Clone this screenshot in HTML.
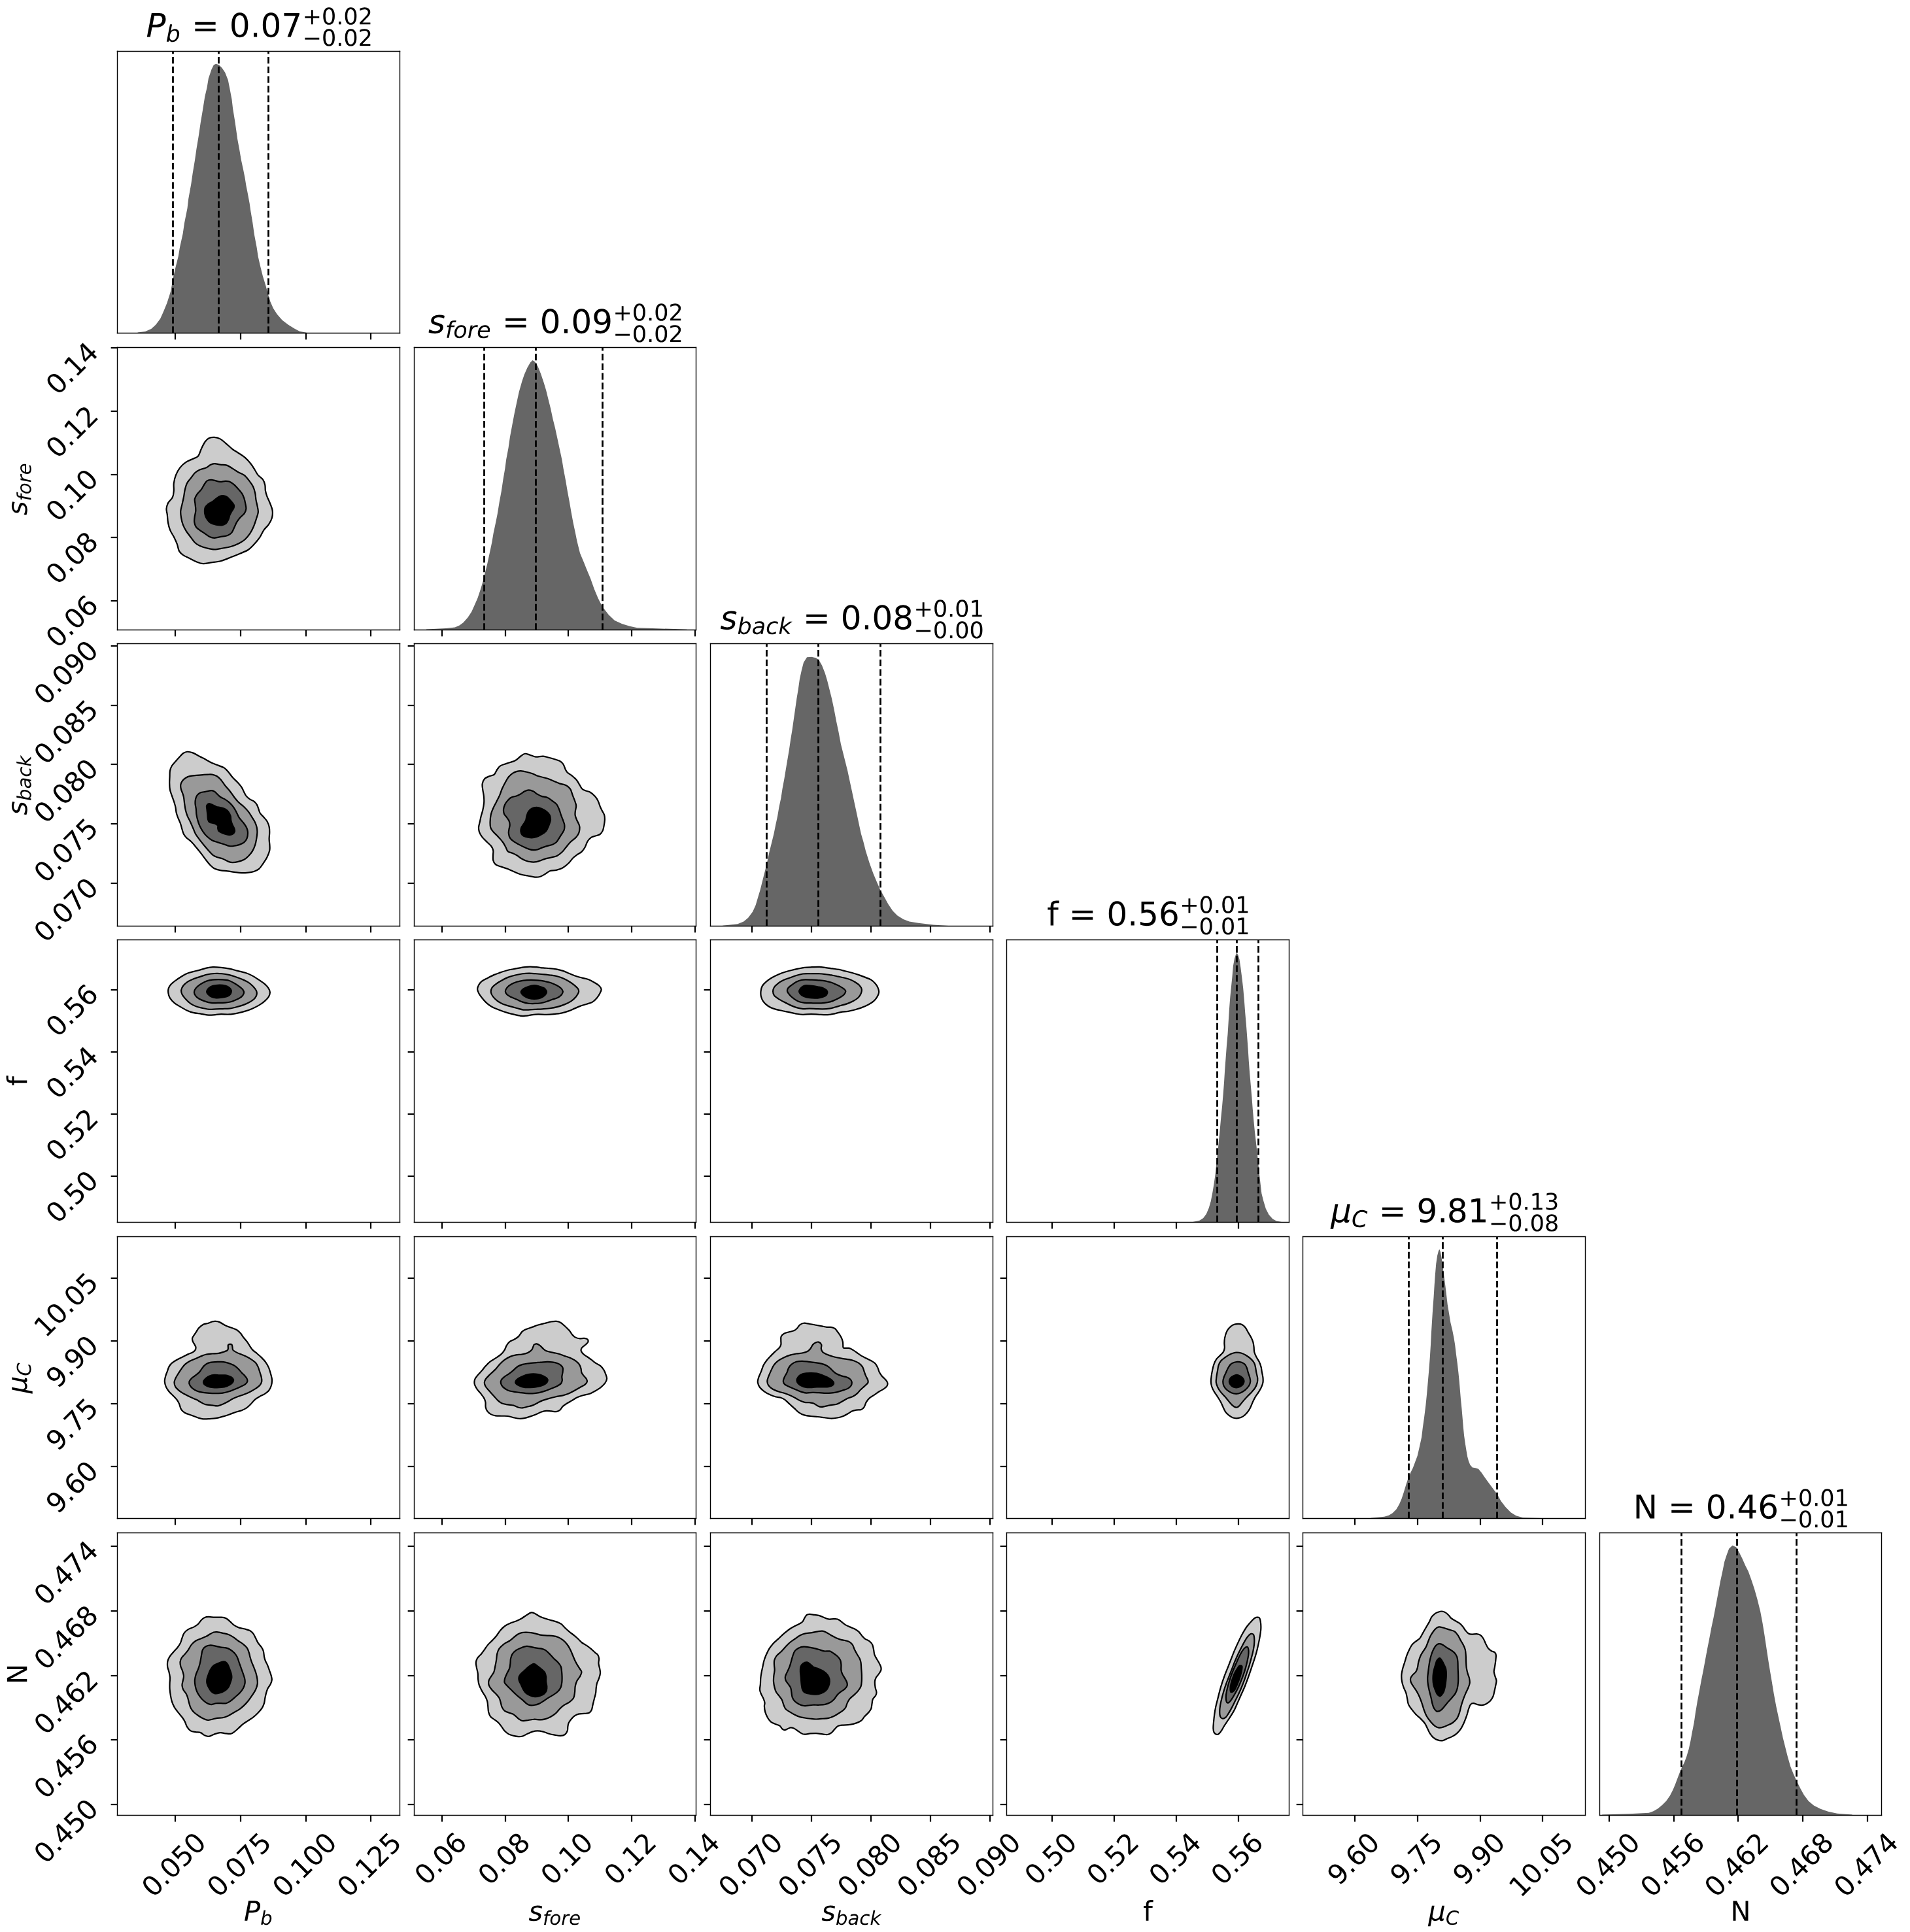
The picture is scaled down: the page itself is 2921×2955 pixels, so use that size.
<!DOCTYPE html>
<html><head><meta charset="utf-8"><title>corner</title>
<style>html,body{margin:0;padding:0;background:#fff;font-family:"Liberation Sans",sans-serif}svg{display:block}</style></head>
<body>
<svg width="2921" height="2955" viewBox="0 0 1051.56 1063.8" version="1.1"><desc>Corner plot of posterior samples for parameters P_b = 0.07 (+0.02 -0.02), s_fore = 0.09 (+0.02 -0.02), s_back = 0.08 (+0.01 -0.00), f = 0.56 (+0.01 -0.01), mu_C = 9.81 (+0.13 -0.08), N = 0.46 (+0.01 -0.01)</desc>
<defs>
<style type="text/css">*{stroke-linejoin: round; stroke-linecap: butt}</style>
</defs>
<g id="figure_1">
<g id="patch_1">
<path d="M 0 1063.8 
L 1051.56 1063.8 
L 1051.56 0 
L 0 0 
z
" style="fill: #ffffff"/>
</g>
<g id="axes_1">
<g id="patch_2">
<path d="M 64.62 183.42 
L 220.14 183.42 
L 220.14 28.26 
L 64.62 28.26 
z
" style="fill: #ffffff"/>
</g>
<g id="patch_3">
<path d="M 75.799791 183.42 
L 75.799791 183.049634 
L 79.946387 182.552042 
L 83.263665 181.059267 
L 85.751623 178.820105 
L 88.239581 175.502827 
L 89.89822 171.77089 
L 91.971518 166.794974 
L 94.044817 160.160419 
L 95.288796 153.111204 
L 96.532775 147.720628 
L 98.191414 141.086073 
L 99.020733 136.110157 
L 100.679372 128.646283 
L 101.508691 122.841047 
L 103.16733 114.547853 
L 103.747853 109.571937 
L 105.240628 101.278743 
L 106.069948 95.473508 
L 107.313927 88.009634 
L 108.143246 82.204398 
L 109.387225 74.740524 
L 110.46534 67.276649 
L 111.460524 61.471414 
L 112.787435 53.17822 
L 113.948482 48.202304 
L 114.777801 43.226387 
L 116.43644 38.250471 
L 117.680419 35.762513 
L 118.924398 35.18199 
L 120.583037 35.762513 
L 122.241675 37.421152 
L 123.900314 39.90911 
L 125.558953 44.055707 
L 126.388272 48.202304 
L 127.632251 54.836859 
L 128.212775 59.812775 
L 129.29089 66.44733 
L 130.369005 73.911204 
L 130.700733 76.399162 
L 131.778848 82.204398 
L 132.774031 88.009634 
L 133.852147 92.98555 
L 134.84733 97.961466 
L 135.510785 102.108063 
L 136.340105 106.25466 
L 137.41822 112.059895 
L 137.998743 116.206492 
L 138.993927 122.011728 
L 140.072042 129.475602 
L 141.316021 136.110157 
L 142.14534 141.500733 
L 143.389319 146.891309 
L 144.633298 151.867225 
L 146.291937 157.257801 
L 147.535916 161.819058 
L 148.779895 165.965654 
L 150.438534 169.697592 
L 152.511832 173.014869 
L 155.41445 176.332147 
L 158.731728 178.820105 
L 162.049005 180.893403 
L 164.951623 182.386178 
L 168.68356 183.132565 
L 168.68356 183.42 
z
" clip-path="url(#p8bea83e322)" style="fill: #666666"/>
</g>
<g id="matplotlib.axis_1">
<g id="xtick_1">
<g id="line2d_1">
<defs>
<path id="me9cd61fec0" d="M 0 0 
L 0 3.55 
" style="stroke: #000000; stroke-width: 0.8"/>
</defs>
<g>
<use href="#me9cd61fec0" x="96.48" y="183.42" style="stroke: #000000; stroke-width: 0.8"/>
</g>
</g>
</g>
<g id="xtick_2">
<g id="line2d_2">
<g>
<use href="#me9cd61fec0" x="132.48" y="183.42" style="stroke: #000000; stroke-width: 0.8"/>
</g>
</g>
</g>
<g id="xtick_3">
<g id="line2d_3">
<g>
<use href="#me9cd61fec0" x="168.48" y="183.42" style="stroke: #000000; stroke-width: 0.8"/>
</g>
</g>
</g>
<g id="xtick_4">
<g id="line2d_4">
<g>
<use href="#me9cd61fec0" x="204.12" y="183.42" style="stroke: #000000; stroke-width: 0.8"/>
</g>
</g>
</g>
</g>
<g id="matplotlib.axis_2"/>
<g id="line2d_5">
<path d="M 95.22 183.42 
L 95.22 28.26 
" clip-path="url(#p8bea83e322)" style="fill: none; stroke-dasharray: 3.7,1.6; stroke-dashoffset: 0; stroke: #000000"/>
</g>
<g id="line2d_6">
<path d="M 120.42 183.42 
L 120.42 28.26 
" clip-path="url(#p8bea83e322)" style="fill: none; stroke-dasharray: 3.7,1.6; stroke-dashoffset: 0; stroke: #000000"/>
</g>
<g id="line2d_7">
<path d="M 147.78 183.42 
L 147.78 28.26 
" clip-path="url(#p8bea83e322)" style="fill: none; stroke-dasharray: 3.7,1.6; stroke-dashoffset: 0; stroke: #000000"/>
</g>
<g id="patch_4">
<path d="M 64.62 183.42 
L 64.62 28.26 
" style="fill: none; stroke: #000000; stroke-width: 0.5; stroke-linejoin: miter; stroke-linecap: square"/>
</g>
<g id="patch_5">
<path d="M 220.14 183.42 
L 220.14 28.26 
" style="fill: none; stroke: #000000; stroke-width: 0.5; stroke-linejoin: miter; stroke-linecap: square"/>
</g>
<g id="patch_6">
<path d="M 64.62 183.42 
L 220.14 183.42 
" style="fill: none; stroke: #000000; stroke-width: 0.5; stroke-linejoin: miter; stroke-linecap: square"/>
</g>
<g id="patch_7">
<path d="M 64.62 28.26 
L 220.14 28.26 
" style="fill: none; stroke: #000000; stroke-width: 0.5; stroke-linejoin: miter; stroke-linecap: square"/>
</g>
<g id="text_1">
<g transform="translate(80.4348 20.46) scale(0.18 -0.18)">
<defs>
<path id="DejaVuSans-Oblique-50" d="M 1081 4666 
L 2541 4666 
Q 3178 4666 3512 4369 
Q 3847 4072 3847 3500 
Q 3847 2731 3353 2303 
Q 2859 1875 1966 1875 
L 1172 1875 
L 806 0 
L 172 0 
L 1081 4666 
z
M 1613 4147 
L 1275 2394 
L 2069 2394 
Q 2606 2394 2893 2669 
Q 3181 2944 3181 3456 
Q 3181 3784 2986 3965 
Q 2791 4147 2438 4147 
L 1613 4147 
z
" transform="scale(0.015625)"/>
<path id="DejaVuSans-Oblique-62" d="M 3169 2138 
Q 3169 2591 2961 2847 
Q 2753 3103 2388 3103 
Q 2122 3103 1889 2973 
Q 1656 2844 1484 2597 
Q 1303 2338 1198 1995 
Q 1094 1653 1094 1313 
Q 1094 881 1298 636 
Q 1503 391 1863 391 
Q 2134 391 2365 517 
Q 2597 644 2772 891 
Q 2950 1147 3059 1487 
Q 3169 1828 3169 2138 
z
M 1381 2969 
Q 1594 3256 1914 3420 
Q 2234 3584 2584 3584 
Q 3122 3584 3439 3221 
Q 3756 2859 3756 2241 
Q 3756 1734 3570 1259 
Q 3384 784 3041 416 
Q 2816 172 2522 40 
Q 2228 -91 1906 -91 
Q 1566 -91 1316 65 
Q 1066 222 909 531 
L 806 0 
L 231 0 
L 1178 4863 
L 1753 4863 
L 1381 2969 
z
" transform="scale(0.015625)"/>
<path id="DejaVuSans-20" transform="scale(0.015625)"/>
<path id="DejaVuSans-3d" d="M 678 2906 
L 4684 2906 
L 4684 2381 
L 678 2381 
L 678 2906 
z
M 678 1631 
L 4684 1631 
L 4684 1100 
L 678 1100 
L 678 1631 
z
" transform="scale(0.015625)"/>
<path id="DejaVuSans-30" d="M 2034 4250 
Q 1547 4250 1301 3770 
Q 1056 3291 1056 2328 
Q 1056 1369 1301 889 
Q 1547 409 2034 409 
Q 2525 409 2770 889 
Q 3016 1369 3016 2328 
Q 3016 3291 2770 3770 
Q 2525 4250 2034 4250 
z
M 2034 4750 
Q 2819 4750 3233 4129 
Q 3647 3509 3647 2328 
Q 3647 1150 3233 529 
Q 2819 -91 2034 -91 
Q 1250 -91 836 529 
Q 422 1150 422 2328 
Q 422 3509 836 4129 
Q 1250 4750 2034 4750 
z
" transform="scale(0.015625)"/>
<path id="DejaVuSans-2e" d="M 684 794 
L 1344 794 
L 1344 0 
L 684 0 
L 684 794 
z
" transform="scale(0.015625)"/>
<path id="DejaVuSans-37" d="M 525 4666 
L 3525 4666 
L 3525 4397 
L 1831 0 
L 1172 0 
L 2766 4134 
L 525 4134 
L 525 4666 
z
" transform="scale(0.015625)"/>
<path id="DejaVuSans-2b" d="M 2944 4013 
L 2944 2272 
L 4684 2272 
L 4684 1741 
L 2944 1741 
L 2944 0 
L 2419 0 
L 2419 1741 
L 678 1741 
L 678 2272 
L 2419 2272 
L 2419 4013 
L 2944 4013 
z
" transform="scale(0.015625)"/>
<path id="DejaVuSans-32" d="M 1228 531 
L 3431 531 
L 3431 0 
L 469 0 
L 469 531 
Q 828 903 1448 1529 
Q 2069 2156 2228 2338 
Q 2531 2678 2651 2914 
Q 2772 3150 2772 3378 
Q 2772 3750 2511 3984 
Q 2250 4219 1831 4219 
Q 1534 4219 1204 4116 
Q 875 4013 500 3803 
L 500 4441 
Q 881 4594 1212 4672 
Q 1544 4750 1819 4750 
Q 2544 4750 2975 4387 
Q 3406 4025 3406 3419 
Q 3406 3131 3298 2873 
Q 3191 2616 2906 2266 
Q 2828 2175 2409 1742 
Q 1991 1309 1228 531 
z
" transform="scale(0.015625)"/>
<path id="DejaVuSans-2212" d="M 678 2272 
L 4684 2272 
L 4684 1741 
L 678 1741 
L 678 2272 
z
" transform="scale(0.015625)"/>
</defs>
<use href="#DejaVuSans-Oblique-50" transform="translate(0 0.765625)"/>
<use href="#DejaVuSans-Oblique-62" transform="translate(60.302734 -14) scale(0.7)"/>
<use href="#DejaVuSans-20" transform="translate(107.470703 0.765625)"/>
<use href="#DejaVuSans-3d" transform="translate(139.257812 0.765625)"/>
<use href="#DejaVuSans-20" transform="translate(223.046875 0.765625)"/>
<use href="#DejaVuSans-30" transform="translate(254.833984 0.765625)"/>
<use href="#DejaVuSans-2e" transform="translate(318.457031 0.765625)"/>
<use href="#DejaVuSans-30" transform="translate(350.244141 0.765625)"/>
<use href="#DejaVuSans-37" transform="translate(413.867188 0.765625)"/>
<use href="#DejaVuSans-2b" transform="translate(478.447266 39.046875) scale(0.7)"/>
<use href="#DejaVuSans-30" transform="translate(537.099609 39.046875) scale(0.7)"/>
<use href="#DejaVuSans-2e" transform="translate(581.635742 39.046875) scale(0.7)"/>
<use href="#DejaVuSans-30" transform="translate(603.886719 39.046875) scale(0.7)"/>
<use href="#DejaVuSans-32" transform="translate(648.422852 39.046875) scale(0.7)"/>
<use href="#DejaVuSans-2212" transform="translate(478.447266 -26.578125) scale(0.7)"/>
<use href="#DejaVuSans-30" transform="translate(537.099609 -26.578125) scale(0.7)"/>
<use href="#DejaVuSans-2e" transform="translate(581.635742 -26.578125) scale(0.7)"/>
<use href="#DejaVuSans-30" transform="translate(603.886719 -26.578125) scale(0.7)"/>
<use href="#DejaVuSans-32" transform="translate(648.422852 -26.578125) scale(0.7)"/>
</g>
</g>
</g>
<g id="axes_2">
<g id="patch_8">
<path d="M 64.62 346.86 
L 220.14 346.86 
L 220.14 191.34 
L 64.62 191.34 
z
" style="fill: #ffffff"/>
</g>
<g id="patch_9">
<path d="M 118.08377 240.78534 
C 119.101571 240.860733 120.194764 241.124607 121.250262 241.690052 
C 122.305759 242.255497 123.285864 243.235602 124.416754 244.17801 
C 125.547644 245.120419 126.904712 246.477487 128.035602 247.344503 
C 129.166492 248.211518 130.071204 248.626178 131.202094 249.380105 
C 132.332984 250.134031 133.690052 250.887958 134.820942 251.868063 
C 135.951832 252.848168 137.082723 254.129843 137.987435 255.260733 
C 138.892147 256.391623 139.570681 257.597906 140.249215 258.653403 
C 140.927749 259.708901 141.304712 260.689005 142.058639 261.593717 
C 142.812565 262.498429 144.131937 263.176963 144.772775 264.081675 
C 145.413613 264.986387 145.677487 266.004188 145.903665 267.02199 
C 146.129843 268.039791 145.941361 269.132984 146.129843 270.188482 
C 146.318325 271.243979 146.619895 272.224084 147.034555 273.354974 
C 147.449215 274.485864 148.127749 275.692147 148.617801 276.973822 
C 149.107853 278.255497 149.786387 279.687958 149.974869 281.045026 
C 150.163351 282.402094 150.087958 283.834555 149.748691 285.11623 
C 149.409424 286.397906 148.693194 287.604188 147.939267 288.735079 
C 147.18534 289.865969 146.05445 290.695288 145.225131 291.901571 
C 144.395812 293.107853 143.868063 294.653403 142.963351 295.972775 
C 142.058639 297.292147 140.852356 298.686911 139.796859 299.817801 
C 138.741361 300.948691 137.912042 301.928796 136.630366 302.758115 
C 135.348691 303.587435 133.690052 304.115183 132.106806 304.793717 
C 130.52356 305.472251 128.864921 306.150785 127.13089 306.829319 
C 125.396859 307.507853 123.512042 308.374869 121.702618 308.864921 
C 119.893194 309.354974 117.932984 309.520838 116.274346 309.769634 
C 114.615707 310.018429 113.107853 310.433089 111.750785 310.357696 
C 110.393717 310.282304 109.33822 309.792251 108.131937 309.317277 
C 106.925654 308.842304 105.719372 308.110995 104.513089 307.507853 
C 103.306806 306.904712 101.874346 306.376963 100.894241 305.698429 
C 99.914136 305.019895 99.197906 304.45445 98.632461 303.436649 
C 98.067016 302.418848 97.953927 300.835602 97.501571 299.591623 
C 97.049215 298.347644 96.559162 297.25445 95.918325 295.972775 
C 95.277487 294.691099 94.22199 293.258639 93.656545 291.901571 
C 93.091099 290.544503 92.789529 289.262827 92.525654 287.830366 
C 92.26178 286.397906 92.224084 284.588482 92.073298 283.306806 
C 91.922513 282.025131 91.54555 281.195812 91.620942 280.140314 
C 91.696335 279.084817 91.960209 278.029319 92.525654 276.973822 
C 93.091099 275.918325 94.485864 274.93822 95.013613 273.80733 
C 95.541361 272.67644 95.579058 271.470157 95.692147 270.188482 
C 95.805236 268.906806 95.503665 267.549738 95.692147 266.117277 
C 95.880628 264.684817 96.257592 263.026178 96.823037 261.593717 
C 97.388482 260.161257 98.180105 258.691099 99.084817 257.522513 
C 99.989529 256.353927 101.120419 255.373822 102.251309 254.582199 
C 103.382199 253.790576 104.739267 253.33822 105.870157 252.772775 
C 107.001047 252.20733 108.20733 252.131937 109.036649 251.189529 
C 109.865969 250.24712 110.205236 248.437696 110.846073 247.118325 
C 111.486911 245.798953 112.165445 244.253403 112.881675 243.273298 
C 113.597906 242.293194 114.27644 241.652356 115.143455 241.237696 
C 116.010471 240.823037 117.065969 240.709948 118.08377 240.78534 
z
" clip-path="url(#p93e1cdfbff)" style="fill: #cccccc; stroke: #000000; stroke-width: 0.8"/>
</g>
<g id="patch_10">
<path d="M 118.08377 255.260733 
C 118.988482 255.238115 120.119372 255.652775 121.250262 255.80356 
C 122.381152 255.954346 123.73822 255.80356 124.86911 256.165445 
C 126 256.52733 126.980105 257.334031 128.035602 257.974869 
C 129.091099 258.615707 130.146597 259.40733 131.202094 260.010471 
C 132.257592 260.613613 133.388482 260.839791 134.368586 261.593717 
C 135.348691 262.347644 136.253403 263.478534 137.082723 264.534031 
C 137.912042 265.589529 138.779058 266.758115 139.344503 267.926702 
C 139.909948 269.095288 140.211518 270.339267 140.475393 271.54555 
C 140.739267 272.751832 140.739267 274.033508 140.927749 275.164398 
C 141.11623 276.295288 141.402723 277.2 141.606283 278.33089 
C 141.809843 279.46178 142.224503 280.743455 142.14911 281.949738 
C 142.073717 283.156021 141.583665 284.211518 141.153927 285.568586 
C 140.724188 286.925654 140.173822 288.697382 139.570681 290.092147 
C 138.967539 291.486911 138.326702 292.768586 137.535079 293.937173 
C 136.743455 295.105759 135.801047 296.236649 134.820942 297.103665 
C 133.840838 297.970681 132.936126 298.498429 131.65445 299.139267 
C 130.372775 299.780105 128.638743 300.496335 127.13089 300.948691 
C 125.623037 301.401047 124.115183 301.589529 122.60733 301.853403 
C 121.099476 302.117277 119.51623 302.531937 118.08377 302.531937 
C 116.651309 302.531937 115.369634 302.19267 114.012565 301.853403 
C 112.655497 301.514136 111.072251 301.024084 109.941361 300.496335 
C 108.810471 299.968586 108.056545 299.478534 107.227225 298.686911 
C 106.397906 297.895288 105.757068 296.802094 104.965445 295.746597 
C 104.173822 294.691099 103.193717 293.522513 102.477487 292.353927 
C 101.761257 291.18534 101.120419 289.941361 100.668063 288.735079 
C 100.215707 287.528796 99.966911 286.322513 99.763351 285.11623 
C 99.559791 283.909948 99.371309 282.703665 99.446702 281.497382 
C 99.522094 280.291099 99.936754 279.160209 100.215707 277.878534 
C 100.49466 276.596859 100.856545 275.164398 101.120419 273.80733 
C 101.384293 272.450262 101.497382 271.017801 101.798953 269.736126 
C 102.100524 268.45445 102.402094 267.172775 102.929843 266.117277 
C 103.457592 265.06178 104.249215 264.34555 104.965445 263.403141 
C 105.681675 262.460733 106.397906 261.25445 107.227225 260.462827 
C 108.056545 259.671204 108.885864 259.143455 109.941361 258.653403 
C 110.996859 258.163351 112.580105 257.974869 113.560209 257.522513 
C 114.540314 257.070157 115.068063 256.31623 115.82199 255.939267 
C 116.575916 255.562304 117.179058 255.283351 118.08377 255.260733 
z
" clip-path="url(#p93e1cdfbff)" style="fill: #999999; stroke: #000000; stroke-width: 0.8"/>
</g>
<g id="patch_11">
<path d="M 116.274346 264.217382 
C 117.028272 264.202304 117.706806 264.488796 118.536126 264.669738 
C 119.365445 264.850681 120.34555 265.26534 121.250262 265.303037 
C 122.154974 265.340733 123.135079 264.926073 123.964398 264.895916 
C 124.793717 264.865759 125.472251 264.843141 126.226178 265.122094 
C 126.980105 265.401047 127.658639 265.876021 128.487958 266.569634 
C 129.317277 267.263246 130.410471 268.416754 131.202094 269.28377 
C 131.993717 270.150785 132.709948 270.942408 133.237696 271.771728 
C 133.765445 272.601047 134.067016 273.39267 134.368586 274.259686 
C 134.670157 275.126702 134.858639 275.993717 135.04712 276.973822 
C 135.235602 277.953927 135.574869 279.197906 135.499476 280.140314 
C 135.424084 281.082723 135.160209 281.798953 134.594764 282.628272 
C 134.029319 283.457592 132.823037 284.286911 132.106806 285.11623 
C 131.390576 285.94555 130.825131 286.699476 130.297382 287.604188 
C 129.769634 288.508901 129.39267 289.602094 128.940314 290.544503 
C 128.487958 291.486911 128.186387 292.542408 127.583246 293.258639 
C 126.980105 293.974869 126.301571 294.464921 125.321466 294.841885 
C 124.341361 295.218848 122.908901 295.294241 121.702618 295.520419 
C 120.496335 295.746597 119.139267 296.198953 118.08377 296.198953 
C 117.028272 296.198953 116.274346 295.935079 115.369634 295.520419 
C 114.464921 295.105759 113.560209 294.314136 112.655497 293.710995 
C 111.750785 293.107853 110.732984 292.504712 109.941361 291.901571 
C 109.149738 291.298429 108.395812 290.846073 107.905759 290.092147 
C 107.415707 289.33822 107.114136 288.358115 107.001047 287.37801 
C 106.887958 286.397906 107.099058 285.267016 107.227225 284.211518 
C 107.355393 283.156021 107.732356 282.175916 107.770052 281.045026 
C 107.807749 279.914136 107.543874 278.481675 107.453403 277.426178 
C 107.362932 276.370681 107.038743 275.616754 107.227225 274.712042 
C 107.415707 273.80733 107.981152 272.864921 108.584293 271.997906 
C 109.187435 271.13089 110.205236 270.376963 110.846073 269.509948 
C 111.486911 268.642932 111.901571 267.587435 112.429319 266.795812 
C 112.957068 266.004188 113.371728 265.189948 114.012565 264.760209 
C 114.653403 264.330471 115.520419 264.232461 116.274346 264.217382 
z
" clip-path="url(#p93e1cdfbff)" style="fill: #666666; stroke: #000000; stroke-width: 0.8"/>
</g>
<g id="patch_12">
<path d="M 122.833508 272.902618 
C 123.436649 272.97801 124.15288 273.091099 124.86911 273.581152 
C 125.58534 274.071204 126.490052 275.126702 127.13089 275.842932 
C 127.771728 276.559162 128.450262 277.237696 128.714136 277.878534 
C 128.97801 278.519372 128.940314 279.009424 128.714136 279.687958 
C 128.487958 280.366492 127.734031 281.271204 127.357068 281.949738 
C 126.980105 282.628272 126.71623 283.080628 126.452356 283.759162 
C 126.188482 284.437696 126.113089 285.267016 125.773822 286.020942 
C 125.434555 286.774869 125.019895 287.754974 124.416754 288.282723 
C 123.813613 288.810471 123.059686 289.074346 122.154974 289.187435 
C 121.250262 289.300524 120.043979 289.187435 118.988482 288.961257 
C 117.932984 288.735079 116.689005 288.395812 115.82199 287.830366 
C 114.954974 287.264921 114.291518 286.397906 113.786387 285.568586 
C 113.281257 284.739267 112.94199 283.834555 112.791204 282.85445 
C 112.640419 281.874346 112.602723 280.554974 112.881675 279.687958 
C 113.160628 278.820942 113.748691 278.255497 114.464921 277.652356 
C 115.181152 277.049215 116.349738 276.634555 117.179058 276.06911 
C 118.008377 275.503665 118.762304 274.749738 119.440838 274.259686 
C 120.119372 273.769634 120.684817 273.354974 121.250262 273.128796 
C 121.815707 272.902618 122.230366 272.827225 122.833508 272.902618 
z
" clip-path="url(#p93e1cdfbff)" style="stroke: #000000; stroke-width: 0.8"/>
</g>
<g id="matplotlib.axis_3">
<g id="xtick_5">
<g id="line2d_8">
<g>
<use href="#me9cd61fec0" x="96.48" y="346.86" style="stroke: #000000; stroke-width: 0.8"/>
</g>
</g>
</g>
<g id="xtick_6">
<g id="line2d_9">
<g>
<use href="#me9cd61fec0" x="132.48" y="346.86" style="stroke: #000000; stroke-width: 0.8"/>
</g>
</g>
</g>
<g id="xtick_7">
<g id="line2d_10">
<g>
<use href="#me9cd61fec0" x="168.48" y="346.86" style="stroke: #000000; stroke-width: 0.8"/>
</g>
</g>
</g>
<g id="xtick_8">
<g id="line2d_11">
<g>
<use href="#me9cd61fec0" x="204.12" y="346.86" style="stroke: #000000; stroke-width: 0.8"/>
</g>
</g>
</g>
</g>
<g id="matplotlib.axis_4">
<g id="ytick_1">
<g id="line2d_12">
<defs>
<path id="m2ecc1fbad5" d="M 0 0 
L -3.55 0 
" style="stroke: #000000; stroke-width: 0.8"/>
</defs>
<g>
<use href="#m2ecc1fbad5" x="64.62" y="330.84" style="stroke: #000000; stroke-width: 0.8"/>
</g>
</g>
<g id="text_2">
<g transform="translate(31.6926 357.4841) rotate(-45) scale(0.15 -0.15)">
<defs>
<path id="DejaVuSans-36" d="M 2113 2584 
Q 1688 2584 1439 2293 
Q 1191 2003 1191 1497 
Q 1191 994 1439 701 
Q 1688 409 2113 409 
Q 2538 409 2786 701 
Q 3034 994 3034 1497 
Q 3034 2003 2786 2293 
Q 2538 2584 2113 2584 
z
M 3366 4563 
L 3366 3988 
Q 3128 4100 2886 4159 
Q 2644 4219 2406 4219 
Q 1781 4219 1451 3797 
Q 1122 3375 1075 2522 
Q 1259 2794 1537 2939 
Q 1816 3084 2150 3084 
Q 2853 3084 3261 2657 
Q 3669 2231 3669 1497 
Q 3669 778 3244 343 
Q 2819 -91 2113 -91 
Q 1303 -91 875 529 
Q 447 1150 447 2328 
Q 447 3434 972 4092 
Q 1497 4750 2381 4750 
Q 2619 4750 2861 4703 
Q 3103 4656 3366 4563 
z
" transform="scale(0.015625)"/>
</defs>
<use href="#DejaVuSans-30"/>
<use href="#DejaVuSans-2e" transform="translate(62.4142 0)"/>
<use href="#DejaVuSans-30" transform="translate(93.5974 0)"/>
<use href="#DejaVuSans-36" transform="translate(156.0116 0)"/>
</g>
</g>
</g>
<g id="ytick_2">
<g id="line2d_13">
<g>
<use href="#m2ecc1fbad5" x="64.62" y="295.92" style="stroke: #000000; stroke-width: 0.8"/>
</g>
</g>
<g id="text_3">
<g transform="translate(31.6926 322.5641) rotate(-45) scale(0.15 -0.15)">
<defs>
<path id="DejaVuSans-38" d="M 2034 2216 
Q 1584 2216 1326 1975 
Q 1069 1734 1069 1313 
Q 1069 891 1326 650 
Q 1584 409 2034 409 
Q 2484 409 2743 651 
Q 3003 894 3003 1313 
Q 3003 1734 2745 1975 
Q 2488 2216 2034 2216 
z
M 1403 2484 
Q 997 2584 770 2862 
Q 544 3141 544 3541 
Q 544 4100 942 4425 
Q 1341 4750 2034 4750 
Q 2731 4750 3128 4425 
Q 3525 4100 3525 3541 
Q 3525 3141 3298 2862 
Q 3072 2584 2669 2484 
Q 3125 2378 3379 2068 
Q 3634 1759 3634 1313 
Q 3634 634 3220 271 
Q 2806 -91 2034 -91 
Q 1263 -91 848 271 
Q 434 634 434 1313 
Q 434 1759 690 2068 
Q 947 2378 1403 2484 
z
M 1172 3481 
Q 1172 3119 1398 2916 
Q 1625 2713 2034 2713 
Q 2441 2713 2670 2916 
Q 2900 3119 2900 3481 
Q 2900 3844 2670 4047 
Q 2441 4250 2034 4250 
Q 1625 4250 1398 4047 
Q 1172 3844 1172 3481 
z
" transform="scale(0.015625)"/>
</defs>
<use href="#DejaVuSans-30"/>
<use href="#DejaVuSans-2e" transform="translate(62.4142 0)"/>
<use href="#DejaVuSans-30" transform="translate(93.5974 0)"/>
<use href="#DejaVuSans-38" transform="translate(156.0116 0)"/>
</g>
</g>
</g>
<g id="ytick_3">
<g id="line2d_14">
<g>
<use href="#m2ecc1fbad5" x="64.62" y="261.36" style="stroke: #000000; stroke-width: 0.8"/>
</g>
</g>
<g id="text_4">
<g transform="translate(31.6926 288.0041) rotate(-45) scale(0.15 -0.15)">
<defs>
<path id="DejaVuSans-31" d="M 794 531 
L 1825 531 
L 1825 4091 
L 703 3866 
L 703 4441 
L 1819 4666 
L 2450 4666 
L 2450 531 
L 3481 531 
L 3481 0 
L 794 0 
L 794 531 
z
" transform="scale(0.015625)"/>
</defs>
<use href="#DejaVuSans-30"/>
<use href="#DejaVuSans-2e" transform="translate(62.4142 0)"/>
<use href="#DejaVuSans-31" transform="translate(93.5974 0)"/>
<use href="#DejaVuSans-30" transform="translate(156.0116 0)"/>
</g>
</g>
</g>
<g id="ytick_4">
<g id="line2d_15">
<g>
<use href="#m2ecc1fbad5" x="64.62" y="226.44" style="stroke: #000000; stroke-width: 0.8"/>
</g>
</g>
<g id="text_5">
<g transform="translate(31.6926 253.0841) rotate(-45) scale(0.15 -0.15)">
<use href="#DejaVuSans-30"/>
<use href="#DejaVuSans-2e" transform="translate(62.4142 0)"/>
<use href="#DejaVuSans-31" transform="translate(93.5974 0)"/>
<use href="#DejaVuSans-32" transform="translate(156.0116 0)"/>
</g>
</g>
</g>
<g id="ytick_5">
<g id="line2d_16">
<g>
<use href="#m2ecc1fbad5" x="64.62" y="191.52" style="stroke: #000000; stroke-width: 0.8"/>
</g>
</g>
<g id="text_6">
<g transform="translate(31.6926 218.1641) rotate(-45) scale(0.15 -0.15)">
<defs>
<path id="DejaVuSans-34" d="M 2419 4116 
L 825 1625 
L 2419 1625 
L 2419 4116 
z
M 2253 4666 
L 3047 4666 
L 3047 1625 
L 3713 1625 
L 3713 1100 
L 3047 1100 
L 3047 0 
L 2419 0 
L 2419 1100 
L 313 1100 
L 313 1709 
L 2253 4666 
z
" transform="scale(0.015625)"/>
</defs>
<use href="#DejaVuSans-30"/>
<use href="#DejaVuSans-2e" transform="translate(62.4142 0)"/>
<use href="#DejaVuSans-31" transform="translate(93.5974 0)"/>
<use href="#DejaVuSans-34" transform="translate(156.0116 0)"/>
</g>
</g>
</g>
<g id="text_7">
<g transform="translate(14.844469 283.725) rotate(-90) scale(0.15 -0.15)">
<defs>
<path id="DejaVuSans-Oblique-73" d="M 3200 3397 
L 3091 2853 
Q 2863 2978 2609 3040 
Q 2356 3103 2088 3103 
Q 1634 3103 1373 2948 
Q 1113 2794 1113 2528 
Q 1113 2219 1719 2053 
Q 1766 2041 1788 2034 
L 1972 1978 
Q 2547 1819 2739 1644 
Q 2931 1469 2931 1166 
Q 2931 609 2489 259 
Q 2047 -91 1331 -91 
Q 1053 -91 747 -37 
Q 441 16 72 128 
L 184 722 
Q 500 559 806 475 
Q 1113 391 1394 391 
Q 1816 391 2080 572 
Q 2344 753 2344 1031 
Q 2344 1331 1650 1516 
L 1591 1531 
L 1394 1581 
Q 956 1697 753 1886 
Q 550 2075 550 2369 
Q 550 2928 970 3256 
Q 1391 3584 2113 3584 
Q 2397 3584 2667 3537 
Q 2938 3491 3200 3397 
z
" transform="scale(0.015625)"/>
<path id="DejaVuSans-Oblique-66" d="M 3059 4863 
L 2969 4384 
L 2419 4384 
Q 2106 4384 1964 4261 
Q 1822 4138 1753 3809 
L 1691 3500 
L 2638 3500 
L 2553 3053 
L 1606 3053 
L 1013 0 
L 434 0 
L 1031 3053 
L 481 3053 
L 563 3500 
L 1113 3500 
L 1159 3744 
Q 1278 4363 1576 4613 
Q 1875 4863 2516 4863 
L 3059 4863 
z
" transform="scale(0.015625)"/>
<path id="DejaVuSans-Oblique-6f" d="M 1625 -91 
Q 1009 -91 651 289 
Q 294 669 294 1325 
Q 294 1706 417 2101 
Q 541 2497 738 2766 
Q 1047 3184 1428 3384 
Q 1809 3584 2291 3584 
Q 2888 3584 3255 3212 
Q 3622 2841 3622 2241 
Q 3622 1825 3500 1412 
Q 3378 1000 3181 728 
Q 2875 309 2494 109 
Q 2113 -91 1625 -91 
z
M 891 1344 
Q 891 869 1089 633 
Q 1288 397 1691 397 
Q 2269 397 2648 901 
Q 3028 1406 3028 2181 
Q 3028 2634 2825 2865 
Q 2622 3097 2228 3097 
Q 1903 3097 1650 2945 
Q 1397 2794 1197 2484 
Q 1050 2253 970 1956 
Q 891 1659 891 1344 
z
" transform="scale(0.015625)"/>
<path id="DejaVuSans-Oblique-72" d="M 2853 2969 
Q 2766 3016 2653 3041 
Q 2541 3066 2413 3066 
Q 1953 3066 1609 2717 
Q 1266 2369 1153 1784 
L 800 0 
L 225 0 
L 909 3500 
L 1484 3500 
L 1375 2956 
Q 1603 3259 1920 3421 
Q 2238 3584 2597 3584 
Q 2691 3584 2781 3573 
Q 2872 3563 2963 3538 
L 2853 2969 
z
" transform="scale(0.015625)"/>
<path id="DejaVuSans-Oblique-65" d="M 3078 2063 
Q 3088 2113 3092 2166 
Q 3097 2219 3097 2272 
Q 3097 2653 2873 2875 
Q 2650 3097 2266 3097 
Q 1838 3097 1509 2826 
Q 1181 2556 1013 2059 
L 3078 2063 
z
M 3578 1613 
L 903 1613 
Q 884 1494 878 1425 
Q 872 1356 872 1306 
Q 872 872 1139 634 
Q 1406 397 1894 397 
Q 2269 397 2603 481 
Q 2938 566 3225 728 
L 3116 159 
Q 2806 34 2476 -28 
Q 2147 -91 1806 -91 
Q 1078 -91 686 257 
Q 294 606 294 1247 
Q 294 1794 489 2264 
Q 684 2734 1063 3103 
Q 1306 3334 1642 3459 
Q 1978 3584 2356 3584 
Q 2950 3584 3301 3228 
Q 3653 2872 3653 2272 
Q 3653 2128 3634 1964 
Q 3616 1800 3578 1613 
z
" transform="scale(0.015625)"/>
</defs>
<use href="#DejaVuSans-Oblique-73"/>
<use href="#DejaVuSans-Oblique-66" transform="translate(52.099609 -14.765625) scale(0.7)"/>
<use href="#DejaVuSans-Oblique-6f" transform="translate(76.743164 -14.765625) scale(0.7)"/>
<use href="#DejaVuSans-Oblique-72" transform="translate(119.570312 -14.765625) scale(0.7)"/>
<use href="#DejaVuSans-Oblique-65" transform="translate(148.349609 -14.765625) scale(0.7)"/>
</g>
</g>
</g>
<g id="patch_13">
<path d="M 64.62 346.86 
L 64.62 191.34 
" style="fill: none; stroke: #000000; stroke-width: 0.5; stroke-linejoin: miter; stroke-linecap: square"/>
</g>
<g id="patch_14">
<path d="M 220.14 346.86 
L 220.14 191.34 
" style="fill: none; stroke: #000000; stroke-width: 0.5; stroke-linejoin: miter; stroke-linecap: square"/>
</g>
<g id="patch_15">
<path d="M 64.62 346.86 
L 220.14 346.86 
" style="fill: none; stroke: #000000; stroke-width: 0.5; stroke-linejoin: miter; stroke-linecap: square"/>
</g>
<g id="patch_16">
<path d="M 64.62 191.34 
L 220.14 191.34 
" style="fill: none; stroke: #000000; stroke-width: 0.5; stroke-linejoin: miter; stroke-linecap: square"/>
</g>
</g>
<g id="axes_3">
<g id="patch_17">
<path d="M 228.06 346.86 
L 383.22 346.86 
L 383.22 191.34 
L 228.06 191.34 
z
" style="fill: #ffffff"/>
</g>
<g id="patch_18">
<path d="M 234.733194 346.86 
L 234.733194 346.489634 
L 245.514346 345.992042 
L 250.490262 345.411518 
L 252.97822 344.333403 
L 255.051518 342.840628 
L 257.539476 340.020942 
L 259.612775 336.869529 
L 261.271414 333.137592 
L 262.930052 329.405654 
L 264.588691 324.429738 
L 265.83267 320.283141 
L 267.076649 315.307225 
L 268.320628 310.331309 
L 269.564607 304.526073 
L 270.808586 298.720838 
L 271.637906 293.744921 
L 272.881885 287.939686 
L 273.877068 282.96377 
L 274.955183 276.329215 
L 276.033298 270.523979 
L 277.028482 263.889424 
L 278.023665 258.084188 
L 278.68712 253.108272 
L 279.931099 246.473717 
L 280.760419 240.668482 
L 282.004398 234.033927 
L 283.248377 227.399372 
L 284.492356 221.594136 
L 285.736335 215.788901 
L 287.394974 209.983665 
L 288.638953 206.251728 
L 290.297592 202.519791 
L 291.95623 199.617173 
L 293.200209 198.373194 
L 294.444188 199.202513 
L 296.102827 201.690471 
L 297.761466 205.837068 
L 299.420105 210.812984 
L 300.664084 214.959581 
L 301.908063 219.935497 
L 303.152042 224.911414 
L 304.396021 230.716649 
L 305.64 235.692565 
L 306.883979 241.497801 
L 308.127958 247.303037 
L 309.371937 253.108272 
L 310.201257 258.084188 
L 311.445236 264.718743 
L 312.440419 270.523979 
L 313.518534 276.329215 
L 314.513717 282.13445 
L 315.591832 287.939686 
L 316.669948 292.915602 
L 317.665131 297.891518 
L 319.32377 304.526073 
L 321.397068 309.50199 
L 323.055707 313.648586 
L 325.129005 318.624503 
L 327.202304 324.429738 
L 329.275602 329.405654 
L 331.597696 333.966911 
L 335.080838 338.528168 
L 338.398115 341.679581 
L 342.544712 343.504084 
L 346.691309 344.830995 
L 350.837906 345.660314 
L 359.131099 345.992042 
L 371.57089 346.32377 
L 378.205445 346.572565 
L 378.205445 346.86 
z
" clip-path="url(#p58d51e2e26)" style="fill: #666666"/>
</g>
<g id="matplotlib.axis_5">
<g id="xtick_9">
<g id="line2d_17">
<g>
<use href="#me9cd61fec0" x="243.36" y="346.86" style="stroke: #000000; stroke-width: 0.8"/>
</g>
</g>
</g>
<g id="xtick_10">
<g id="line2d_18">
<g>
<use href="#me9cd61fec0" x="278.28" y="346.86" style="stroke: #000000; stroke-width: 0.8"/>
</g>
</g>
</g>
<g id="xtick_11">
<g id="line2d_19">
<g>
<use href="#me9cd61fec0" x="312.84" y="346.86" style="stroke: #000000; stroke-width: 0.8"/>
</g>
</g>
</g>
<g id="xtick_12">
<g id="line2d_20">
<g>
<use href="#me9cd61fec0" x="347.76" y="346.86" style="stroke: #000000; stroke-width: 0.8"/>
</g>
</g>
</g>
<g id="xtick_13">
<g id="line2d_21">
<g>
<use href="#me9cd61fec0" x="382.68" y="346.86" style="stroke: #000000; stroke-width: 0.8"/>
</g>
</g>
</g>
</g>
<g id="matplotlib.axis_6"/>
<g id="line2d_22">
<path d="M 266.58 346.86 
L 266.58 191.34 
" clip-path="url(#p58d51e2e26)" style="fill: none; stroke-dasharray: 3.7,1.6; stroke-dashoffset: 0; stroke: #000000"/>
</g>
<g id="line2d_23">
<path d="M 295.02 346.86 
L 295.02 191.34 
" clip-path="url(#p58d51e2e26)" style="fill: none; stroke-dasharray: 3.7,1.6; stroke-dashoffset: 0; stroke: #000000"/>
</g>
<g id="line2d_24">
<path d="M 331.74 346.86 
L 331.74 191.34 
" clip-path="url(#p58d51e2e26)" style="fill: none; stroke-dasharray: 3.7,1.6; stroke-dashoffset: 0; stroke: #000000"/>
</g>
<g id="patch_19">
<path d="M 228.06 346.86 
L 228.06 191.34 
" style="fill: none; stroke: #000000; stroke-width: 0.5; stroke-linejoin: miter; stroke-linecap: square"/>
</g>
<g id="patch_20">
<path d="M 383.22 346.86 
L 383.22 191.34 
" style="fill: none; stroke: #000000; stroke-width: 0.5; stroke-linejoin: miter; stroke-linecap: square"/>
</g>
<g id="patch_21">
<path d="M 228.06 346.86 
L 383.22 346.86 
" style="fill: none; stroke: #000000; stroke-width: 0.5; stroke-linejoin: miter; stroke-linecap: square"/>
</g>
<g id="patch_22">
<path d="M 228.06 191.34 
L 383.22 191.34 
" style="fill: none; stroke: #000000; stroke-width: 0.5; stroke-linejoin: miter; stroke-linecap: square"/>
</g>
<g id="text_8">
<g transform="translate(235.7748 183.54) scale(0.18 -0.18)">
<defs>
<path id="DejaVuSans-39" d="M 703 97 
L 703 672 
Q 941 559 1184 500 
Q 1428 441 1663 441 
Q 2288 441 2617 861 
Q 2947 1281 2994 2138 
Q 2813 1869 2534 1725 
Q 2256 1581 1919 1581 
Q 1219 1581 811 2004 
Q 403 2428 403 3163 
Q 403 3881 828 4315 
Q 1253 4750 1959 4750 
Q 2769 4750 3195 4129 
Q 3622 3509 3622 2328 
Q 3622 1225 3098 567 
Q 2575 -91 1691 -91 
Q 1453 -91 1209 -44 
Q 966 3 703 97 
z
M 1959 2075 
Q 2384 2075 2632 2365 
Q 2881 2656 2881 3163 
Q 2881 3666 2632 3958 
Q 2384 4250 1959 4250 
Q 1534 4250 1286 3958 
Q 1038 3666 1038 3163 
Q 1038 2656 1286 2365 
Q 1534 2075 1959 2075 
z
" transform="scale(0.015625)"/>
</defs>
<use href="#DejaVuSans-Oblique-73" transform="translate(0 0.765625)"/>
<use href="#DejaVuSans-Oblique-66" transform="translate(52.099609 -14) scale(0.7)"/>
<use href="#DejaVuSans-Oblique-6f" transform="translate(76.743164 -14) scale(0.7)"/>
<use href="#DejaVuSans-Oblique-72" transform="translate(119.570312 -14) scale(0.7)"/>
<use href="#DejaVuSans-Oblique-65" transform="translate(148.349609 -14) scale(0.7)"/>
<use href="#DejaVuSans-20" transform="translate(194.150391 0.765625)"/>
<use href="#DejaVuSans-3d" transform="translate(225.9375 0.765625)"/>
<use href="#DejaVuSans-20" transform="translate(309.726562 0.765625)"/>
<use href="#DejaVuSans-30" transform="translate(341.513672 0.765625)"/>
<use href="#DejaVuSans-2e" transform="translate(405.136719 0.765625)"/>
<use href="#DejaVuSans-30" transform="translate(436.923828 0.765625)"/>
<use href="#DejaVuSans-39" transform="translate(500.546875 0.765625)"/>
<use href="#DejaVuSans-2b" transform="translate(565.126953 39.046875) scale(0.7)"/>
<use href="#DejaVuSans-30" transform="translate(623.779297 39.046875) scale(0.7)"/>
<use href="#DejaVuSans-2e" transform="translate(668.31543 39.046875) scale(0.7)"/>
<use href="#DejaVuSans-30" transform="translate(690.566406 39.046875) scale(0.7)"/>
<use href="#DejaVuSans-32" transform="translate(735.102539 39.046875) scale(0.7)"/>
<use href="#DejaVuSans-2212" transform="translate(565.126953 -26.578125) scale(0.7)"/>
<use href="#DejaVuSans-30" transform="translate(623.779297 -26.578125) scale(0.7)"/>
<use href="#DejaVuSans-2e" transform="translate(668.31543 -26.578125) scale(0.7)"/>
<use href="#DejaVuSans-30" transform="translate(690.566406 -26.578125) scale(0.7)"/>
<use href="#DejaVuSans-32" transform="translate(735.102539 -26.578125) scale(0.7)"/>
</g>
</g>
</g>
<g id="axes_4">
<g id="patch_23">
<path d="M 64.62 509.94 
L 220.14 509.94 
L 220.14 354.42 
L 64.62 354.42 
z
" style="fill: #ffffff"/>
</g>
<g id="patch_24">
<path d="M 103.174869 413.911414 
C 104.079581 413.888796 105.210471 414.15267 106.341361 414.589948 
C 107.472251 415.027225 108.829319 415.947016 109.960209 416.535079 
C 111.091099 417.123141 111.995812 417.515183 113.126702 418.118325 
C 114.257592 418.721466 115.539267 419.588482 116.74555 420.153927 
C 117.951832 420.719372 119.233508 421.058639 120.364398 421.510995 
C 121.495288 421.963351 122.626178 422.264921 123.53089 422.868063 
C 124.435602 423.471204 125.038743 424.262827 125.79267 425.129843 
C 126.546597 425.996859 127.225131 427.127749 128.05445 428.070157 
C 128.88377 429.012565 129.939267 429.879581 130.768586 430.784293 
C 131.597906 431.689005 132.427225 432.593717 133.030366 433.498429 
C 133.633508 434.403141 133.972775 435.420942 134.387435 436.212565 
C 134.802094 437.004188 134.990576 437.60733 135.518325 438.248168 
C 136.046073 438.889005 136.837696 439.567539 137.553927 440.057592 
C 138.270157 440.547644 139.174869 440.698429 139.815707 441.188482 
C 140.456545 441.678534 140.984293 442.319372 141.398953 442.997906 
C 141.813613 443.67644 142.002094 444.468063 142.303665 445.259686 
C 142.605236 446.051309 142.718325 446.956021 143.208377 447.747644 
C 143.698429 448.539267 144.603141 449.255497 145.243979 450.009424 
C 145.884817 450.763351 146.563351 451.404188 147.053403 452.271204 
C 147.543455 453.13822 147.958115 454.193717 148.184293 455.211518 
C 148.410471 456.229319 148.410471 457.24712 148.410471 458.37801 
C 148.410471 459.508901 148.169215 460.790576 148.184293 461.996859 
C 148.199372 463.203141 148.463246 464.560209 148.500942 465.615707 
C 148.538639 466.671204 148.651728 467.274346 148.410471 468.329843 
C 148.169215 469.38534 147.656545 470.742408 147.053403 471.948691 
C 146.450262 473.154974 145.54555 474.474346 144.791623 475.567539 
C 144.037696 476.660733 143.359162 477.791623 142.529843 478.507853 
C 141.700524 479.224084 140.795812 479.540733 139.815707 479.864921 
C 138.835602 480.18911 137.780105 480.324817 136.649215 480.452984 
C 135.518325 480.581152 134.312042 480.679162 133.030366 480.633927 
C 131.748691 480.588691 130.240838 480.347435 128.959162 480.181571 
C 127.677487 480.015707 126.62199 479.804607 125.340314 479.638743 
C 124.058639 479.47288 122.475393 479.412565 121.26911 479.186387 
C 120.062827 478.960209 119.00733 478.734031 118.102618 478.281675 
C 117.197906 477.829319 116.594764 477.226178 115.840838 476.472251 
C 115.086911 475.718325 114.408377 474.813613 113.579058 473.758115 
C 112.749738 472.702618 111.769634 471.307853 110.864921 470.139267 
C 109.960209 468.970681 109.055497 467.839791 108.150785 466.746597 
C 107.246073 465.653403 106.341361 464.484817 105.436649 463.580105 
C 104.531937 462.675393 103.438743 462.034555 102.722513 461.318325 
C 102.006283 460.602094 101.553927 460.074346 101.139267 459.282723 
C 100.724607 458.491099 100.536126 457.548691 100.234555 456.568586 
C 99.932984 455.588482 99.706806 454.457592 99.329843 453.402094 
C 98.95288 452.346597 98.349738 451.215707 97.972775 450.235602 
C 97.595812 449.255497 97.294241 448.501571 97.068063 447.521466 
C 96.841885 446.541361 96.841885 445.410471 96.615707 444.354974 
C 96.389529 443.299476 96.050262 442.243979 95.710995 441.188482 
C 95.371728 440.132984 94.93445 439.077487 94.580105 438.02199 
C 94.225759 436.966492 93.796021 435.986387 93.584921 434.855497 
C 93.373822 433.724607 93.336126 432.442932 93.313508 431.236649 
C 93.29089 430.030366 93.403979 428.748691 93.449215 427.617801 
C 93.49445 426.486911 93.39644 425.431414 93.584921 424.451309 
C 93.773403 423.471204 94.037277 422.641885 94.580105 421.737173 
C 95.122932 420.832461 96.087958 419.890052 96.841885 419.023037 
C 97.595812 418.156021 98.425131 417.251309 99.103665 416.535079 
C 99.782199 415.818848 100.234555 415.162932 100.913089 414.725654 
C 101.591623 414.288377 102.270157 413.934031 103.174869 413.911414 
z
" clip-path="url(#p81c290a088)" style="fill: #cccccc; stroke: #000000; stroke-width: 0.8"/>
</g>
<g id="patch_25">
<path d="M 116.74555 426.486911 
C 117.574869 426.645236 118.668063 426.939267 119.459686 427.391623 
C 120.251309 427.843979 120.741361 428.334031 121.495288 429.201047 
C 122.249215 430.068063 123.11623 431.500524 123.983246 432.593717 
C 124.850262 433.686911 125.868063 434.704712 126.697382 435.760209 
C 127.526702 436.815707 128.205236 437.946597 128.959162 438.926702 
C 129.713089 439.906806 130.31623 440.736126 131.220942 441.640838 
C 132.125654 442.54555 133.445026 443.450262 134.387435 444.354974 
C 135.329843 445.259686 136.121466 446.089005 136.875393 447.06911 
C 137.629319 448.049215 138.307853 449.255497 138.910995 450.235602 
C 139.514136 451.215707 140.079581 452.045026 140.494241 452.949738 
C 140.908901 453.85445 141.210471 454.759162 141.398953 455.663874 
C 141.587435 456.568586 141.647749 457.397906 141.625131 458.37801 
C 141.602513 459.358115 141.451728 460.413613 141.263246 461.544503 
C 141.074764 462.675393 140.886283 463.957068 140.494241 465.163351 
C 140.102199 466.369634 139.551832 467.726702 138.910995 468.782199 
C 138.270157 469.837696 137.403141 470.742408 136.649215 471.496335 
C 135.895288 472.250262 135.292147 472.815707 134.387435 473.305759 
C 133.482723 473.795812 132.27644 474.172775 131.220942 474.436649 
C 130.165445 474.700524 128.959162 474.889005 128.05445 474.889005 
C 127.149738 474.889005 126.697382 474.775916 125.79267 474.436649 
C 124.887958 474.097382 123.681675 473.268063 122.626178 472.853403 
C 121.570681 472.438743 120.364398 472.287958 119.459686 471.948691 
C 118.554974 471.609424 117.87644 471.307853 117.197906 470.817801 
C 116.519372 470.327749 116.142408 469.837696 115.388482 469.008377 
C 114.634555 468.179058 113.579058 466.935079 112.674346 465.841885 
C 111.769634 464.748691 110.789529 463.542408 109.960209 462.449215 
C 109.13089 461.356021 108.301571 460.33822 107.698429 459.282723 
C 107.095288 458.227225 106.831414 457.24712 106.341361 456.11623 
C 105.851309 454.98534 105.285864 453.628272 104.758115 452.497382 
C 104.230366 451.366492 103.604607 450.386387 103.174869 449.33089 
C 102.745131 448.275393 102.44356 447.295288 102.179686 446.164398 
C 101.915812 445.033508 101.765026 443.751832 101.591623 442.54555 
C 101.41822 441.339267 101.327749 439.906806 101.139267 438.926702 
C 100.950785 437.946597 100.709529 437.418848 100.460733 436.664921 
C 100.211937 435.910995 99.812356 435.157068 99.646492 434.403141 
C 99.480628 433.649215 99.329843 432.895288 99.46555 432.141361 
C 99.601257 431.387435 99.993298 430.520419 100.460733 429.879581 
C 100.928168 429.238743 101.591623 428.710995 102.270157 428.296335 
C 102.948691 427.881675 103.551832 427.617801 104.531937 427.391623 
C 105.512042 427.165445 106.944503 427.067435 108.150785 426.939267 
C 109.357068 426.811099 110.714136 426.70555 111.769634 426.622618 
C 112.825131 426.539686 113.65445 426.464293 114.48377 426.441675 
C 115.313089 426.419058 115.91623 426.328586 116.74555 426.486911 
z
" clip-path="url(#p81c290a088)" style="fill: #999999; stroke: #000000; stroke-width: 0.8"/>
</g>
<g id="patch_26">
<path d="M 116.519372 435.307853 
C 117.386387 435.322932 117.763351 435.609424 118.328796 435.986387 
C 118.894241 436.363351 119.384293 437.079581 119.912042 437.569634 
C 120.439791 438.059686 120.85445 438.512042 121.495288 438.926702 
C 122.136126 439.341361 122.965445 439.567539 123.757068 440.057592 
C 124.548691 440.547644 125.453403 441.150785 126.245026 441.867016 
C 127.036649 442.583246 127.865969 443.487958 128.506806 444.354974 
C 129.147644 445.22199 129.562304 446.089005 130.090052 447.06911 
C 130.617801 448.049215 131.032461 449.255497 131.673298 450.235602 
C 132.314136 451.215707 133.256545 452.045026 133.935079 452.949738 
C 134.613613 453.85445 135.329843 454.759162 135.744503 455.663874 
C 136.159162 456.568586 136.38534 457.397906 136.423037 458.37801 
C 136.460733 459.358115 136.309948 460.639791 135.970681 461.544503 
C 135.631414 462.449215 135.103665 463.203141 134.387435 463.806283 
C 133.671204 464.409424 132.653403 464.824084 131.673298 465.163351 
C 130.693194 465.502618 129.411518 465.728796 128.506806 465.841885 
C 127.602094 465.954974 127.074346 465.99267 126.245026 465.841885 
C 125.415707 465.691099 124.586387 465.27644 123.53089 464.937173 
C 122.475393 464.597906 121.042932 464.183246 119.912042 463.806283 
C 118.781152 463.429319 117.725654 463.203141 116.74555 462.675393 
C 115.765445 462.147644 114.860733 461.431414 114.031414 460.639791 
C 113.202094 459.848168 112.448168 458.905759 111.769634 457.925654 
C 111.091099 456.94555 110.450262 455.81466 109.960209 454.759162 
C 109.470157 453.703665 109.13089 452.648168 108.829319 451.59267 
C 108.527749 450.537173 108.301571 449.481675 108.150785 448.426178 
C 108 447.370681 108.037696 446.239791 107.924607 445.259686 
C 107.811518 444.279581 107.509948 443.450262 107.472251 442.54555 
C 107.434555 441.640838 107.509948 440.623037 107.698429 439.831414 
C 107.886911 439.039791 108.150785 438.361257 108.603141 437.795812 
C 109.055497 437.230366 109.658639 436.755393 110.412565 436.438743 
C 111.166492 436.122094 112.108901 436.084398 113.126702 435.895916 
C 114.144503 435.707435 115.652356 435.292775 116.519372 435.307853 
z
" clip-path="url(#p81c290a088)" style="fill: #666666; stroke: #000000; stroke-width: 0.8"/>
</g>
<g id="patch_27">
<path d="M 115.162304 442.455079 
C 115.727749 442.379686 116.557068 442.945131 117.197906 443.224084 
C 117.838743 443.503037 118.253403 443.88 119.00733 444.128796 
C 119.761257 444.377592 120.892147 444.490681 121.721466 444.716859 
C 122.550785 444.943037 123.304712 445.093822 123.983246 445.485864 
C 124.66178 445.877906 125.302618 446.428272 125.79267 447.06911 
C 126.282723 447.709948 126.697382 448.576963 126.92356 449.33089 
C 127.149738 450.084817 126.998953 450.838743 127.149738 451.59267 
C 127.300524 452.346597 127.526702 453.100524 127.828272 453.85445 
C 128.129843 454.608377 128.732984 455.437696 128.959162 456.11623 
C 129.18534 456.794764 129.336126 457.397906 129.18534 457.925654 
C 129.034555 458.453403 128.544503 458.981152 128.05445 459.282723 
C 127.564398 459.584293 126.92356 459.735079 126.245026 459.735079 
C 125.566492 459.735079 124.737173 459.508901 123.983246 459.282723 
C 123.229319 459.056545 122.324607 458.679581 121.721466 458.37801 
C 121.118325 458.07644 120.665969 457.887958 120.364398 457.473298 
C 120.062827 457.058639 119.987435 456.380105 119.912042 455.890052 
C 119.836649 455.4 120.213613 454.947644 119.912042 454.532984 
C 119.610471 454.118325 118.856545 453.703665 118.102618 453.402094 
C 117.348691 453.100524 115.991623 453.100524 115.388482 452.72356 
C 114.78534 452.346597 114.672251 451.856545 114.48377 451.140314 
C 114.295288 450.424084 114.348063 449.33089 114.257592 448.426178 
C 114.16712 447.521466 114.016335 446.503665 113.940942 445.712042 
C 113.86555 444.920419 113.601675 444.219267 113.805236 443.67644 
C 114.008796 443.133613 114.596859 442.530471 115.162304 442.455079 
z
" clip-path="url(#p81c290a088)" style="stroke: #000000; stroke-width: 0.8"/>
</g>
<g id="matplotlib.axis_7">
<g id="xtick_14">
<g id="line2d_25">
<g>
<use href="#me9cd61fec0" x="96.48" y="509.94" style="stroke: #000000; stroke-width: 0.8"/>
</g>
</g>
</g>
<g id="xtick_15">
<g id="line2d_26">
<g>
<use href="#me9cd61fec0" x="132.48" y="509.94" style="stroke: #000000; stroke-width: 0.8"/>
</g>
</g>
</g>
<g id="xtick_16">
<g id="line2d_27">
<g>
<use href="#me9cd61fec0" x="168.48" y="509.94" style="stroke: #000000; stroke-width: 0.8"/>
</g>
</g>
</g>
<g id="xtick_17">
<g id="line2d_28">
<g>
<use href="#me9cd61fec0" x="204.12" y="509.94" style="stroke: #000000; stroke-width: 0.8"/>
</g>
</g>
</g>
</g>
<g id="matplotlib.axis_8">
<g id="ytick_6">
<g id="line2d_29">
<g>
<use href="#m2ecc1fbad5" x="64.62" y="486.36" style="stroke: #000000; stroke-width: 0.8"/>
</g>
</g>
<g id="text_9">
<g transform="translate(25.0724 519.6243) rotate(-45) scale(0.15 -0.15)">
<use href="#DejaVuSans-30"/>
<use href="#DejaVuSans-2e" transform="translate(62.4142 0)"/>
<use href="#DejaVuSans-30" transform="translate(93.5974 0)"/>
<use href="#DejaVuSans-37" transform="translate(156.0116 0)"/>
<use href="#DejaVuSans-30" transform="translate(218.4258 0)"/>
</g>
</g>
</g>
<g id="ytick_7">
<g id="line2d_30">
<g>
<use href="#m2ecc1fbad5" x="64.62" y="453.6" style="stroke: #000000; stroke-width: 0.8"/>
</g>
</g>
<g id="text_10">
<g transform="translate(25.0724 486.8643) rotate(-45) scale(0.15 -0.15)">
<defs>
<path id="DejaVuSans-35" d="M 691 4666 
L 3169 4666 
L 3169 4134 
L 1269 4134 
L 1269 2991 
Q 1406 3038 1543 3061 
Q 1681 3084 1819 3084 
Q 2600 3084 3056 2656 
Q 3513 2228 3513 1497 
Q 3513 744 3044 326 
Q 2575 -91 1722 -91 
Q 1428 -91 1123 -41 
Q 819 9 494 109 
L 494 744 
Q 775 591 1075 516 
Q 1375 441 1709 441 
Q 2250 441 2565 725 
Q 2881 1009 2881 1497 
Q 2881 1984 2565 2268 
Q 2250 2553 1709 2553 
Q 1456 2553 1204 2497 
Q 953 2441 691 2322 
L 691 4666 
z
" transform="scale(0.015625)"/>
</defs>
<use href="#DejaVuSans-30"/>
<use href="#DejaVuSans-2e" transform="translate(62.4142 0)"/>
<use href="#DejaVuSans-30" transform="translate(93.5974 0)"/>
<use href="#DejaVuSans-37" transform="translate(156.0116 0)"/>
<use href="#DejaVuSans-35" transform="translate(218.4258 0)"/>
</g>
</g>
</g>
<g id="ytick_8">
<g id="line2d_31">
<g>
<use href="#m2ecc1fbad5" x="64.62" y="420.84" style="stroke: #000000; stroke-width: 0.8"/>
</g>
</g>
<g id="text_11">
<g transform="translate(25.0724 454.1043) rotate(-45) scale(0.15 -0.15)">
<use href="#DejaVuSans-30"/>
<use href="#DejaVuSans-2e" transform="translate(62.4142 0)"/>
<use href="#DejaVuSans-30" transform="translate(93.5974 0)"/>
<use href="#DejaVuSans-38" transform="translate(156.0116 0)"/>
<use href="#DejaVuSans-30" transform="translate(218.4258 0)"/>
</g>
</g>
</g>
<g id="ytick_9">
<g id="line2d_32">
<g>
<use href="#m2ecc1fbad5" x="64.62" y="388.44" style="stroke: #000000; stroke-width: 0.8"/>
</g>
</g>
<g id="text_12">
<g transform="translate(25.0724 421.7043) rotate(-45) scale(0.15 -0.15)">
<use href="#DejaVuSans-30"/>
<use href="#DejaVuSans-2e" transform="translate(62.4142 0)"/>
<use href="#DejaVuSans-30" transform="translate(93.5974 0)"/>
<use href="#DejaVuSans-38" transform="translate(156.0116 0)"/>
<use href="#DejaVuSans-35" transform="translate(218.4258 0)"/>
</g>
</g>
</g>
<g id="ytick_10">
<g id="line2d_33">
<g>
<use href="#m2ecc1fbad5" x="64.62" y="355.68" style="stroke: #000000; stroke-width: 0.8"/>
</g>
</g>
<g id="text_13">
<g transform="translate(25.0724 388.9443) rotate(-45) scale(0.15 -0.15)">
<use href="#DejaVuSans-30"/>
<use href="#DejaVuSans-2e" transform="translate(62.4142 0)"/>
<use href="#DejaVuSans-30" transform="translate(93.5974 0)"/>
<use href="#DejaVuSans-39" transform="translate(156.0116 0)"/>
<use href="#DejaVuSans-30" transform="translate(218.4258 0)"/>
</g>
</g>
</g>
<g id="text_14">
<g transform="translate(14.844469 448.83) rotate(-90) scale(0.15 -0.15)">
<defs>
<path id="DejaVuSans-Oblique-61" d="M 3438 1997 
L 3047 0 
L 2472 0 
L 2578 531 
Q 2325 219 2001 64 
Q 1678 -91 1281 -91 
Q 834 -91 548 182 
Q 263 456 263 884 
Q 263 1497 752 1853 
Q 1241 2209 2100 2209 
L 2900 2209 
L 2931 2363 
Q 2938 2388 2941 2417 
Q 2944 2447 2944 2509 
Q 2944 2788 2717 2942 
Q 2491 3097 2081 3097 
Q 1800 3097 1504 3025 
Q 1209 2953 897 2809 
L 997 3341 
Q 1322 3463 1633 3523 
Q 1944 3584 2234 3584 
Q 2853 3584 3176 3315 
Q 3500 3047 3500 2534 
Q 3500 2431 3484 2292 
Q 3469 2153 3438 1997 
z
M 2816 1759 
L 2241 1759 
Q 1534 1759 1195 1570 
Q 856 1381 856 984 
Q 856 709 1029 553 
Q 1203 397 1509 397 
Q 1978 397 2328 733 
Q 2678 1069 2791 1631 
L 2816 1759 
z
" transform="scale(0.015625)"/>
<path id="DejaVuSans-Oblique-63" d="M 3431 3366 
L 3316 2797 
Q 3109 2947 2876 3022 
Q 2644 3097 2394 3097 
Q 2119 3097 1870 3000 
Q 1622 2903 1453 2725 
Q 1184 2453 1037 2087 
Q 891 1722 891 1331 
Q 891 859 1127 628 
Q 1363 397 1844 397 
Q 2081 397 2348 469 
Q 2616 541 2906 684 
L 2797 116 
Q 2547 13 2283 -39 
Q 2019 -91 1741 -91 
Q 1044 -91 669 257 
Q 294 606 294 1253 
Q 294 1797 489 2255 
Q 684 2713 1069 3078 
Q 1331 3328 1684 3456 
Q 2038 3584 2456 3584 
Q 2700 3584 2940 3529 
Q 3181 3475 3431 3366 
z
" transform="scale(0.015625)"/>
<path id="DejaVuSans-Oblique-6b" d="M 1172 4863 
L 1747 4863 
L 1197 2028 
L 3169 3500 
L 3916 3500 
L 1716 1825 
L 3322 0 
L 2625 0 
L 1131 1709 
L 800 0 
L 225 0 
L 1172 4863 
z
" transform="scale(0.015625)"/>
</defs>
<use href="#DejaVuSans-Oblique-73"/>
<use href="#DejaVuSans-Oblique-62" transform="translate(52.099609 -14.765625) scale(0.7)"/>
<use href="#DejaVuSans-Oblique-61" transform="translate(96.533203 -14.765625) scale(0.7)"/>
<use href="#DejaVuSans-Oblique-63" transform="translate(139.428711 -14.765625) scale(0.7)"/>
<use href="#DejaVuSans-Oblique-6b" transform="translate(177.915039 -14.765625) scale(0.7)"/>
</g>
</g>
</g>
<g id="patch_28">
<path d="M 64.62 509.94 
L 64.62 354.42 
" style="fill: none; stroke: #000000; stroke-width: 0.5; stroke-linejoin: miter; stroke-linecap: square"/>
</g>
<g id="patch_29">
<path d="M 220.14 509.94 
L 220.14 354.42 
" style="fill: none; stroke: #000000; stroke-width: 0.5; stroke-linejoin: miter; stroke-linecap: square"/>
</g>
<g id="patch_30">
<path d="M 64.62 509.94 
L 220.14 509.94 
" style="fill: none; stroke: #000000; stroke-width: 0.5; stroke-linejoin: miter; stroke-linecap: square"/>
</g>
<g id="patch_31">
<path d="M 64.62 354.42 
L 220.14 354.42 
" style="fill: none; stroke: #000000; stroke-width: 0.5; stroke-linejoin: miter; stroke-linecap: square"/>
</g>
</g>
<g id="axes_5">
<g id="patch_32">
<path d="M 228.06 509.94 
L 383.22 509.94 
L 383.22 354.42 
L 228.06 354.42 
z
" style="fill: #ffffff"/>
</g>
<g id="patch_33">
<path d="M 289.074346 414.995183 
C 289.903665 414.904712 290.808377 415.432461 291.788482 415.718953 
C 292.768586 416.005445 293.748691 416.608586 294.954974 416.714136 
C 296.161257 416.819686 297.819895 416.276859 299.026178 416.352251 
C 300.232461 416.427644 301.137173 416.88 302.19267 417.166492 
C 303.248168 417.452984 304.379058 417.769634 305.359162 418.071204 
C 306.339267 418.372775 307.281675 418.52356 308.073298 418.975916 
C 308.864921 419.428272 309.581152 420.031414 310.108901 420.78534 
C 310.636649 421.539267 310.862827 422.74555 311.239791 423.499476 
C 311.616754 424.253403 311.767539 424.705759 312.370681 425.308901 
C 312.973822 425.912042 314.029319 426.439791 314.858639 427.118325 
C 315.687958 427.796859 316.668063 428.588482 317.346597 429.380105 
C 318.025131 430.171728 318.439791 431.07644 318.929843 431.868063 
C 319.419895 432.659686 319.759162 433.564398 320.286911 434.129843 
C 320.81466 434.695288 321.342408 434.921466 322.096335 435.260733 
C 322.850262 435.6 323.905759 435.637696 324.810471 436.165445 
C 325.715183 436.693194 326.770681 437.597906 327.524607 438.427225 
C 328.278534 439.256545 328.843979 440.161257 329.334031 441.141361 
C 329.824084 442.121466 330.087958 443.403141 330.464921 444.307853 
C 330.841885 445.212565 331.218848 445.815707 331.595812 446.569634 
C 331.972775 447.32356 332.500524 448.002094 332.726702 448.831414 
C 332.95288 449.660733 332.990576 450.565445 332.95288 451.54555 
C 332.915183 452.525654 332.689005 453.731937 332.500524 454.712042 
C 332.312042 455.692147 332.198953 456.634555 331.82199 457.426178 
C 331.445026 458.217801 330.954974 458.971728 330.238743 459.46178 
C 329.522513 459.951832 328.353927 460.064921 327.524607 460.366492 
C 326.695288 460.668063 325.941361 460.781152 325.262827 461.271204 
C 324.584293 461.761257 323.981152 462.439791 323.453403 463.306806 
C 322.925654 464.173822 322.624084 465.53089 322.096335 466.473298 
C 321.568586 467.415707 321.040838 468.245026 320.286911 468.961257 
C 319.532984 469.677487 318.402094 470.167539 317.572775 470.770681 
C 316.743455 471.373822 316.064921 471.826178 315.310995 472.580105 
C 314.557068 473.334031 313.953927 474.427225 313.049215 475.294241 
C 312.144503 476.161257 311.013613 477.141361 309.882723 477.782199 
C 308.751832 478.423037 307.432461 478.852775 306.263874 479.139267 
C 305.095288 479.425759 303.926702 479.124188 302.871204 479.501152 
C 301.815707 479.878115 300.873298 480.85822 299.93089 481.401047 
C 298.988482 481.943874 298.121466 482.494241 297.216754 482.758115 
C 296.312042 483.02199 295.558115 483.059686 294.502618 482.984293 
C 293.44712 482.908901 292.165445 482.554555 290.88377 482.305759 
C 289.602094 482.056963 288.018848 481.830785 286.812565 481.491518 
C 285.606283 481.152251 284.852356 480.775288 283.646073 480.270157 
C 282.439791 479.765026 280.931937 478.988482 279.574869 478.460733 
C 278.217801 477.932984 276.634555 477.518325 275.503665 477.103665 
C 274.372775 476.689005 273.452984 476.53822 272.789529 475.972775 
C 272.126073 475.40733 271.74911 474.540314 271.522932 473.710995 
C 271.296754 472.881675 271.432461 471.901571 271.432461 470.996859 
C 271.432461 470.092147 271.673717 469.112042 271.522932 468.282723 
C 271.372147 467.453403 271.070576 466.774869 270.527749 466.020942 
C 269.984921 465.267016 269.095288 464.588482 268.265969 463.759162 
C 267.436649 462.929843 266.268063 461.949738 265.551832 461.045026 
C 264.835602 460.140314 264.307853 459.235602 263.968586 458.33089 
C 263.629319 457.426178 263.478534 456.596859 263.51623 455.616754 
C 263.553927 454.636649 263.968586 453.505759 264.194764 452.450262 
C 264.420942 451.394764 264.609424 450.339267 264.873298 449.28377 
C 265.137173 448.228272 265.514136 447.32356 265.77801 446.117277 
C 266.041885 444.910995 266.358534 443.327749 266.456545 442.046073 
C 266.554555 440.764398 266.479162 439.633508 266.366073 438.427225 
C 266.252984 437.220942 265.913717 435.939267 265.77801 434.808377 
C 265.642304 433.677487 265.363351 432.659686 265.551832 431.641885 
C 265.740314 430.624084 266.230366 429.417801 266.908901 428.701571 
C 267.587435 427.98534 268.756021 427.721466 269.623037 427.344503 
C 270.490052 426.967539 271.432461 427.042932 272.110995 426.439791 
C 272.789529 425.836649 273.128796 424.517277 273.694241 423.725654 
C 274.259686 422.934031 274.598953 422.255497 275.503665 421.690052 
C 276.408377 421.124607 277.765445 420.823037 279.122513 420.332984 
C 280.479581 419.842932 282.364398 419.428272 283.646073 418.749738 
C 284.927749 418.071204 285.907853 416.887539 286.812565 416.26178 
C 287.717277 415.636021 288.245026 415.085654 289.074346 414.995183 
z
" clip-path="url(#p24df42d07b)" style="fill: #cccccc; stroke: #000000; stroke-width: 0.8"/>
</g>
<g id="patch_34">
<path d="M 286.812565 424.49466 
C 287.717277 424.547435 288.92356 424.833927 289.979058 425.082723 
C 291.034555 425.331518 292.090052 425.610471 293.14555 425.987435 
C 294.201047 426.364398 295.331937 427.005236 296.312042 427.344503 
C 297.292147 427.68377 298.046073 427.759162 299.026178 428.023037 
C 300.006283 428.286911 301.137173 428.550785 302.19267 428.927749 
C 303.248168 429.304712 304.379058 429.870157 305.359162 430.284817 
C 306.339267 430.699476 307.168586 431.114136 308.073298 431.415707 
C 308.97801 431.717277 310.033508 431.830366 310.787435 432.094241 
C 311.541361 432.358115 312.031414 432.546597 312.596859 432.998953 
C 313.162304 433.451309 313.727749 433.979058 314.180105 434.808377 
C 314.632461 435.637696 314.934031 436.957068 315.310995 437.974869 
C 315.687958 438.99267 316.125236 439.972775 316.441885 440.915183 
C 316.758534 441.857592 317.158115 442.686911 317.21089 443.629319 
C 317.263665 444.571728 316.849005 445.702618 316.758534 446.569634 
C 316.668063 447.436649 316.532356 448.002094 316.668063 448.831414 
C 316.80377 449.660733 317.233508 450.71623 317.572775 451.54555 
C 317.912042 452.374869 318.439791 453.128796 318.703665 453.80733 
C 318.967539 454.485864 319.156021 454.825131 319.156021 455.616754 
C 319.156021 456.408377 319.042932 457.652356 318.703665 458.557068 
C 318.364398 459.46178 317.912042 460.17801 317.120419 461.045026 
C 316.328796 461.912042 314.858639 462.85445 313.953927 463.759162 
C 313.049215 464.663874 312.446073 465.568586 311.692147 466.473298 
C 310.93822 467.37801 310.259686 468.395812 309.430366 469.187435 
C 308.601047 469.979058 307.696335 470.732984 306.71623 471.223037 
C 305.736126 471.713089 304.605236 471.863874 303.549738 472.127749 
C 302.494241 472.391623 301.363351 472.52733 300.383246 472.806283 
C 299.403141 473.085236 298.498429 473.514974 297.66911 473.801466 
C 296.839791 474.087958 296.236649 474.389529 295.40733 474.525236 
C 294.57801 474.660942 293.673298 474.713717 292.693194 474.615707 
C 291.713089 474.517696 290.506806 474.27644 289.526702 473.937173 
C 288.546597 473.597906 287.641885 473.070157 286.812565 472.580105 
C 285.983246 472.090052 285.304712 471.449215 284.550785 470.996859 
C 283.796859 470.544503 283.118325 470.242932 282.289005 469.865969 
C 281.459686 469.489005 280.215707 469.300524 279.574869 468.735079 
C 278.934031 468.169634 278.896335 467.302618 278.443979 466.473298 
C 277.991623 465.643979 277.576963 464.739267 276.860733 463.759162 
C 276.144503 462.779058 275.051309 461.572775 274.146597 460.59267 
C 273.241885 459.612565 272.110995 458.707853 271.432461 457.878534 
C 270.753927 457.049215 270.339267 456.521466 270.075393 455.616754 
C 269.811518 454.712042 269.811518 453.656545 269.849215 452.450262 
C 269.886911 451.243979 270.037696 449.58534 270.301571 448.379058 
C 270.565445 447.172775 270.942408 446.343455 271.432461 445.212565 
C 271.922513 444.081675 272.638743 442.8 273.241885 441.593717 
C 273.845026 440.387435 274.52356 439.181152 275.051309 437.974869 
C 275.579058 436.768586 275.880628 435.562304 276.408377 434.356021 
C 276.936126 433.149738 277.61466 431.830366 278.217801 430.737173 
C 278.820942 429.643979 279.348691 428.626178 280.027225 427.796859 
C 280.705759 426.967539 281.535079 426.266387 282.289005 425.761257 
C 283.042932 425.256126 283.796859 424.977173 284.550785 424.766073 
C 285.304712 424.554974 285.907853 424.441885 286.812565 424.49466 
z
" clip-path="url(#p24df42d07b)" style="fill: #999999; stroke: #000000; stroke-width: 0.8"/>
</g>
<g id="patch_35">
<path d="M 291.109948 435.034555 
C 291.901571 435.034555 292.806283 435.336126 293.597906 435.713089 
C 294.389529 436.090052 295.105759 436.843979 295.859686 437.296335 
C 296.613613 437.748691 297.216754 438.125654 298.121466 438.427225 
C 299.026178 438.728796 300.307853 438.691099 301.287958 439.105759 
C 302.268063 439.520419 303.135079 440.274346 304.002094 440.915183 
C 304.86911 441.556021 305.849215 442.159162 306.490052 442.950785 
C 307.13089 443.742408 307.432461 444.64712 307.84712 445.664921 
C 308.26178 446.682723 308.601047 448.002094 308.97801 449.057592 
C 309.354974 450.113089 309.80733 451.13089 310.108901 451.997906 
C 310.410471 452.864921 310.712042 453.430366 310.787435 454.259686 
C 310.862827 455.089005 310.862827 456.06911 310.561257 456.973822 
C 310.259686 457.878534 309.505759 458.820942 308.97801 459.687958 
C 308.450262 460.554974 307.84712 461.497382 307.394764 462.175916 
C 306.942408 462.85445 306.829319 463.26911 306.263874 463.759162 
C 305.698429 464.249215 304.831414 464.776963 304.002094 465.11623 
C 303.172775 465.455497 302.19267 465.53089 301.287958 465.794764 
C 300.383246 466.058639 299.478534 466.360209 298.573822 466.699476 
C 297.66911 467.038743 296.689005 467.604188 295.859686 467.830366 
C 295.030366 468.056545 294.351832 468.094241 293.597906 468.056545 
C 292.843979 468.018848 292.165445 467.868063 291.336126 467.604188 
C 290.506806 467.340314 289.602094 466.925654 288.62199 466.473298 
C 287.641885 466.020942 286.435602 465.417801 285.455497 464.890052 
C 284.475393 464.362304 283.532984 463.909948 282.741361 463.306806 
C 281.949738 462.703665 281.158115 462.025131 280.705759 461.271204 
C 280.253403 460.517277 280.102618 459.574869 280.027225 458.783246 
C 279.951832 457.991623 280.140314 457.275393 280.253403 456.521466 
C 280.366492 455.767539 280.705759 455.013613 280.705759 454.259686 
C 280.705759 453.505759 280.554974 452.714136 280.253403 451.997906 
C 279.951832 451.281675 279.348691 450.603141 278.896335 449.962304 
C 278.443979 449.321466 277.81822 448.86911 277.539267 448.15288 
C 277.260314 447.436649 277.147225 446.531937 277.222618 445.664921 
C 277.29801 444.797906 277.599581 443.780105 277.991623 442.950785 
C 278.383665 442.121466 279.009424 441.329843 279.574869 440.689005 
C 280.140314 440.048168 280.554974 439.520419 281.384293 439.105759 
C 282.213613 438.691099 283.646073 438.540314 284.550785 438.201047 
C 285.455497 437.86178 286.096335 437.484817 286.812565 437.070157 
C 287.528796 436.655497 288.131937 436.052356 288.848168 435.713089 
C 289.564398 435.373822 290.318325 435.034555 291.109948 435.034555 
z
" clip-path="url(#p24df42d07b)" style="fill: #666666; stroke: #000000; stroke-width: 0.8"/>
</g>
<g id="patch_36">
<path d="M 295.40733 444.534031 
C 296.312042 444.534031 297.216754 444.835602 298.121466 445.212565 
C 299.026178 445.589529 300.081675 446.19267 300.835602 446.795812 
C 301.589529 447.398953 302.268063 448.039791 302.645026 448.831414 
C 303.02199 449.623037 303.135079 450.71623 303.097382 451.54555 
C 303.059686 452.374869 302.682723 453.053403 302.418848 453.80733 
C 302.154974 454.561257 301.853403 455.390576 301.514136 456.06911 
C 301.174869 456.747644 300.948691 457.313089 300.383246 457.878534 
C 299.817801 458.443979 298.950785 458.971728 298.121466 459.46178 
C 297.292147 459.951832 296.312042 460.517277 295.40733 460.818848 
C 294.502618 461.120419 293.673298 461.271204 292.693194 461.271204 
C 291.713089 461.271204 290.393717 461.082723 289.526702 460.818848 
C 288.659686 460.554974 287.958534 460.17801 287.491099 459.687958 
C 287.023665 459.197906 286.797487 458.557068 286.722094 457.878534 
C 286.646702 457.2 286.759791 456.332984 287.038743 455.616754 
C 287.317696 454.900524 287.981152 454.259686 288.395812 453.581152 
C 288.810471 452.902618 289.262827 452.26178 289.526702 451.54555 
C 289.790576 450.829319 289.75288 450.037696 289.979058 449.28377 
C 290.205236 448.529843 290.431414 447.700524 290.88377 447.02199 
C 291.336126 446.343455 291.939267 445.627225 292.693194 445.212565 
C 293.44712 444.797906 294.502618 444.534031 295.40733 444.534031 
z
" clip-path="url(#p24df42d07b)" style="stroke: #000000; stroke-width: 0.8"/>
</g>
<g id="matplotlib.axis_9">
<g id="xtick_18">
<g id="line2d_34">
<g>
<use href="#me9cd61fec0" x="243.36" y="509.94" style="stroke: #000000; stroke-width: 0.8"/>
</g>
</g>
</g>
<g id="xtick_19">
<g id="line2d_35">
<g>
<use href="#me9cd61fec0" x="278.28" y="509.94" style="stroke: #000000; stroke-width: 0.8"/>
</g>
</g>
</g>
<g id="xtick_20">
<g id="line2d_36">
<g>
<use href="#me9cd61fec0" x="312.84" y="509.94" style="stroke: #000000; stroke-width: 0.8"/>
</g>
</g>
</g>
<g id="xtick_21">
<g id="line2d_37">
<g>
<use href="#me9cd61fec0" x="347.76" y="509.94" style="stroke: #000000; stroke-width: 0.8"/>
</g>
</g>
</g>
<g id="xtick_22">
<g id="line2d_38">
<g>
<use href="#me9cd61fec0" x="382.68" y="509.94" style="stroke: #000000; stroke-width: 0.8"/>
</g>
</g>
</g>
</g>
<g id="matplotlib.axis_10">
<g id="ytick_11">
<g id="line2d_39">
<g>
<use href="#m2ecc1fbad5" x="228.06" y="486.36" style="stroke: #000000; stroke-width: 0.8"/>
</g>
</g>
</g>
<g id="ytick_12">
<g id="line2d_40">
<g>
<use href="#m2ecc1fbad5" x="228.06" y="453.6" style="stroke: #000000; stroke-width: 0.8"/>
</g>
</g>
</g>
<g id="ytick_13">
<g id="line2d_41">
<g>
<use href="#m2ecc1fbad5" x="228.06" y="420.84" style="stroke: #000000; stroke-width: 0.8"/>
</g>
</g>
</g>
<g id="ytick_14">
<g id="line2d_42">
<g>
<use href="#m2ecc1fbad5" x="228.06" y="388.44" style="stroke: #000000; stroke-width: 0.8"/>
</g>
</g>
</g>
<g id="ytick_15">
<g id="line2d_43">
<g>
<use href="#m2ecc1fbad5" x="228.06" y="355.68" style="stroke: #000000; stroke-width: 0.8"/>
</g>
</g>
</g>
</g>
<g id="patch_37">
<path d="M 228.06 509.94 
L 228.06 354.42 
" style="fill: none; stroke: #000000; stroke-width: 0.5; stroke-linejoin: miter; stroke-linecap: square"/>
</g>
<g id="patch_38">
<path d="M 383.22 509.94 
L 383.22 354.42 
" style="fill: none; stroke: #000000; stroke-width: 0.5; stroke-linejoin: miter; stroke-linecap: square"/>
</g>
<g id="patch_39">
<path d="M 228.06 509.94 
L 383.22 509.94 
" style="fill: none; stroke: #000000; stroke-width: 0.5; stroke-linejoin: miter; stroke-linecap: square"/>
</g>
<g id="patch_40">
<path d="M 228.06 354.42 
L 383.22 354.42 
" style="fill: none; stroke: #000000; stroke-width: 0.5; stroke-linejoin: miter; stroke-linecap: square"/>
</g>
</g>
<g id="axes_6">
<g id="patch_41">
<path d="M 391.14 509.94 
L 546.66 509.94 
L 546.66 354.42 
L 391.14 354.42 
z
" style="fill: #ffffff"/>
</g>
<g id="patch_42">
<path d="M 397.813194 509.94 
L 397.813194 509.652565 
L 406.106387 508.740314 
L 409.423665 507.413403 
L 411.911623 505.340105 
L 414.399581 502.022827 
L 416.05822 498.29089 
L 417.302199 494.144293 
L 418.546178 489.997696 
L 419.790157 485.02178 
L 421.034136 480.045864 
L 422.278115 475.069948 
L 423.522094 469.264712 
L 424.766073 464.288796 
L 426.010052 459.31288 
L 427.005236 454.336963 
L 428.083351 449.361047 
L 428.91267 444.385131 
L 429.990785 439.409215 
L 430.737173 434.433298 
L 431.815288 428.628063 
L 432.644607 423.652147 
L 433.473927 418.67623 
L 434.46911 412.870995 
L 435.298429 407.065759 
L 436.127749 402.089843 
L 436.957068 396.284607 
L 437.786387 390.479372 
L 438.615707 384.674136 
L 439.445026 379.69822 
L 440.274346 373.892984 
L 441.352461 368.917068 
L 442.430576 364.770471 
L 444.255079 361.867853 
L 446.743037 361.70199 
L 449.230995 362.282513 
L 450.889634 363.526492 
L 452.548272 366.42911 
L 454.206911 370.575707 
L 455.45089 374.722304 
L 456.694869 379.69822 
L 457.938848 384.674136 
L 459.182827 390.479372 
L 460.426806 397.113927 
L 461.670785 402.919162 
L 462.914764 409.553717 
L 464.158743 414.529634 
L 465.402723 419.50555 
L 466.646702 424.481466 
L 467.890681 430.286702 
L 469.13466 436.091937 
L 470.378639 441.897173 
L 471.622618 447.702408 
L 472.866597 453.507644 
L 474.110576 459.31288 
L 475.354555 463.459476 
L 476.598534 468.435393 
L 478.671832 475.069948 
L 480.745131 480.875183 
L 482.818429 485.851099 
L 484.642932 489.997696 
L 486.965026 494.144293 
L 489.038325 497.87623 
L 491.526283 501.608168 
L 494.014241 504.096126 
L 497.331518 506.169424 
L 500.648796 507.413403 
L 505.624712 508.242723 
L 513.917906 509.237906 
L 522.211099 509.735497 
L 522.211099 509.94 
z
" clip-path="url(#p8ffce338e2)" style="fill: #666666"/>
</g>
<g id="matplotlib.axis_11">
<g id="xtick_23">
<g id="line2d_44">
<g>
<use href="#me9cd61fec0" x="414" y="509.94" style="stroke: #000000; stroke-width: 0.8"/>
</g>
</g>
</g>
<g id="xtick_24">
<g id="line2d_45">
<g>
<use href="#me9cd61fec0" x="446.76" y="509.94" style="stroke: #000000; stroke-width: 0.8"/>
</g>
</g>
</g>
<g id="xtick_25">
<g id="line2d_46">
<g>
<use href="#me9cd61fec0" x="479.52" y="509.94" style="stroke: #000000; stroke-width: 0.8"/>
</g>
</g>
</g>
<g id="xtick_26">
<g id="line2d_47">
<g>
<use href="#me9cd61fec0" x="512.28" y="509.94" style="stroke: #000000; stroke-width: 0.8"/>
</g>
</g>
</g>
<g id="xtick_27">
<g id="line2d_48">
<g>
<use href="#me9cd61fec0" x="545.04" y="509.94" style="stroke: #000000; stroke-width: 0.8"/>
</g>
</g>
</g>
</g>
<g id="matplotlib.axis_12"/>
<g id="line2d_49">
<path d="M 422.1 509.94 
L 422.1 354.42 
" clip-path="url(#p8ffce338e2)" style="fill: none; stroke-dasharray: 3.7,1.6; stroke-dashoffset: 0; stroke: #000000"/>
</g>
<g id="line2d_50">
<path d="M 450.54 509.94 
L 450.54 354.42 
" clip-path="url(#p8ffce338e2)" style="fill: none; stroke-dasharray: 3.7,1.6; stroke-dashoffset: 0; stroke: #000000"/>
</g>
<g id="line2d_51">
<path d="M 484.74 509.94 
L 484.74 354.42 
" clip-path="url(#p8ffce338e2)" style="fill: none; stroke-dasharray: 3.7,1.6; stroke-dashoffset: 0; stroke: #000000"/>
</g>
<g id="patch_43">
<path d="M 391.14 509.94 
L 391.14 354.42 
" style="fill: none; stroke: #000000; stroke-width: 0.5; stroke-linejoin: miter; stroke-linecap: square"/>
</g>
<g id="patch_44">
<path d="M 546.66 509.94 
L 546.66 354.42 
" style="fill: none; stroke: #000000; stroke-width: 0.5; stroke-linejoin: miter; stroke-linecap: square"/>
</g>
<g id="patch_45">
<path d="M 391.14 509.94 
L 546.66 509.94 
" style="fill: none; stroke: #000000; stroke-width: 0.5; stroke-linejoin: miter; stroke-linecap: square"/>
</g>
<g id="patch_46">
<path d="M 391.14 354.42 
L 546.66 354.42 
" style="fill: none; stroke: #000000; stroke-width: 0.5; stroke-linejoin: miter; stroke-linecap: square"/>
</g>
<g id="text_15">
<g transform="translate(396.5148 346.62) scale(0.18 -0.18)">
<use href="#DejaVuSans-Oblique-73" transform="translate(0 0.765625)"/>
<use href="#DejaVuSans-Oblique-62" transform="translate(52.099609 -14) scale(0.7)"/>
<use href="#DejaVuSans-Oblique-61" transform="translate(96.533203 -14) scale(0.7)"/>
<use href="#DejaVuSans-Oblique-63" transform="translate(139.428711 -14) scale(0.7)"/>
<use href="#DejaVuSans-Oblique-6b" transform="translate(177.915039 -14) scale(0.7)"/>
<use href="#DejaVuSans-20" transform="translate(221.186523 0.765625)"/>
<use href="#DejaVuSans-3d" transform="translate(252.973633 0.765625)"/>
<use href="#DejaVuSans-20" transform="translate(336.762695 0.765625)"/>
<use href="#DejaVuSans-30" transform="translate(368.549805 0.765625)"/>
<use href="#DejaVuSans-2e" transform="translate(432.172852 0.765625)"/>
<use href="#DejaVuSans-30" transform="translate(463.959961 0.765625)"/>
<use href="#DejaVuSans-38" transform="translate(527.583008 0.765625)"/>
<use href="#DejaVuSans-2b" transform="translate(592.163086 39.046875) scale(0.7)"/>
<use href="#DejaVuSans-30" transform="translate(650.81543 39.046875) scale(0.7)"/>
<use href="#DejaVuSans-2e" transform="translate(695.351562 39.046875) scale(0.7)"/>
<use href="#DejaVuSans-30" transform="translate(717.602539 39.046875) scale(0.7)"/>
<use href="#DejaVuSans-31" transform="translate(762.138672 39.046875) scale(0.7)"/>
<use href="#DejaVuSans-2212" transform="translate(592.163086 -26.578125) scale(0.7)"/>
<use href="#DejaVuSans-30" transform="translate(650.81543 -26.578125) scale(0.7)"/>
<use href="#DejaVuSans-2e" transform="translate(695.351562 -26.578125) scale(0.7)"/>
<use href="#DejaVuSans-30" transform="translate(717.602539 -26.578125) scale(0.7)"/>
<use href="#DejaVuSans-30" transform="translate(762.138672 -26.578125) scale(0.7)"/>
</g>
</g>
</g>
<g id="axes_7">
<g id="patch_47">
<path d="M 64.62 673.02 
L 220.14 673.02 
L 220.14 517.5 
L 64.62 517.5 
z
" style="fill: #ffffff"/>
</g>
<g id="patch_48">
<path d="M 117.197906 532.507853 
C 118.554974 532.455079 120.213613 532.583246 121.721466 532.734031 
C 123.229319 532.884817 124.737173 533.110995 126.245026 533.412565 
C 127.75288 533.714136 129.260733 534.166492 130.768586 534.543455 
C 132.27644 534.920419 133.935079 535.22199 135.292147 535.674346 
C 136.649215 536.126702 137.704712 536.616754 138.910995 537.257592 
C 140.117277 537.898429 141.398953 538.765445 142.529843 539.519372 
C 143.660733 540.273298 144.829319 541.027225 145.696335 541.781152 
C 146.563351 542.535079 147.241885 543.289005 147.731937 544.042932 
C 148.22199 544.796859 148.598953 545.513089 148.636649 546.304712 
C 148.674346 547.096335 148.448168 547.963351 147.958115 548.79267 
C 147.468063 549.62199 146.601047 550.489005 145.696335 551.280628 
C 144.791623 552.072251 143.660733 552.863874 142.529843 553.542408 
C 141.398953 554.220942 140.117277 554.824084 138.910995 555.351832 
C 137.704712 555.879581 136.649215 556.294241 135.292147 556.708901 
C 133.935079 557.12356 132.27644 557.53822 130.768586 557.839791 
C 129.260733 558.141361 127.75288 558.420314 126.245026 558.518325 
C 124.737173 558.616335 123.003141 558.390157 121.721466 558.427853 
C 120.439791 558.46555 119.685864 558.654031 118.554974 558.744503 
C 117.424084 558.834974 116.217801 559.046073 114.936126 558.970681 
C 113.65445 558.895288 112.297382 558.518325 110.864921 558.292147 
C 109.432461 558.065969 107.698429 557.95288 106.341361 557.613613 
C 104.984293 557.274346 103.928796 556.82199 102.722513 556.256545 
C 101.51623 555.691099 100.234555 554.899476 99.103665 554.220942 
C 97.972775 553.542408 96.841885 552.939267 95.937173 552.18534 
C 95.032461 551.431414 94.21822 550.564398 93.675393 549.697382 
C 93.132565 548.830366 92.830995 547.887958 92.680209 546.983246 
C 92.529424 546.078534 92.529424 545.098429 92.770681 544.26911 
C 93.011937 543.439791 93.449215 542.761257 94.127749 542.00733 
C 94.806283 541.253403 95.937173 540.424084 96.841885 539.74555 
C 97.746597 539.067016 98.575916 538.539267 99.556021 537.936126 
C 100.536126 537.332984 101.591623 536.616754 102.722513 536.126702 
C 103.853403 535.636649 105.135079 535.335079 106.341361 534.995812 
C 107.547644 534.656545 108.753927 534.415288 109.960209 534.091099 
C 111.166492 533.766911 112.372775 533.314555 113.579058 533.050681 
C 114.78534 532.786806 115.840838 532.560628 117.197906 532.507853 
z
" clip-path="url(#p4a394fea91)" style="fill: #cccccc; stroke: #000000; stroke-width: 0.8"/>
</g>
<g id="patch_49">
<path d="M 118.102618 536.03623 
C 119.459686 535.960838 120.816754 535.998534 122.173822 536.126702 
C 123.53089 536.254869 124.963351 536.503665 126.245026 536.805236 
C 127.526702 537.106806 128.657592 537.521466 129.863874 537.936126 
C 131.070157 538.350785 132.351832 538.803141 133.482723 539.293194 
C 134.613613 539.783246 135.66911 540.235602 136.649215 540.87644 
C 137.629319 541.517277 138.609424 542.346597 139.363351 543.13822 
C 140.117277 543.929843 140.856126 544.834555 141.172775 545.626178 
C 141.489424 546.417801 141.489424 547.134031 141.263246 547.887958 
C 141.037068 548.641885 140.509319 549.471204 139.815707 550.149738 
C 139.122094 550.828272 138.157068 551.393717 137.101571 551.959162 
C 136.046073 552.524607 134.689005 553.105131 133.482723 553.542408 
C 132.27644 553.979686 131.070157 554.281257 129.863874 554.582827 
C 128.657592 554.884398 127.451309 555.201047 126.245026 555.351832 
C 125.038743 555.502618 123.832461 555.449843 122.626178 555.487539 
C 121.419895 555.525236 120.213613 555.525236 119.00733 555.57801 
C 117.801047 555.630785 116.594764 555.879581 115.388482 555.804188 
C 114.182199 555.728796 112.975916 555.389529 111.769634 555.125654 
C 110.563351 554.86178 109.281675 554.635602 108.150785 554.220942 
C 107.019895 553.806283 105.964398 553.31623 104.984293 552.637696 
C 104.004188 551.959162 103.06178 551.016754 102.270157 550.149738 
C 101.478534 549.282723 100.649215 548.264921 100.234555 547.435602 
C 99.819895 546.606283 99.66911 545.965445 99.782199 545.173822 
C 99.895288 544.382199 100.347644 543.439791 100.913089 542.685864 
C 101.478534 541.931937 102.270157 541.253403 103.174869 540.650262 
C 104.079581 540.04712 105.135079 539.557068 106.341361 539.067016 
C 107.547644 538.576963 109.13089 538.124607 110.412565 537.709948 
C 111.694241 537.295288 112.749738 536.85801 114.031414 536.579058 
C 115.313089 536.300105 116.74555 536.111623 118.102618 536.03623 
z
" clip-path="url(#p4a394fea91)" style="fill: #999999; stroke: #000000; stroke-width: 0.8"/>
</g>
<g id="patch_50">
<path d="M 118.102618 539.383665 
C 119.158115 539.338429 120.892147 539.308272 122.173822 539.383665 
C 123.455497 539.459058 124.66178 539.511832 125.79267 539.836021 
C 126.92356 540.160209 127.979058 540.778429 128.959162 541.328796 
C 129.939267 541.879162 130.881675 542.535079 131.673298 543.13822 
C 132.464921 543.741361 133.271623 544.344503 133.708901 544.947644 
C 134.146178 545.550785 134.410052 546.11623 134.296963 546.757068 
C 134.183874 547.397906 133.693822 548.189529 133.030366 548.79267 
C 132.366911 549.395812 131.296335 549.908482 130.31623 550.375916 
C 129.336126 550.843351 128.205236 551.310785 127.149738 551.597277 
C 126.094241 551.88377 125.189529 551.989319 123.983246 552.094869 
C 122.776963 552.200419 121.193717 552.207958 119.912042 552.230576 
C 118.630366 552.253194 117.499476 552.388901 116.293194 552.230576 
C 115.086911 552.072251 113.805236 551.665131 112.674346 551.280628 
C 111.543455 550.896126 110.337173 550.413613 109.507853 549.92356 
C 108.678534 549.433508 108.135707 548.943455 107.698429 548.340314 
C 107.261152 547.737173 106.884188 546.983246 106.884188 546.304712 
C 106.884188 545.626178 107.185759 544.947644 107.698429 544.26911 
C 108.211099 543.590576 109.055497 542.874346 109.960209 542.233508 
C 110.864921 541.59267 112.146597 540.853822 113.126702 540.424084 
C 114.106806 539.994346 115.011518 539.828482 115.840838 539.655079 
C 116.670157 539.481675 117.04712 539.428901 118.102618 539.383665 
z
" clip-path="url(#p4a394fea91)" style="fill: #666666; stroke: #000000; stroke-width: 0.8"/>
</g>
<g id="patch_51">
<path d="M 120.816754 542.369215 
C 121.947644 542.346597 123.078534 542.444607 123.983246 542.685864 
C 124.887958 542.92712 125.679581 543.364398 126.245026 543.816754 
C 126.810471 544.26911 127.262827 544.834555 127.375916 545.4 
C 127.489005 545.965445 127.262827 546.681675 126.92356 547.209424 
C 126.584293 547.737173 126.131937 548.227225 125.340314 548.566492 
C 124.548691 548.905759 123.229319 549.094241 122.173822 549.245026 
C 121.118325 549.395812 119.987435 549.546597 119.00733 549.471204 
C 118.027225 549.395812 117.04712 549.131937 116.293194 548.79267 
C 115.539267 548.453403 114.898429 547.925654 114.48377 547.435602 
C 114.06911 546.94555 113.729843 546.417801 113.805236 545.852356 
C 113.880628 545.286911 114.370681 544.548063 114.936126 544.042932 
C 115.501571 543.537801 116.217801 543.100524 117.197906 542.821571 
C 118.17801 542.542618 119.685864 542.391832 120.816754 542.369215 
z
" clip-path="url(#p4a394fea91)" style="stroke: #000000; stroke-width: 0.8"/>
</g>
<g id="matplotlib.axis_13">
<g id="xtick_28">
<g id="line2d_52">
<g>
<use href="#me9cd61fec0" x="96.48" y="673.02" style="stroke: #000000; stroke-width: 0.8"/>
</g>
</g>
</g>
<g id="xtick_29">
<g id="line2d_53">
<g>
<use href="#me9cd61fec0" x="132.48" y="673.02" style="stroke: #000000; stroke-width: 0.8"/>
</g>
</g>
</g>
<g id="xtick_30">
<g id="line2d_54">
<g>
<use href="#me9cd61fec0" x="168.48" y="673.02" style="stroke: #000000; stroke-width: 0.8"/>
</g>
</g>
</g>
<g id="xtick_31">
<g id="line2d_55">
<g>
<use href="#me9cd61fec0" x="204.12" y="673.02" style="stroke: #000000; stroke-width: 0.8"/>
</g>
</g>
</g>
</g>
<g id="matplotlib.axis_14">
<g id="ytick_16">
<g id="line2d_56">
<g>
<use href="#m2ecc1fbad5" x="64.62" y="647.64" style="stroke: #000000; stroke-width: 0.8"/>
</g>
</g>
<g id="text_16">
<g transform="translate(31.6926 674.2841) rotate(-45) scale(0.15 -0.15)">
<use href="#DejaVuSans-30"/>
<use href="#DejaVuSans-2e" transform="translate(62.4142 0)"/>
<use href="#DejaVuSans-35" transform="translate(93.5974 0)"/>
<use href="#DejaVuSans-30" transform="translate(156.0116 0)"/>
</g>
</g>
</g>
<g id="ytick_17">
<g id="line2d_57">
<g>
<use href="#m2ecc1fbad5" x="64.62" y="613.44" style="stroke: #000000; stroke-width: 0.8"/>
</g>
</g>
<g id="text_17">
<g transform="translate(31.6926 640.0841) rotate(-45) scale(0.15 -0.15)">
<use href="#DejaVuSans-30"/>
<use href="#DejaVuSans-2e" transform="translate(62.4142 0)"/>
<use href="#DejaVuSans-35" transform="translate(93.5974 0)"/>
<use href="#DejaVuSans-32" transform="translate(156.0116 0)"/>
</g>
</g>
</g>
<g id="ytick_18">
<g id="line2d_58">
<g>
<use href="#m2ecc1fbad5" x="64.62" y="579.24" style="stroke: #000000; stroke-width: 0.8"/>
</g>
</g>
<g id="text_18">
<g transform="translate(31.6926 605.8841) rotate(-45) scale(0.15 -0.15)">
<use href="#DejaVuSans-30"/>
<use href="#DejaVuSans-2e" transform="translate(62.4142 0)"/>
<use href="#DejaVuSans-35" transform="translate(93.5974 0)"/>
<use href="#DejaVuSans-34" transform="translate(156.0116 0)"/>
</g>
</g>
</g>
<g id="ytick_19">
<g id="line2d_59">
<g>
<use href="#m2ecc1fbad5" x="64.62" y="545.04" style="stroke: #000000; stroke-width: 0.8"/>
</g>
</g>
<g id="text_19">
<g transform="translate(31.6926 571.6841) rotate(-45) scale(0.15 -0.15)">
<use href="#DejaVuSans-30"/>
<use href="#DejaVuSans-2e" transform="translate(62.4142 0)"/>
<use href="#DejaVuSans-35" transform="translate(93.5974 0)"/>
<use href="#DejaVuSans-36" transform="translate(156.0116 0)"/>
</g>
</g>
</g>
<g id="text_20">
<g transform="translate(14.844469 597.900234) rotate(-90) scale(0.15 -0.15)">
<defs>
<path id="DejaVuSans-66" d="M 2375 4863 
L 2375 4384 
L 1825 4384 
Q 1516 4384 1395 4259 
Q 1275 4134 1275 3809 
L 1275 3500 
L 2222 3500 
L 2222 3053 
L 1275 3053 
L 1275 0 
L 697 0 
L 697 3053 
L 147 3053 
L 147 3500 
L 697 3500 
L 697 3744 
Q 697 4328 969 4595 
Q 1241 4863 1831 4863 
L 2375 4863 
z
" transform="scale(0.015625)"/>
</defs>
<use href="#DejaVuSans-66"/>
</g>
</g>
</g>
<g id="patch_52">
<path d="M 64.62 673.02 
L 64.62 517.5 
" style="fill: none; stroke: #000000; stroke-width: 0.5; stroke-linejoin: miter; stroke-linecap: square"/>
</g>
<g id="patch_53">
<path d="M 220.14 673.02 
L 220.14 517.5 
" style="fill: none; stroke: #000000; stroke-width: 0.5; stroke-linejoin: miter; stroke-linecap: square"/>
</g>
<g id="patch_54">
<path d="M 64.62 673.02 
L 220.14 673.02 
" style="fill: none; stroke: #000000; stroke-width: 0.5; stroke-linejoin: miter; stroke-linecap: square"/>
</g>
<g id="patch_55">
<path d="M 64.62 517.5 
L 220.14 517.5 
" style="fill: none; stroke: #000000; stroke-width: 0.5; stroke-linejoin: miter; stroke-linecap: square"/>
</g>
</g>
<g id="axes_8">
<g id="patch_56">
<path d="M 228.06 673.02 
L 383.22 673.02 
L 383.22 517.5 
L 228.06 517.5 
z
" style="fill: #ffffff"/>
</g>
<g id="patch_57">
<path d="M 291.797906 532.281675 
C 293.004188 532.266597 294.210471 532.394764 295.416754 532.507853 
C 296.623037 532.620942 297.829319 532.84712 299.035602 532.960209 
C 300.241885 533.073298 301.448168 533.073298 302.65445 533.186387 
C 303.860733 533.299476 305.067016 533.412565 306.273298 533.638743 
C 307.479581 533.864921 308.685864 534.143874 309.892147 534.543455 
C 311.098429 534.943037 312.304712 535.546178 313.510995 536.03623 
C 314.717277 536.526283 315.998953 537.091728 317.129843 537.48377 
C 318.260733 537.875812 319.165445 538.086911 320.296335 538.388482 
C 321.427225 538.690052 322.784293 538.878534 323.915183 539.293194 
C 325.046073 539.707853 326.101571 540.310995 327.081675 540.87644 
C 328.06178 541.441885 329.132356 542.045026 329.795812 542.685864 
C 330.459267 543.326702 330.987016 544.005236 331.062408 544.721466 
C 331.137801 545.437696 330.685445 546.153927 330.248168 546.983246 
C 329.81089 547.812565 329.117277 548.905759 328.438743 549.697382 
C 327.760209 550.489005 327.081675 551.205236 326.176963 551.732984 
C 325.272251 552.260733 324.141361 552.486911 323.010471 552.863874 
C 321.879581 553.240838 320.522513 553.580105 319.391623 553.994764 
C 318.260733 554.409424 317.280628 554.899476 316.225131 555.351832 
C 315.169634 555.804188 314.189529 556.309319 313.058639 556.708901 
C 311.927749 557.108482 310.796859 557.470366 309.439791 557.749319 
C 308.082723 558.028272 306.348691 558.231832 304.91623 558.382618 
C 303.48377 558.533403 302.277487 558.631414 300.845026 558.654031 
C 299.412565 558.676649 297.603141 558.503246 296.321466 558.518325 
C 295.039791 558.533403 294.210471 558.616335 293.154974 558.744503 
C 292.099476 558.87267 290.968586 559.174241 289.988482 559.28733 
C 289.008377 559.400419 288.329843 559.513508 287.274346 559.423037 
C 286.218848 559.332565 285.012565 559.046073 283.655497 558.744503 
C 282.298429 558.442932 280.639791 558.065969 279.131937 557.613613 
C 277.624084 557.161257 276.040838 556.595812 274.608377 556.030366 
C 273.175916 555.464921 271.668063 554.86178 270.537173 554.220942 
C 269.406283 553.580105 268.652356 552.939267 267.823037 552.18534 
C 266.993717 551.431414 266.239791 550.526702 265.561257 549.697382 
C 264.882723 548.868063 264.204188 548.038743 263.751832 547.209424 
C 263.299476 546.380105 262.884817 545.513089 262.84712 544.721466 
C 262.809424 543.929843 263.148691 543.175916 263.525654 542.459686 
C 263.902618 541.743455 264.317277 541.064921 265.108901 540.424084 
C 265.900524 539.783246 267.144503 539.217801 268.275393 538.61466 
C 269.406283 538.011518 270.687958 537.332984 271.894241 536.805236 
C 273.100524 536.277487 274.306806 535.862827 275.513089 535.448168 
C 276.719372 535.033508 277.774869 534.656545 279.131937 534.317277 
C 280.489005 533.97801 282.147644 533.699058 283.655497 533.412565 
C 285.163351 533.126073 286.82199 532.786806 288.179058 532.598325 
C 289.536126 532.409843 290.591623 532.296754 291.797906 532.281675 
z
" clip-path="url(#pf3b33ba987)" style="fill: #cccccc; stroke: #000000; stroke-width: 0.8"/>
</g>
<g id="patch_58">
<path d="M 291.34555 535.900524 
C 292.551832 535.900524 293.682723 536.028691 294.964398 536.126702 
C 296.246073 536.224712 297.678534 536.35288 299.035602 536.488586 
C 300.39267 536.624293 301.825131 536.76 303.106806 536.940942 
C 304.388482 537.121885 305.519372 537.257592 306.725654 537.574241 
C 307.931937 537.89089 309.213613 538.343246 310.344503 538.840838 
C 311.475393 539.338429 312.53089 539.956649 313.510995 540.559791 
C 314.491099 541.162932 315.433508 541.80377 316.225131 542.459686 
C 317.016754 543.115602 317.868691 543.85445 318.260733 544.495288 
C 318.652775 545.136126 318.765864 545.588482 318.577382 546.304712 
C 318.388901 547.020942 317.823455 547.963351 317.129843 548.79267 
C 316.43623 549.62199 315.471204 550.564398 314.415707 551.280628 
C 313.360209 551.996859 312.078534 552.562304 310.796859 553.090052 
C 309.515183 553.617801 308.082723 554.092775 306.725654 554.44712 
C 305.368586 554.801466 304.011518 555.027644 302.65445 555.216126 
C 301.297382 555.404607 299.940314 555.48 298.583246 555.57801 
C 297.226178 555.676021 295.793717 555.728796 294.512042 555.804188 
C 293.230366 555.879581 291.948691 555.99267 290.893194 556.030366 
C 289.837696 556.068063 289.234555 556.181152 288.179058 556.030366 
C 287.12356 555.879581 285.841885 555.464921 284.560209 555.125654 
C 283.278534 554.786387 281.770681 554.371728 280.489005 553.994764 
C 279.20733 553.617801 278.001047 553.353927 276.870157 552.863874 
C 275.739267 552.373822 274.608377 551.732984 273.703665 551.05445 
C 272.798953 550.375916 272.00733 549.546597 271.441885 548.79267 
C 270.87644 548.038743 270.424084 547.322513 270.310995 546.53089 
C 270.197906 545.739267 270.348691 544.796859 270.763351 544.042932 
C 271.17801 543.289005 271.931937 542.685864 272.798953 542.00733 
C 273.665969 541.328796 274.834555 540.612565 275.965445 539.971728 
C 277.096335 539.33089 278.302618 538.667435 279.584293 538.162304 
C 280.865969 537.657173 282.298429 537.280209 283.655497 536.940942 
C 285.012565 536.601675 286.445026 536.300105 287.726702 536.126702 
C 289.008377 535.953298 290.139267 535.900524 291.34555 535.900524 
z
" clip-path="url(#pf3b33ba987)" style="fill: #999999; stroke: #000000; stroke-width: 0.8"/>
</g>
<g id="patch_59">
<path d="M 292.250262 539.564607 
C 293.531937 539.549529 294.662827 539.64 295.86911 539.74555 
C 297.075393 539.851099 298.281675 539.971728 299.487958 540.197906 
C 300.694241 540.424084 301.975916 540.725654 303.106806 541.102618 
C 304.237696 541.479581 305.33089 541.969634 306.273298 542.459686 
C 307.215707 542.949738 308.158115 543.477487 308.761257 544.042932 
C 309.364398 544.608377 309.816754 545.249215 309.892147 545.852356 
C 309.967539 546.455497 309.665969 547.096335 309.213613 547.66178 
C 308.761257 548.227225 308.045026 548.79267 307.17801 549.245026 
C 306.310995 549.697382 305.067016 549.998953 304.011518 550.375916 
C 302.956021 550.75288 301.900524 551.182618 300.845026 551.506806 
C 299.789529 551.830995 298.734031 552.140105 297.678534 552.321047 
C 296.623037 552.50199 295.642932 552.562304 294.512042 552.592461 
C 293.381152 552.622618 292.024084 552.645236 290.893194 552.50199 
C 289.762304 552.358743 288.782199 552.08733 287.726702 551.732984 
C 286.671204 551.378639 285.615707 550.828272 284.560209 550.375916 
C 283.504712 549.92356 282.298429 549.471204 281.393717 549.018848 
C 280.489005 548.566492 279.659686 548.189529 279.131937 547.66178 
C 278.604188 547.134031 278.227225 546.493194 278.227225 545.852356 
C 278.227225 545.211518 278.604188 544.457592 279.131937 543.816754 
C 279.659686 543.175916 280.489005 542.535079 281.393717 542.00733 
C 282.298429 541.479581 283.429319 541.012147 284.560209 540.650262 
C 285.691099 540.288377 286.897382 540.016963 288.179058 539.836021 
C 289.460733 539.655079 290.968586 539.579686 292.250262 539.564607 
z
" clip-path="url(#pf3b33ba987)" style="fill: #666666; stroke: #000000; stroke-width: 0.8"/>
</g>
<g id="patch_60">
<path d="M 294.059686 542.595393 
C 295.039791 542.557696 295.86911 542.806492 296.773822 543.047749 
C 297.678534 543.289005 298.809424 543.613194 299.487958 544.042932 
C 300.166492 544.47267 300.656545 545.098429 300.845026 545.626178 
C 301.033508 546.153927 300.920419 546.681675 300.618848 547.209424 
C 300.317277 547.737173 299.67644 548.362932 299.035602 548.79267 
C 298.394764 549.222408 297.603141 549.576754 296.773822 549.787853 
C 295.944503 549.998953 294.964398 550.074346 294.059686 550.059267 
C 293.154974 550.044188 292.174869 549.92356 291.34555 549.697382 
C 290.51623 549.471204 289.724607 549.079162 289.08377 548.702199 
C 288.442932 548.325236 287.877487 547.87288 287.500524 547.435602 
C 287.12356 546.998325 286.708901 546.568586 286.82199 546.078534 
C 286.935079 545.588482 287.500524 544.962723 288.179058 544.495288 
C 288.857592 544.027853 289.913089 543.590576 290.893194 543.273927 
C 291.873298 542.957277 293.079581 542.633089 294.059686 542.595393 
z
" clip-path="url(#pf3b33ba987)" style="stroke: #000000; stroke-width: 0.8"/>
</g>
<g id="matplotlib.axis_15">
<g id="xtick_32">
<g id="line2d_60">
<g>
<use href="#me9cd61fec0" x="243.36" y="673.02" style="stroke: #000000; stroke-width: 0.8"/>
</g>
</g>
</g>
<g id="xtick_33">
<g id="line2d_61">
<g>
<use href="#me9cd61fec0" x="278.28" y="673.02" style="stroke: #000000; stroke-width: 0.8"/>
</g>
</g>
</g>
<g id="xtick_34">
<g id="line2d_62">
<g>
<use href="#me9cd61fec0" x="312.84" y="673.02" style="stroke: #000000; stroke-width: 0.8"/>
</g>
</g>
</g>
<g id="xtick_35">
<g id="line2d_63">
<g>
<use href="#me9cd61fec0" x="347.76" y="673.02" style="stroke: #000000; stroke-width: 0.8"/>
</g>
</g>
</g>
<g id="xtick_36">
<g id="line2d_64">
<g>
<use href="#me9cd61fec0" x="382.68" y="673.02" style="stroke: #000000; stroke-width: 0.8"/>
</g>
</g>
</g>
</g>
<g id="matplotlib.axis_16">
<g id="ytick_20">
<g id="line2d_65">
<g>
<use href="#m2ecc1fbad5" x="228.06" y="647.64" style="stroke: #000000; stroke-width: 0.8"/>
</g>
</g>
</g>
<g id="ytick_21">
<g id="line2d_66">
<g>
<use href="#m2ecc1fbad5" x="228.06" y="613.44" style="stroke: #000000; stroke-width: 0.8"/>
</g>
</g>
</g>
<g id="ytick_22">
<g id="line2d_67">
<g>
<use href="#m2ecc1fbad5" x="228.06" y="579.24" style="stroke: #000000; stroke-width: 0.8"/>
</g>
</g>
</g>
<g id="ytick_23">
<g id="line2d_68">
<g>
<use href="#m2ecc1fbad5" x="228.06" y="545.04" style="stroke: #000000; stroke-width: 0.8"/>
</g>
</g>
</g>
</g>
<g id="patch_61">
<path d="M 228.06 673.02 
L 228.06 517.5 
" style="fill: none; stroke: #000000; stroke-width: 0.5; stroke-linejoin: miter; stroke-linecap: square"/>
</g>
<g id="patch_62">
<path d="M 383.22 673.02 
L 383.22 517.5 
" style="fill: none; stroke: #000000; stroke-width: 0.5; stroke-linejoin: miter; stroke-linecap: square"/>
</g>
<g id="patch_63">
<path d="M 228.06 673.02 
L 383.22 673.02 
" style="fill: none; stroke: #000000; stroke-width: 0.5; stroke-linejoin: miter; stroke-linecap: square"/>
</g>
<g id="patch_64">
<path d="M 228.06 517.5 
L 383.22 517.5 
" style="fill: none; stroke: #000000; stroke-width: 0.5; stroke-linejoin: miter; stroke-linecap: square"/>
</g>
</g>
<g id="axes_9">
<g id="patch_65">
<path d="M 391.14 673.02 
L 546.66 673.02 
L 546.66 517.5 
L 391.14 517.5 
z
" style="fill: #ffffff"/>
</g>
<g id="patch_66">
<path d="M 451.112042 532.417382 
C 452.393717 532.477696 453.524607 532.718953 454.73089 532.869738 
C 455.937173 533.020524 457.143455 533.15623 458.349738 533.322094 
C 459.556021 533.487958 460.762304 533.623665 461.968586 533.864921 
C 463.174869 534.106178 464.381152 534.468063 465.587435 534.769634 
C 466.793717 535.071204 468 535.335079 469.206283 535.674346 
C 470.412565 536.013613 471.618848 536.390576 472.825131 536.805236 
C 474.031414 537.219895 475.313089 537.709948 476.443979 538.162304 
C 477.574869 538.61466 478.705759 538.953927 479.610471 539.519372 
C 480.515183 540.084817 481.254031 540.838743 481.872251 541.554974 
C 482.490471 542.271204 482.980524 543.025131 483.319791 543.816754 
C 483.659058 544.608377 483.960628 545.475393 483.907853 546.304712 
C 483.855079 547.134031 483.493194 547.963351 483.003141 548.79267 
C 482.513089 549.62199 481.834555 550.526702 480.967539 551.280628 
C 480.100524 552.034555 478.931937 552.713089 477.801047 553.31623 
C 476.670157 553.919372 475.388482 554.44712 474.182199 554.899476 
C 472.975916 555.351832 471.769634 555.706178 470.563351 556.030366 
C 469.357068 556.354555 468.226178 556.633508 466.944503 556.844607 
C 465.662827 557.055707 464.154974 557.070785 462.873298 557.296963 
C 461.591623 557.523141 460.460733 557.960419 459.25445 558.201675 
C 458.048168 558.442932 456.99267 558.66911 455.635602 558.744503 
C 454.278534 558.819895 452.619895 558.714346 451.112042 558.654031 
C 449.604188 558.593717 448.096335 558.382618 446.588482 558.382618 
C 445.080628 558.382618 443.42199 558.684188 442.064921 558.654031 
C 440.707853 558.623874 439.652356 558.412775 438.446073 558.201675 
C 437.239791 557.990576 436.184293 557.673927 434.827225 557.387435 
C 433.470157 557.100942 431.811518 556.82199 430.303665 556.482723 
C 428.795812 556.143455 427.06178 555.804188 425.780105 555.351832 
C 424.498429 554.899476 423.556021 554.44712 422.613613 553.768586 
C 421.671204 553.090052 420.728796 552.147644 420.125654 551.280628 
C 419.522513 550.413613 419.198325 549.508901 418.994764 548.566492 
C 418.791204 547.624084 418.791204 546.568586 418.904293 545.626178 
C 419.017382 544.68377 419.205864 543.741361 419.673298 542.912042 
C 420.140733 542.082723 420.841885 541.404188 421.708901 540.650262 
C 422.575916 539.896335 423.744503 539.067016 424.875393 538.388482 
C 426.006283 537.709948 427.287958 537.106806 428.494241 536.579058 
C 429.700524 536.051309 430.906806 535.614031 432.113089 535.22199 
C 433.319372 534.829948 434.525654 534.528377 435.731937 534.226806 
C 436.93822 533.925236 438.144503 533.661361 439.350785 533.412565 
C 440.557068 533.16377 441.687958 532.884817 442.969634 532.734031 
C 444.251309 532.583246 445.68377 532.560628 447.040838 532.507853 
C 448.397906 532.455079 449.830366 532.357068 451.112042 532.417382 
z
" clip-path="url(#p37af299f14)" style="fill: #cccccc; stroke: #000000; stroke-width: 0.8"/>
</g>
<g id="patch_67">
<path d="M 451.112042 536.126702 
C 452.46911 536.187016 453.524607 536.337801 454.73089 536.488586 
C 455.937173 536.639372 457.218848 536.827853 458.349738 537.031414 
C 459.480628 537.234974 460.460733 537.48377 461.51623 537.709948 
C 462.571728 537.936126 463.627225 538.124607 464.682723 538.388482 
C 465.73822 538.652356 466.86911 538.91623 467.849215 539.293194 
C 468.829319 539.670157 469.696335 540.122513 470.563351 540.650262 
C 471.430366 541.17801 472.410471 541.781152 473.051309 542.459686 
C 473.692147 543.13822 474.257592 543.929843 474.408377 544.721466 
C 474.559162 545.513089 474.295288 546.417801 473.956021 547.209424 
C 473.616754 548.001047 473.089005 548.79267 472.372775 549.471204 
C 471.656545 550.149738 470.638743 550.75288 469.658639 551.280628 
C 468.678534 551.808377 467.623037 552.238115 466.492147 552.637696 
C 465.361257 553.037277 464.004188 553.353927 462.873298 553.678115 
C 461.742408 554.002304 460.762304 554.303874 459.706806 554.582827 
C 458.651309 554.86178 457.671204 555.185969 456.540314 555.351832 
C 455.409424 555.517696 454.127749 555.555393 452.921466 555.57801 
C 451.715183 555.600628 450.508901 555.525236 449.302618 555.487539 
C 448.096335 555.449843 446.890052 555.351832 445.68377 555.351832 
C 444.477487 555.351832 443.195812 555.562932 442.064921 555.487539 
C 440.934031 555.412147 440.029319 555.223665 438.898429 554.899476 
C 437.767539 554.575288 436.485864 554.070157 435.279581 553.542408 
C 434.073298 553.01466 432.791623 552.336126 431.660733 551.732984 
C 430.529843 551.129843 429.398953 550.526702 428.494241 549.92356 
C 427.589529 549.320419 426.722513 548.79267 426.232461 548.114136 
C 425.742408 547.435602 425.553927 546.606283 425.553927 545.852356 
C 425.553927 545.098429 425.780105 544.306806 426.232461 543.590576 
C 426.684817 542.874346 427.438743 542.195812 428.268063 541.554974 
C 429.097382 540.914136 430.115183 540.273298 431.208377 539.74555 
C 432.301571 539.217801 433.620942 538.825759 434.827225 538.388482 
C 436.033508 537.951204 437.239791 537.48377 438.446073 537.121885 
C 439.652356 536.76 440.707853 536.383037 442.064921 536.217173 
C 443.42199 536.051309 445.080628 536.14178 446.588482 536.126702 
C 448.096335 536.111623 449.754974 536.066387 451.112042 536.126702 
z
" clip-path="url(#p37af299f14)" style="fill: #999999; stroke: #000000; stroke-width: 0.8"/>
</g>
<g id="patch_68">
<path d="M 443.42199 539.383665 
C 444.402094 539.361047 445.834555 539.459058 447.040838 539.519372 
C 448.24712 539.579686 449.453403 539.647539 450.659686 539.74555 
C 451.865969 539.84356 453.147644 539.918953 454.278534 540.107435 
C 455.409424 540.295916 456.464921 540.559791 457.445026 540.87644 
C 458.425131 541.193089 459.25445 541.59267 460.159162 542.00733 
C 461.063874 542.42199 462.081675 542.912042 462.873298 543.364398 
C 463.664921 543.816754 464.456545 544.306806 464.908901 544.721466 
C 465.361257 545.136126 465.625131 545.362304 465.587435 545.852356 
C 465.549738 546.342408 465.210471 547.096335 464.682723 547.66178 
C 464.154974 548.227225 463.250262 548.754974 462.420942 549.245026 
C 461.591623 549.735079 460.611518 550.202513 459.706806 550.602094 
C 458.802094 551.001675 457.972775 551.378639 456.99267 551.642513 
C 456.012565 551.906387 454.957068 552.057173 453.826178 552.18534 
C 452.695288 552.313508 451.413613 552.388901 450.20733 552.411518 
C 449.001047 552.434136 447.794764 552.358743 446.588482 552.321047 
C 445.382199 552.283351 444.100524 552.321047 442.969634 552.18534 
C 441.838743 552.049634 440.783246 551.88377 439.803141 551.506806 
C 438.823037 551.129843 437.918325 550.526702 437.089005 549.92356 
C 436.259686 549.320419 435.430366 548.566492 434.827225 547.887958 
C 434.224084 547.209424 433.620942 546.493194 433.470157 545.852356 
C 433.319372 545.211518 433.54555 544.608377 433.922513 544.042932 
C 434.299476 543.477487 434.97801 543.025131 435.731937 542.459686 
C 436.485864 541.894241 437.541361 541.117696 438.446073 540.650262 
C 439.350785 540.182827 440.33089 539.866178 441.160209 539.655079 
C 441.989529 539.443979 442.441885 539.406283 443.42199 539.383665 
z
" clip-path="url(#p37af299f14)" style="fill: #666666; stroke: #000000; stroke-width: 0.8"/>
</g>
<g id="patch_69">
<path d="M 443.874346 542.595393 
C 444.628272 542.580314 445.98534 542.693403 447.040838 542.821571 
C 448.096335 542.949738 449.189529 543.160838 450.20733 543.364398 
C 451.225131 543.567958 452.356021 543.741361 453.147644 544.042932 
C 453.939267 544.344503 454.557487 544.796859 454.957068 545.173822 
C 455.356649 545.550785 455.545131 545.852356 455.545131 546.304712 
C 455.545131 546.757068 455.394346 547.435602 454.957068 547.887958 
C 454.519791 548.340314 453.713089 548.732356 452.921466 549.018848 
C 452.129843 549.30534 451.187435 549.531518 450.20733 549.606911 
C 449.227225 549.682304 448.096335 549.569215 447.040838 549.471204 
C 445.98534 549.373194 444.779058 549.245026 443.874346 549.018848 
C 442.969634 548.79267 442.215707 548.491099 441.612565 548.114136 
C 441.009424 547.737173 440.519372 547.209424 440.255497 546.757068 
C 439.991623 546.304712 439.878534 545.890052 440.029319 545.4 
C 440.180105 544.909948 440.74555 544.231414 441.160209 543.816754 
C 441.574869 543.402094 442.064921 543.115602 442.517277 542.912042 
C 442.969634 542.708482 443.120419 542.610471 443.874346 542.595393 
z
" clip-path="url(#p37af299f14)" style="stroke: #000000; stroke-width: 0.8"/>
</g>
<g id="matplotlib.axis_17">
<g id="xtick_37">
<g id="line2d_69">
<g>
<use href="#me9cd61fec0" x="414" y="673.02" style="stroke: #000000; stroke-width: 0.8"/>
</g>
</g>
</g>
<g id="xtick_38">
<g id="line2d_70">
<g>
<use href="#me9cd61fec0" x="446.76" y="673.02" style="stroke: #000000; stroke-width: 0.8"/>
</g>
</g>
</g>
<g id="xtick_39">
<g id="line2d_71">
<g>
<use href="#me9cd61fec0" x="479.52" y="673.02" style="stroke: #000000; stroke-width: 0.8"/>
</g>
</g>
</g>
<g id="xtick_40">
<g id="line2d_72">
<g>
<use href="#me9cd61fec0" x="512.28" y="673.02" style="stroke: #000000; stroke-width: 0.8"/>
</g>
</g>
</g>
<g id="xtick_41">
<g id="line2d_73">
<g>
<use href="#me9cd61fec0" x="545.04" y="673.02" style="stroke: #000000; stroke-width: 0.8"/>
</g>
</g>
</g>
</g>
<g id="matplotlib.axis_18">
<g id="ytick_24">
<g id="line2d_74">
<g>
<use href="#m2ecc1fbad5" x="391.14" y="647.64" style="stroke: #000000; stroke-width: 0.8"/>
</g>
</g>
</g>
<g id="ytick_25">
<g id="line2d_75">
<g>
<use href="#m2ecc1fbad5" x="391.14" y="613.44" style="stroke: #000000; stroke-width: 0.8"/>
</g>
</g>
</g>
<g id="ytick_26">
<g id="line2d_76">
<g>
<use href="#m2ecc1fbad5" x="391.14" y="579.24" style="stroke: #000000; stroke-width: 0.8"/>
</g>
</g>
</g>
<g id="ytick_27">
<g id="line2d_77">
<g>
<use href="#m2ecc1fbad5" x="391.14" y="545.04" style="stroke: #000000; stroke-width: 0.8"/>
</g>
</g>
</g>
</g>
<g id="patch_70">
<path d="M 391.14 673.02 
L 391.14 517.5 
" style="fill: none; stroke: #000000; stroke-width: 0.5; stroke-linejoin: miter; stroke-linecap: square"/>
</g>
<g id="patch_71">
<path d="M 546.66 673.02 
L 546.66 517.5 
" style="fill: none; stroke: #000000; stroke-width: 0.5; stroke-linejoin: miter; stroke-linecap: square"/>
</g>
<g id="patch_72">
<path d="M 391.14 673.02 
L 546.66 673.02 
" style="fill: none; stroke: #000000; stroke-width: 0.5; stroke-linejoin: miter; stroke-linecap: square"/>
</g>
<g id="patch_73">
<path d="M 391.14 517.5 
L 546.66 517.5 
" style="fill: none; stroke: #000000; stroke-width: 0.5; stroke-linejoin: miter; stroke-linecap: square"/>
</g>
</g>
<g id="axes_10">
<g id="patch_74">
<path d="M 554.22 673.02 
L 709.74 673.02 
L 709.74 517.5 
L 554.22 517.5 
z
" style="fill: #ffffff"/>
</g>
<g id="patch_75">
<path d="M 656.679581 673.02 
L 656.679581 672.815497 
L 660.411518 671.986178 
L 662.484817 670.659267 
L 664.143455 668.420105 
L 665.553298 665.102827 
L 666.631414 661.37089 
L 667.460733 657.224293 
L 668.290052 652.248377 
L 669.119372 646.443141 
L 669.699895 640.637906 
L 670.363351 634.83267 
L 671.026806 628.198115 
L 671.60733 622.39288 
L 672.187853 615.758325 
L 672.851309 609.12377 
L 673.431832 602.489215 
L 673.929424 595.85466 
L 674.344084 589.220105 
L 674.841675 582.58555 
L 675.339267 575.950995 
L 675.919791 569.31644 
L 676.33445 562.681885 
L 676.74911 556.04733 
L 677.246702 549.412775 
L 677.827225 543.607539 
L 678.407749 537.802304 
L 678.90534 531.997068 
L 679.651728 527.850471 
L 680.481047 525.362513 
L 680.978639 524.78199 
L 681.642094 525.777173 
L 682.388482 528.265131 
L 683.051937 532.826387 
L 683.798325 538.631623 
L 684.46178 544.436859 
L 685.042304 551.071414 
L 685.539895 557.705969 
L 686.120419 564.340524 
L 686.61801 570.975079 
L 687.115602 577.609634 
L 687.530262 584.244188 
L 688.027853 590.878743 
L 688.608377 597.513298 
L 689.188901 604.147853 
L 689.686492 610.782408 
L 690.267016 617.416963 
L 690.847539 623.222199 
L 691.510995 629.027435 
L 692.17445 634.83267 
L 692.754974 640.637906 
L 693.335497 646.443141 
L 693.998953 652.248377 
L 694.579476 657.224293 
L 695.657592 661.37089 
L 696.901571 665.517487 
L 698.560209 668.834764 
L 700.633508 671.156859 
L 702.706806 672.317906 
L 705.609424 672.815497 
L 705.609424 673.02 
z
" clip-path="url(#p47b0021805)" style="fill: #666666"/>
</g>
<g id="matplotlib.axis_19">
<g id="xtick_42">
<g id="line2d_78">
<g>
<use href="#me9cd61fec0" x="579.24" y="673.02" style="stroke: #000000; stroke-width: 0.8"/>
</g>
</g>
</g>
<g id="xtick_43">
<g id="line2d_79">
<g>
<use href="#me9cd61fec0" x="613.44" y="673.02" style="stroke: #000000; stroke-width: 0.8"/>
</g>
</g>
</g>
<g id="xtick_44">
<g id="line2d_80">
<g>
<use href="#me9cd61fec0" x="647.64" y="673.02" style="stroke: #000000; stroke-width: 0.8"/>
</g>
</g>
</g>
<g id="xtick_45">
<g id="line2d_81">
<g>
<use href="#me9cd61fec0" x="681.84" y="673.02" style="stroke: #000000; stroke-width: 0.8"/>
</g>
</g>
</g>
</g>
<g id="matplotlib.axis_20"/>
<g id="line2d_82">
<path d="M 670.14 673.02 
L 670.14 517.5 
" clip-path="url(#p47b0021805)" style="fill: none; stroke-dasharray: 3.7,1.6; stroke-dashoffset: 0; stroke: #000000"/>
</g>
<g id="line2d_83">
<path d="M 680.94 673.02 
L 680.94 517.5 
" clip-path="url(#p47b0021805)" style="fill: none; stroke-dasharray: 3.7,1.6; stroke-dashoffset: 0; stroke: #000000"/>
</g>
<g id="line2d_84">
<path d="M 692.82 673.02 
L 692.82 517.5 
" clip-path="url(#p47b0021805)" style="fill: none; stroke-dasharray: 3.7,1.6; stroke-dashoffset: 0; stroke: #000000"/>
</g>
<g id="patch_76">
<path d="M 554.22 673.02 
L 554.22 517.5 
" style="fill: none; stroke: #000000; stroke-width: 0.5; stroke-linejoin: miter; stroke-linecap: square"/>
</g>
<g id="patch_77">
<path d="M 709.74 673.02 
L 709.74 517.5 
" style="fill: none; stroke: #000000; stroke-width: 0.5; stroke-linejoin: miter; stroke-linecap: square"/>
</g>
<g id="patch_78">
<path d="M 554.22 673.02 
L 709.74 673.02 
" style="fill: none; stroke: #000000; stroke-width: 0.5; stroke-linejoin: miter; stroke-linecap: square"/>
</g>
<g id="patch_79">
<path d="M 554.22 517.5 
L 709.74 517.5 
" style="fill: none; stroke: #000000; stroke-width: 0.5; stroke-linejoin: miter; stroke-linecap: square"/>
</g>
<g id="text_21">
<g transform="translate(576.4248 509.7) scale(0.18 -0.18)">
<use href="#DejaVuSans-66" transform="translate(0 0.765625)"/>
<use href="#DejaVuSans-20" transform="translate(35.205078 0.765625)"/>
<use href="#DejaVuSans-3d" transform="translate(66.992188 0.765625)"/>
<use href="#DejaVuSans-20" transform="translate(150.78125 0.765625)"/>
<use href="#DejaVuSans-30" transform="translate(182.568359 0.765625)"/>
<use href="#DejaVuSans-2e" transform="translate(246.191406 0.765625)"/>
<use href="#DejaVuSans-35" transform="translate(277.978516 0.765625)"/>
<use href="#DejaVuSans-36" transform="translate(341.601562 0.765625)"/>
<use href="#DejaVuSans-2b" transform="translate(406.181641 39.046875) scale(0.7)"/>
<use href="#DejaVuSans-30" transform="translate(464.833984 39.046875) scale(0.7)"/>
<use href="#DejaVuSans-2e" transform="translate(509.370117 39.046875) scale(0.7)"/>
<use href="#DejaVuSans-30" transform="translate(531.621094 39.046875) scale(0.7)"/>
<use href="#DejaVuSans-31" transform="translate(576.157227 39.046875) scale(0.7)"/>
<use href="#DejaVuSans-2212" transform="translate(406.181641 -26.578125) scale(0.7)"/>
<use href="#DejaVuSans-30" transform="translate(464.833984 -26.578125) scale(0.7)"/>
<use href="#DejaVuSans-2e" transform="translate(509.370117 -26.578125) scale(0.7)"/>
<use href="#DejaVuSans-30" transform="translate(531.621094 -26.578125) scale(0.7)"/>
<use href="#DejaVuSans-31" transform="translate(576.157227 -26.578125) scale(0.7)"/>
</g>
</g>
</g>
<g id="axes_11">
<g id="patch_80">
<path d="M 64.62 836.1 
L 220.14 836.1 
L 220.14 680.94 
L 64.62 680.94 
z
" style="fill: #ffffff"/>
</g>
<g id="patch_81">
<path d="M 118.564398 727.510995 
C 119.242932 727.548691 119.846073 727.548691 120.826178 727.963351 
C 121.806283 728.37801 123.314136 729.471204 124.445026 729.998953 
C 125.575916 730.526702 126.631414 730.75288 127.611518 731.129843 
C 128.591623 731.506806 129.534031 731.770681 130.325654 732.260733 
C 131.117277 732.750785 131.720419 733.353927 132.361257 734.070157 
C 133.002094 734.786387 133.529843 735.728796 134.170681 736.558115 
C 134.811518 737.387435 135.603141 738.216754 136.206283 739.046073 
C 136.809424 739.875393 137.299476 740.817801 137.789529 741.534031 
C 138.279581 742.250262 138.505759 742.702618 139.146597 743.343455 
C 139.787435 743.984293 140.842932 744.700524 141.634555 745.379058 
C 142.426178 746.057592 143.142408 746.660733 143.896335 747.41466 
C 144.650262 748.168586 145.479581 748.960209 146.158115 749.902618 
C 146.836649 750.845026 147.477487 751.93822 147.967539 753.06911 
C 148.457592 754.2 148.796859 755.557068 149.098429 756.687958 
C 149.4 757.818848 149.739267 758.798953 149.776963 759.85445 
C 149.81466 760.909948 149.626178 762.040838 149.324607 763.020942 
C 149.023037 764.001047 148.570681 764.981152 147.967539 765.735079 
C 147.364398 766.489005 146.535079 767.016754 145.705759 767.544503 
C 144.87644 768.072251 143.896335 768.373822 142.991623 768.901571 
C 142.086911 769.429319 141.106806 769.994764 140.277487 770.710995 
C 139.448168 771.427225 138.769634 772.445026 138.015707 773.198953 
C 137.26178 773.95288 136.583246 774.66911 135.753927 775.234555 
C 134.924607 775.8 134.019895 776.21466 133.039791 776.591623 
C 132.059686 776.968586 131.004188 777.119372 129.873298 777.496335 
C 128.742408 777.873298 127.460733 778.438743 126.25445 778.853403 
C 125.048168 779.268063 123.841885 779.645026 122.635602 779.984293 
C 121.429319 780.32356 120.223037 780.677906 119.016754 780.889005 
C 117.810471 781.100105 116.604188 781.175497 115.397906 781.25089 
C 114.191623 781.326283 112.834555 781.439372 111.779058 781.341361 
C 110.72356 781.243351 110.120419 781.002094 109.064921 780.662827 
C 108.009424 780.32356 106.652356 779.758115 105.446073 779.305759 
C 104.239791 778.853403 102.769634 778.47644 101.827225 777.948691 
C 100.884817 777.420942 100.319372 776.968586 99.791623 776.139267 
C 99.263874 775.309948 99.037696 773.839791 98.660733 772.972775 
C 98.28377 772.105759 98.057592 771.653403 97.529843 770.937173 
C 97.002094 770.220942 96.210471 769.429319 95.494241 768.675393 
C 94.77801 767.921466 93.910995 767.242932 93.232461 766.413613 
C 92.553927 765.584293 91.852775 764.679581 91.423037 763.699476 
C 90.993298 762.719372 90.691728 761.550785 90.654031 760.532984 
C 90.616335 759.515183 90.955602 758.497382 91.196859 757.59267 
C 91.438115 756.687958 91.8 755.934031 92.101571 755.104712 
C 92.403141 754.275393 92.591623 753.370681 93.006283 752.616754 
C 93.420942 751.862827 93.797906 751.259686 94.589529 750.581152 
C 95.381152 749.902618 96.700524 749.148691 97.756021 748.54555 
C 98.811518 747.942408 99.942408 747.452356 100.922513 746.962304 
C 101.902618 746.472251 102.80733 745.982199 103.636649 745.605236 
C 104.465969 745.228272 105.257592 745.077487 105.898429 744.700524 
C 106.539267 744.32356 107.165026 743.833508 107.481675 743.343455 
C 107.798325 742.853403 107.873717 742.287958 107.798325 741.760209 
C 107.722932 741.232461 107.308272 740.704712 107.029319 740.176963 
C 106.750366 739.649215 106.313089 739.159162 106.124607 738.593717 
C 105.936126 738.028272 105.78534 737.349738 105.898429 736.784293 
C 106.011518 736.218848 106.426178 735.804188 106.803141 735.201047 
C 107.180105 734.597906 107.707853 733.843979 108.160209 733.165445 
C 108.612565 732.486911 108.914136 731.770681 109.517277 731.129843 
C 110.120419 730.489005 110.949738 729.735079 111.779058 729.320419 
C 112.608377 728.905759 113.663874 728.905759 114.493194 728.641885 
C 115.322513 728.37801 116.07644 727.925654 116.754974 727.737173 
C 117.433508 727.548691 117.885864 727.473298 118.564398 727.510995 
z
" clip-path="url(#p5c9a5f6ab5)" style="fill: #cccccc; stroke: #000000; stroke-width: 0.8"/>
</g>
<g id="patch_82">
<path d="M 113.588482 745.740942 
C 114.493194 745.552461 115.624084 745.477068 116.754974 745.379058 
C 117.885864 745.281047 119.318325 745.318743 120.373822 745.15288 
C 121.429319 744.987016 122.296335 744.647749 123.087958 744.383874 
C 123.879581 744.12 124.708901 743.856126 125.12356 743.569634 
C 125.53822 743.283141 125.500524 743.154974 125.575916 742.664921 
C 125.651309 742.174869 125.462827 741.043979 125.575916 740.629319 
C 125.689005 740.21466 125.915183 740.21466 126.25445 740.176963 
C 126.593717 740.139267 127.325026 740.139267 127.611518 740.403141 
C 127.89801 740.667016 127.860314 741.270157 127.973403 741.760209 
C 128.086492 742.250262 127.89801 742.853403 128.290052 743.343455 
C 128.682094 743.833508 129.534031 744.285864 130.325654 744.700524 
C 131.117277 745.115183 132.135079 745.45445 133.039791 745.831414 
C 133.944503 746.208377 134.849215 746.509948 135.753927 746.962304 
C 136.658639 747.41466 137.638743 747.980105 138.468063 748.54555 
C 139.297382 749.110995 140.126702 749.67644 140.729843 750.354974 
C 141.332984 751.033508 141.709948 751.787435 142.086911 752.616754 
C 142.463874 753.446073 142.690052 754.388482 142.991623 755.33089 
C 143.293194 756.273298 143.707853 757.404188 143.896335 758.271204 
C 144.084817 759.13822 144.235602 759.816754 144.122513 760.532984 
C 144.009424 761.249215 143.783246 761.890052 143.217801 762.568586 
C 142.652356 763.24712 141.672251 763.963351 140.729843 764.604188 
C 139.787435 765.245026 138.618848 765.885864 137.563351 766.413613 
C 136.507853 766.941361 135.452356 767.356021 134.396859 767.770681 
C 133.341361 768.18534 132.285864 768.486911 131.230366 768.901571 
C 130.174869 769.31623 129.043979 769.768586 128.063874 770.258639 
C 127.08377 770.748691 126.25445 771.351832 125.349738 771.841885 
C 124.445026 772.331937 123.540314 772.82199 122.635602 773.198953 
C 121.73089 773.575916 120.901571 774.005654 119.921466 774.103665 
C 118.941361 774.201675 117.885864 773.915183 116.754974 773.787016 
C 115.624084 773.658848 114.11623 773.583455 113.136126 773.33466 
C 112.156021 773.085864 111.703665 772.731518 110.874346 772.294241 
C 110.045026 771.856963 109.215707 771.238743 108.160209 770.710995 
C 107.104712 770.183246 105.672251 769.655497 104.541361 769.127749 
C 103.410471 768.6 102.354974 768.109948 101.374869 767.544503 
C 100.394764 766.979058 99.452356 766.375916 98.660733 765.735079 
C 97.86911 765.094241 97.077487 764.453403 96.625131 763.699476 
C 96.172775 762.94555 95.946597 762.003141 95.946597 761.211518 
C 95.946597 760.419895 96.248168 759.779058 96.625131 758.949738 
C 97.002094 758.120419 97.642932 757.140314 98.208377 756.235602 
C 98.773822 755.33089 99.41466 754.350785 100.017801 753.521466 
C 100.620942 752.692147 101.073298 751.93822 101.827225 751.259686 
C 102.581152 750.581152 103.485864 750.015707 104.541361 749.450262 
C 105.596859 748.884817 107.029319 748.357068 108.160209 747.867016 
C 109.291099 747.376963 110.42199 746.864293 111.326702 746.509948 
C 112.231414 746.155602 112.68377 745.929424 113.588482 745.740942 
z
" clip-path="url(#p5c9a5f6ab5)" style="fill: #999999; stroke: #000000; stroke-width: 0.8"/>
</g>
<g id="patch_83">
<path d="M 121.73089 749.812147 
C 122.635602 749.857382 123.540314 749.970471 124.445026 750.174031 
C 125.349738 750.377592 126.329843 750.70178 127.159162 751.033508 
C 127.988482 751.365236 128.742408 751.712042 129.420942 752.164398 
C 130.099476 752.616754 130.627225 753.144503 131.230366 753.747644 
C 131.833508 754.350785 132.436649 755.142408 133.039791 755.783246 
C 133.642932 756.424084 134.359162 757.027225 134.849215 757.59267 
C 135.339267 758.158115 135.753927 758.648168 135.980105 759.175916 
C 136.206283 759.703665 136.394764 760.231414 136.206283 760.759162 
C 136.017801 761.286911 135.527749 761.852356 134.849215 762.342408 
C 134.170681 762.832461 133.115183 763.24712 132.135079 763.699476 
C 131.154974 764.151832 130.024084 764.626806 128.968586 765.056545 
C 127.913089 765.486283 126.857592 765.953717 125.802094 766.277906 
C 124.746597 766.602094 123.766492 766.85089 122.635602 767.001675 
C 121.504712 767.152461 120.223037 767.167539 119.016754 767.182618 
C 117.810471 767.197696 116.604188 767.167539 115.397906 767.092147 
C 114.191623 767.016754 112.909948 766.918743 111.779058 766.730262 
C 110.648168 766.54178 109.59267 766.353298 108.612565 765.961257 
C 107.632461 765.569215 106.592042 764.943455 105.898429 764.37801 
C 105.204817 763.812565 104.737382 763.171728 104.45089 762.568586 
C 104.164398 761.965445 104.013613 761.362304 104.179476 760.759162 
C 104.34534 760.156021 104.933403 759.477487 105.446073 758.949738 
C 105.958743 758.42199 106.576963 758.120419 107.255497 757.59267 
C 107.934031 757.064921 108.914136 756.386387 109.517277 755.783246 
C 110.120419 755.180105 110.42199 754.576963 110.874346 753.973822 
C 111.326702 753.370681 111.703665 752.692147 112.231414 752.164398 
C 112.759162 751.636649 113.362304 751.146597 114.040838 750.80733 
C 114.719372 750.468063 115.473298 750.279581 116.302618 750.128796 
C 117.131937 749.97801 118.112042 749.955393 119.016754 749.902618 
C 119.921466 749.849843 120.826178 749.766911 121.73089 749.812147 
z
" clip-path="url(#p5c9a5f6ab5)" style="fill: #666666; stroke: #000000; stroke-width: 0.8"/>
</g>
<g id="patch_84">
<path d="M 118.112042 757.049843 
C 119.016754 756.989529 119.846073 757.200628 120.826178 757.230785 
C 121.806283 757.260942 123.087958 757.132775 123.99267 757.230785 
C 124.897382 757.328796 125.575916 757.547435 126.25445 757.818848 
C 126.932984 758.090262 127.686911 758.444607 128.063874 758.859267 
C 128.440838 759.273927 128.629319 759.801675 128.51623 760.306806 
C 128.403141 760.811937 127.988482 761.4 127.38534 761.890052 
C 126.782199 762.380105 125.839791 762.907853 124.897382 763.24712 
C 123.954974 763.586387 122.86178 763.797487 121.73089 763.925654 
C 120.6 764.053822 119.167539 764.053822 118.112042 764.016126 
C 117.056545 763.978429 116.227225 763.903037 115.397906 763.699476 
C 114.568586 763.495916 113.678953 763.134031 113.136126 762.794764 
C 112.593298 762.455497 112.306806 762.078534 112.140942 761.663874 
C 111.975079 761.249215 111.899686 760.796859 112.140942 760.306806 
C 112.382199 759.816754 113.045654 759.175916 113.588482 758.72356 
C 114.131309 758.271204 114.643979 757.871623 115.397906 757.59267 
C 116.151832 757.313717 117.20733 757.110157 118.112042 757.049843 
z
" clip-path="url(#p5c9a5f6ab5)" style="stroke: #000000; stroke-width: 0.8"/>
</g>
<g id="matplotlib.axis_21">
<g id="xtick_46">
<g id="line2d_85">
<g>
<use href="#me9cd61fec0" x="96.48" y="836.1" style="stroke: #000000; stroke-width: 0.8"/>
</g>
</g>
</g>
<g id="xtick_47">
<g id="line2d_86">
<g>
<use href="#me9cd61fec0" x="132.48" y="836.1" style="stroke: #000000; stroke-width: 0.8"/>
</g>
</g>
</g>
<g id="xtick_48">
<g id="line2d_87">
<g>
<use href="#me9cd61fec0" x="168.48" y="836.1" style="stroke: #000000; stroke-width: 0.8"/>
</g>
</g>
</g>
<g id="xtick_49">
<g id="line2d_88">
<g>
<use href="#me9cd61fec0" x="204.12" y="836.1" style="stroke: #000000; stroke-width: 0.8"/>
</g>
</g>
</g>
</g>
<g id="matplotlib.axis_22">
<g id="ytick_28">
<g id="line2d_89">
<g>
<use href="#m2ecc1fbad5" x="64.62" y="807.48" style="stroke: #000000; stroke-width: 0.8"/>
</g>
</g>
<g id="text_22">
<g transform="translate(31.6926 834.1241) rotate(-45) scale(0.15 -0.15)">
<use href="#DejaVuSans-39"/>
<use href="#DejaVuSans-2e" transform="translate(62.4142 0)"/>
<use href="#DejaVuSans-36" transform="translate(93.5974 0)"/>
<use href="#DejaVuSans-30" transform="translate(156.0116 0)"/>
</g>
</g>
</g>
<g id="ytick_29">
<g id="line2d_90">
<g>
<use href="#m2ecc1fbad5" x="64.62" y="772.92" style="stroke: #000000; stroke-width: 0.8"/>
</g>
</g>
<g id="text_23">
<g transform="translate(31.6926 799.5641) rotate(-45) scale(0.15 -0.15)">
<use href="#DejaVuSans-39"/>
<use href="#DejaVuSans-2e" transform="translate(62.4142 0)"/>
<use href="#DejaVuSans-37" transform="translate(93.5974 0)"/>
<use href="#DejaVuSans-35" transform="translate(156.0116 0)"/>
</g>
</g>
</g>
<g id="ytick_30">
<g id="line2d_91">
<g>
<use href="#m2ecc1fbad5" x="64.62" y="738.36" style="stroke: #000000; stroke-width: 0.8"/>
</g>
</g>
<g id="text_24">
<g transform="translate(31.6926 765.0041) rotate(-45) scale(0.15 -0.15)">
<use href="#DejaVuSans-39"/>
<use href="#DejaVuSans-2e" transform="translate(62.4142 0)"/>
<use href="#DejaVuSans-39" transform="translate(93.5974 0)"/>
<use href="#DejaVuSans-30" transform="translate(156.0116 0)"/>
</g>
</g>
</g>
<g id="ytick_31">
<g id="line2d_92">
<g>
<use href="#m2ecc1fbad5" x="64.62" y="703.8" style="stroke: #000000; stroke-width: 0.8"/>
</g>
</g>
<g id="text_25">
<g transform="translate(25.0724 737.0643) rotate(-45) scale(0.15 -0.15)">
<use href="#DejaVuSans-31"/>
<use href="#DejaVuSans-30" transform="translate(62.4142 0)"/>
<use href="#DejaVuSans-2e" transform="translate(124.8284 0)"/>
<use href="#DejaVuSans-30" transform="translate(156.0116 0)"/>
<use href="#DejaVuSans-35" transform="translate(218.4258 0)"/>
</g>
</g>
</g>
<g id="text_26">
<g transform="translate(14.814 767.22) rotate(-90) scale(0.15 -0.15)">
<defs>
<path id="DejaVuSans-Oblique-3bc" d="M -84 -1331 
L 856 3500 
L 1434 3500 
L 1009 1322 
Q 997 1256 987 1175 
Q 978 1094 978 1013 
Q 978 722 1161 565 
Q 1344 409 1684 409 
Q 2147 409 2431 671 
Q 2716 934 2816 1459 
L 3213 3500 
L 3788 3500 
L 3266 809 
Q 3253 750 3248 706 
Q 3244 663 3244 628 
Q 3244 531 3283 486 
Q 3322 441 3406 441 
Q 3438 441 3492 456 
Q 3547 472 3647 513 
L 3559 50 
Q 3422 -19 3297 -55 
Q 3172 -91 3053 -91 
Q 2847 -91 2730 40 
Q 2613 172 2613 403 
Q 2438 153 2195 31 
Q 1953 -91 1625 -91 
Q 1334 -91 1117 43 
Q 900 178 831 397 
L 494 -1331 
L -84 -1331 
z
" transform="scale(0.015625)"/>
<path id="DejaVuSans-Oblique-43" d="M 4447 4306 
L 4319 3641 
Q 4019 3944 3683 4091 
Q 3347 4238 2956 4238 
Q 2422 4238 2017 3981 
Q 1613 3725 1319 3200 
Q 1131 2863 1032 2486 
Q 934 2109 934 1728 
Q 934 1091 1264 756 
Q 1594 422 2222 422 
Q 2656 422 3056 561 
Q 3456 700 3834 978 
L 3688 231 
Q 3316 72 2936 -9 
Q 2556 -91 2175 -91 
Q 1278 -91 773 396 
Q 269 884 269 1753 
Q 269 2309 461 2846 
Q 653 3384 1013 3828 
Q 1394 4300 1883 4525 
Q 2372 4750 3022 4750 
Q 3422 4750 3780 4639 
Q 4138 4528 4447 4306 
z
" transform="scale(0.015625)"/>
</defs>
<use href="#DejaVuSans-Oblique-3bc" transform="translate(0 0.3125)"/>
<use href="#DejaVuSans-Oblique-43" transform="translate(63.623047 -14.453125) scale(0.7)"/>
</g>
</g>
</g>
<g id="patch_85">
<path d="M 64.62 836.1 
L 64.62 680.94 
" style="fill: none; stroke: #000000; stroke-width: 0.5; stroke-linejoin: miter; stroke-linecap: square"/>
</g>
<g id="patch_86">
<path d="M 220.14 836.1 
L 220.14 680.94 
" style="fill: none; stroke: #000000; stroke-width: 0.5; stroke-linejoin: miter; stroke-linecap: square"/>
</g>
<g id="patch_87">
<path d="M 64.62 836.1 
L 220.14 836.1 
" style="fill: none; stroke: #000000; stroke-width: 0.5; stroke-linejoin: miter; stroke-linecap: square"/>
</g>
<g id="patch_88">
<path d="M 64.62 680.94 
L 220.14 680.94 
" style="fill: none; stroke: #000000; stroke-width: 0.5; stroke-linejoin: miter; stroke-linecap: square"/>
</g>
</g>
<g id="axes_12">
<g id="patch_89">
<path d="M 228.06 836.1 
L 383.22 836.1 
L 383.22 680.94 
L 228.06 680.94 
z
" style="fill: #ffffff"/>
</g>
<g id="patch_90">
<path d="M 306.273298 727.510995 
C 307.102618 727.586387 307.705759 727.699476 308.535079 728.189529 
C 309.364398 728.679581 310.419895 729.697382 311.249215 730.451309 
C 312.078534 731.205236 312.870157 731.959162 313.510995 732.713089 
C 314.151832 733.467016 314.566492 734.371728 315.094241 734.974869 
C 315.62199 735.57801 316.036649 735.99267 316.677487 736.331937 
C 317.318325 736.671204 318.109948 736.92 318.939267 737.010471 
C 319.768586 737.100942 320.899476 736.799372 321.653403 736.874764 
C 322.40733 736.950157 323.12356 737.100942 323.462827 737.462827 
C 323.802094 737.824712 323.915183 738.518325 323.689005 739.046073 
C 323.462827 739.573822 322.671204 740.101571 322.105759 740.629319 
C 321.540314 741.157068 320.65822 741.684817 320.296335 742.212565 
C 319.93445 742.740314 319.783665 743.230366 319.93445 743.795812 
C 320.085236 744.361257 320.612984 745.039791 321.201047 745.605236 
C 321.78911 746.170681 322.708901 746.660733 323.462827 747.188482 
C 324.216754 747.71623 324.970681 748.206283 325.724607 748.771728 
C 326.478534 749.337173 327.157068 750.015707 327.986387 750.581152 
C 328.815707 751.146597 329.946597 751.52356 330.700524 752.164398 
C 331.45445 752.805236 332.019895 753.596859 332.509948 754.426178 
C 333 755.255497 333.376963 756.348691 333.640838 757.140314 
C 333.904712 757.931937 334.168586 758.459686 334.093194 759.175916 
C 334.017801 759.892147 333.753927 760.646073 333.188482 761.437696 
C 332.623037 762.229319 331.642932 763.171728 330.700524 763.925654 
C 329.758115 764.679581 328.589529 765.358115 327.534031 765.961257 
C 326.478534 766.564398 325.423037 767.167539 324.367539 767.544503 
C 323.312042 767.921466 322.256545 767.921466 321.201047 768.223037 
C 320.14555 768.524607 319.090052 768.863874 318.034555 769.353927 
C 316.979058 769.843979 315.848168 770.597906 314.868063 771.163351 
C 313.887958 771.728796 312.983246 772.218848 312.153927 772.746597 
C 311.324607 773.274346 310.532984 773.726702 309.892147 774.329843 
C 309.251309 774.932984 308.912042 775.875393 308.308901 776.365445 
C 307.705759 776.855497 307.064921 777.157068 306.273298 777.270157 
C 305.481675 777.383246 304.463874 777.119372 303.559162 777.043979 
C 302.65445 776.968586 301.749738 776.757487 300.845026 776.817801 
C 299.940314 776.878115 299.110995 777.066597 298.13089 777.405864 
C 297.150785 777.745131 296.019895 778.423665 294.964398 778.853403 
C 293.908901 779.283141 292.853403 779.645026 291.797906 779.984293 
C 290.742408 780.32356 289.611518 780.700524 288.631414 780.889005 
C 287.651309 781.077487 286.82199 781.15288 285.917277 781.115183 
C 285.012565 781.077487 284.258639 780.889005 283.203141 780.662827 
C 282.147644 780.436649 280.790576 779.923979 279.584293 779.758115 
C 278.37801 779.592251 277.096335 779.70534 275.965445 779.667644 
C 274.834555 779.629948 273.779058 779.70534 272.798953 779.531937 
C 271.818848 779.358534 270.838743 779.041885 270.084817 778.627225 
C 269.33089 778.212565 268.727749 777.684817 268.275393 777.043979 
C 267.823037 776.403141 267.536545 775.611518 267.370681 774.782199 
C 267.204817 773.95288 267.430995 772.897382 267.280209 772.068063 
C 267.129424 771.238743 266.903246 770.597906 266.465969 769.806283 
C 266.028691 769.01466 265.297382 768.147644 264.656545 767.318325 
C 264.015707 766.489005 263.186387 765.697382 262.620942 764.830366 
C 262.055497 763.963351 261.452356 763.020942 261.263874 762.11623 
C 261.075393 761.211518 261.188482 760.231414 261.490052 759.402094 
C 261.791623 758.572775 262.470157 757.894241 263.073298 757.140314 
C 263.67644 756.386387 264.39267 755.707853 265.108901 754.878534 
C 265.825131 754.049215 266.616754 752.993717 267.370681 752.164398 
C 268.124607 751.335079 268.727749 750.618848 269.632461 749.902618 
C 270.537173 749.186387 271.743455 748.583246 272.798953 747.867016 
C 273.85445 747.150785 275.136126 746.359162 275.965445 745.605236 
C 276.794764 744.851309 277.284817 744.135079 277.774869 743.343455 
C 278.264921 742.551832 278.453403 741.609424 278.905759 740.855497 
C 279.358115 740.101571 279.772775 739.38534 280.489005 738.819895 
C 281.205236 738.25445 282.373822 737.95288 283.203141 737.462827 
C 284.032461 736.972775 284.748691 736.595812 285.464921 735.879581 
C 286.181152 735.163351 286.746597 733.843979 287.500524 733.165445 
C 288.25445 732.486911 289.046073 732.223037 289.988482 731.808377 
C 290.93089 731.393717 292.099476 731.05445 293.154974 730.677487 
C 294.210471 730.300524 295.190576 729.885864 296.321466 729.546597 
C 297.452356 729.20733 298.734031 728.943455 299.940314 728.641885 
C 301.146597 728.340314 302.503665 727.925654 303.559162 727.737173 
C 304.61466 727.548691 305.443979 727.435602 306.273298 727.510995 
z
" clip-path="url(#p75d287ee4d)" style="fill: #cccccc; stroke: #000000; stroke-width: 0.8"/>
</g>
<g id="patch_91">
<path d="M 295.416754 739.950785 
C 295.944503 740.026178 296.623037 740.41822 297.226178 740.855497 
C 297.829319 741.292775 298.507853 742.107016 299.035602 742.57445 
C 299.563351 743.041885 299.714136 743.343455 300.39267 743.660105 
C 301.071204 743.976754 302.202094 744.248168 303.106806 744.474346 
C 304.011518 744.700524 304.91623 744.806073 305.820942 745.017173 
C 306.725654 745.228272 307.630366 745.45445 308.535079 745.740942 
C 309.439791 746.027435 310.26911 746.38178 311.249215 746.736126 
C 312.229319 747.090471 313.435602 747.41466 314.415707 747.867016 
C 315.395812 748.319372 316.375916 748.884817 317.129843 749.450262 
C 317.88377 750.015707 318.486911 750.581152 318.939267 751.259686 
C 319.391623 751.93822 319.63288 752.767539 319.843979 753.521466 
C 320.055079 754.275393 319.94199 755.104712 320.205864 755.783246 
C 320.469738 756.46178 320.997487 757.027225 321.427225 757.59267 
C 321.856963 758.158115 322.482723 758.648168 322.784293 759.175916 
C 323.085864 759.703665 323.349738 760.231414 323.236649 760.759162 
C 323.12356 761.286911 322.746597 761.81466 322.105759 762.342408 
C 321.464921 762.870157 320.371728 763.360209 319.391623 763.925654 
C 318.411518 764.491099 317.280628 765.169634 316.225131 765.735079 
C 315.169634 766.300524 314.114136 766.881047 313.058639 767.318325 
C 312.003141 767.755602 311.098429 768.057173 309.892147 768.358743 
C 308.685864 768.660314 307.17801 768.826178 305.820942 769.127749 
C 304.463874 769.429319 302.956021 769.828901 301.749738 770.168168 
C 300.543455 770.507435 299.563351 770.771309 298.583246 771.163351 
C 297.603141 771.555393 296.773822 772.068063 295.86911 772.520419 
C 294.964398 772.972775 294.059686 773.53822 293.154974 773.877487 
C 292.250262 774.216754 291.34555 774.329843 290.440838 774.556021 
C 289.536126 774.782199 288.556021 775.159162 287.726702 775.234555 
C 286.897382 775.309948 286.294241 775.234555 285.464921 775.008377 
C 284.635602 774.782199 283.73089 774.141361 282.750785 773.877487 
C 281.770681 773.613613 280.639791 773.613613 279.584293 773.425131 
C 278.528796 773.236649 277.322513 773.12356 276.417801 772.746597 
C 275.513089 772.369634 274.909948 771.841885 274.156021 771.163351 
C 273.402094 770.484817 272.648168 769.504712 271.894241 768.675393 
C 271.140314 767.846073 270.386387 767.05445 269.632461 766.187435 
C 268.878534 765.320419 267.860733 764.264921 267.370681 763.473298 
C 266.880628 762.681675 266.692147 762.11623 266.692147 761.437696 
C 266.692147 760.759162 266.880628 760.156021 267.370681 759.402094 
C 267.860733 758.648168 268.727749 757.818848 269.632461 756.914136 
C 270.537173 756.009424 271.894241 754.91623 272.798953 753.973822 
C 273.703665 753.031414 274.231414 752.126702 275.060733 751.259686 
C 275.890052 750.39267 276.794764 749.487958 277.774869 748.771728 
C 278.754974 748.055497 279.885864 747.41466 280.941361 746.962304 
C 281.996859 746.509948 283.052356 746.261152 284.107853 746.057592 
C 285.163351 745.854031 286.218848 745.929424 287.274346 745.740942 
C 288.329843 745.552461 289.536126 745.326283 290.440838 744.926702 
C 291.34555 744.52712 292.174869 743.946597 292.702618 743.343455 
C 293.230366 742.740314 293.381152 741.797906 293.60733 741.307853 
C 293.833508 740.817801 293.758115 740.629319 294.059686 740.403141 
C 294.361257 740.176963 294.889005 739.875393 295.416754 739.950785 
z
" clip-path="url(#p75d287ee4d)" style="fill: #999999; stroke: #000000; stroke-width: 0.8"/>
</g>
<g id="patch_92">
<path d="M 301.297382 749.812147 
C 302.35288 749.789529 303.106806 749.864921 304.011518 749.993089 
C 304.91623 750.121257 305.934031 750.29466 306.725654 750.581152 
C 307.517277 750.867644 308.233508 751.259686 308.761257 751.712042 
C 309.289005 752.164398 309.718743 752.65445 309.892147 753.295288 
C 310.06555 753.936126 309.892147 754.765445 309.801675 755.557068 
C 309.711204 756.348691 309.394555 757.291099 309.349319 758.045026 
C 309.304084 758.798953 309.628272 759.439791 309.530262 760.080628 
C 309.432251 760.721466 309.304084 761.324607 308.761257 761.890052 
C 308.218429 762.455497 307.215707 762.998325 306.273298 763.473298 
C 305.33089 763.948272 304.162304 764.325236 303.106806 764.739895 
C 302.051309 765.154555 300.995812 765.606911 299.940314 765.961257 
C 298.884817 766.315602 297.904712 766.639791 296.773822 766.865969 
C 295.642932 767.092147 294.361257 767.26555 293.154974 767.318325 
C 291.948691 767.371099 290.742408 767.280628 289.536126 767.182618 
C 288.329843 767.084607 287.048168 766.881047 285.917277 766.730262 
C 284.786387 766.579476 283.806283 766.481466 282.750785 766.277906 
C 281.695288 766.074346 280.564398 765.938639 279.584293 765.508901 
C 278.604188 765.079162 277.510995 764.340314 276.870157 763.699476 
C 276.229319 763.058639 275.890052 762.304712 275.739267 761.663874 
C 275.588482 761.023037 275.626178 760.457592 275.965445 759.85445 
C 276.304712 759.251309 277.020942 758.648168 277.774869 758.045026 
C 278.528796 757.441885 279.659686 756.838743 280.489005 756.235602 
C 281.318325 755.632461 281.996859 755.067016 282.750785 754.426178 
C 283.504712 753.78534 284.183246 752.918325 285.012565 752.390576 
C 285.841885 751.862827 286.746597 751.538639 287.726702 751.259686 
C 288.706806 750.980733 289.762304 750.867644 290.893194 750.716859 
C 292.024084 750.566073 293.381152 750.452984 294.512042 750.354974 
C 295.642932 750.256963 296.547644 750.219267 297.678534 750.128796 
C 298.809424 750.038325 300.241885 749.834764 301.297382 749.812147 
z
" clip-path="url(#p75d287ee4d)" style="fill: #666666; stroke: #000000; stroke-width: 0.8"/>
</g>
<g id="patch_93">
<path d="M 293.60733 756.46178 
C 294.512042 756.46178 295.416754 756.589948 296.321466 756.778429 
C 297.226178 756.966911 298.243979 757.245864 299.035602 757.59267 
C 299.827225 757.939476 300.656545 758.406911 301.071204 758.859267 
C 301.485864 759.311623 301.636649 759.801675 301.52356 760.306806 
C 301.410471 760.811937 300.958115 761.437696 300.39267 761.890052 
C 299.827225 762.342408 299.035602 762.719372 298.13089 763.020942 
C 297.226178 763.322513 296.019895 763.548691 294.964398 763.699476 
C 293.908901 763.850262 292.853403 763.887958 291.797906 763.925654 
C 290.742408 763.963351 289.611518 764.07644 288.631414 763.925654 
C 287.651309 763.774869 286.671204 763.360209 285.917277 763.020942 
C 285.163351 762.681675 284.44712 762.304712 284.107853 761.890052 
C 283.768586 761.475393 283.655497 761.023037 283.881675 760.532984 
C 284.107853 760.042932 284.748691 759.439791 285.464921 758.949738 
C 286.181152 758.459686 287.274346 757.954555 288.179058 757.59267 
C 289.08377 757.230785 289.988482 756.966911 290.893194 756.778429 
C 291.797906 756.589948 292.702618 756.46178 293.60733 756.46178 
z
" clip-path="url(#p75d287ee4d)" style="stroke: #000000; stroke-width: 0.8"/>
</g>
<g id="matplotlib.axis_23">
<g id="xtick_50">
<g id="line2d_93">
<g>
<use href="#me9cd61fec0" x="243.36" y="836.1" style="stroke: #000000; stroke-width: 0.8"/>
</g>
</g>
</g>
<g id="xtick_51">
<g id="line2d_94">
<g>
<use href="#me9cd61fec0" x="278.28" y="836.1" style="stroke: #000000; stroke-width: 0.8"/>
</g>
</g>
</g>
<g id="xtick_52">
<g id="line2d_95">
<g>
<use href="#me9cd61fec0" x="312.84" y="836.1" style="stroke: #000000; stroke-width: 0.8"/>
</g>
</g>
</g>
<g id="xtick_53">
<g id="line2d_96">
<g>
<use href="#me9cd61fec0" x="347.76" y="836.1" style="stroke: #000000; stroke-width: 0.8"/>
</g>
</g>
</g>
<g id="xtick_54">
<g id="line2d_97">
<g>
<use href="#me9cd61fec0" x="382.68" y="836.1" style="stroke: #000000; stroke-width: 0.8"/>
</g>
</g>
</g>
</g>
<g id="matplotlib.axis_24">
<g id="ytick_32">
<g id="line2d_98">
<g>
<use href="#m2ecc1fbad5" x="228.06" y="807.48" style="stroke: #000000; stroke-width: 0.8"/>
</g>
</g>
</g>
<g id="ytick_33">
<g id="line2d_99">
<g>
<use href="#m2ecc1fbad5" x="228.06" y="772.92" style="stroke: #000000; stroke-width: 0.8"/>
</g>
</g>
</g>
<g id="ytick_34">
<g id="line2d_100">
<g>
<use href="#m2ecc1fbad5" x="228.06" y="738.36" style="stroke: #000000; stroke-width: 0.8"/>
</g>
</g>
</g>
<g id="ytick_35">
<g id="line2d_101">
<g>
<use href="#m2ecc1fbad5" x="228.06" y="703.8" style="stroke: #000000; stroke-width: 0.8"/>
</g>
</g>
</g>
</g>
<g id="patch_94">
<path d="M 228.06 836.1 
L 228.06 680.94 
" style="fill: none; stroke: #000000; stroke-width: 0.5; stroke-linejoin: miter; stroke-linecap: square"/>
</g>
<g id="patch_95">
<path d="M 383.22 836.1 
L 383.22 680.94 
" style="fill: none; stroke: #000000; stroke-width: 0.5; stroke-linejoin: miter; stroke-linecap: square"/>
</g>
<g id="patch_96">
<path d="M 228.06 836.1 
L 383.22 836.1 
" style="fill: none; stroke: #000000; stroke-width: 0.5; stroke-linejoin: miter; stroke-linecap: square"/>
</g>
<g id="patch_97">
<path d="M 228.06 680.94 
L 383.22 680.94 
" style="fill: none; stroke: #000000; stroke-width: 0.5; stroke-linejoin: miter; stroke-linecap: square"/>
</g>
</g>
<g id="axes_13">
<g id="patch_98">
<path d="M 391.14 836.1 
L 546.66 836.1 
L 546.66 680.94 
L 391.14 680.94 
z
" style="fill: #ffffff"/>
</g>
<g id="patch_99">
<path d="M 442.517277 728.551414 
C 443.42199 728.460942 444.55288 728.822827 445.68377 729.00377 
C 446.81466 729.184712 448.171728 729.433508 449.302618 729.637068 
C 450.433508 729.840628 451.489005 730.036649 452.46911 730.225131 
C 453.449215 730.413613 454.278534 730.669948 455.183246 730.767958 
C 456.087958 730.865969 457.143455 730.677487 457.897382 730.813194 
C 458.651309 730.948901 459.103665 731.077068 459.706806 731.582199 
C 460.309948 732.08733 460.950785 733.052356 461.51623 733.843979 
C 462.081675 734.635602 462.684817 735.502618 463.099476 736.331937 
C 463.514136 737.161257 463.830785 738.065969 464.004188 738.819895 
C 464.177592 739.573822 464.064503 740.290052 464.139895 740.855497 
C 464.215288 741.420942 463.913717 741.971309 464.456545 742.212565 
C 464.999372 742.453822 466.529843 742.114555 467.396859 742.303037 
C 468.263874 742.491518 468.904712 742.906178 469.658639 743.343455 
C 470.412565 743.780733 471.166492 744.398953 471.920419 744.926702 
C 472.674346 745.45445 473.35288 746.019895 474.182199 746.509948 
C 475.011518 747 475.991623 747.41466 476.896335 747.867016 
C 477.801047 748.319372 478.781152 748.734031 479.610471 749.224084 
C 480.439791 749.714136 481.26911 750.166492 481.872251 750.80733 
C 482.475393 751.448168 482.852356 752.277487 483.229319 753.06911 
C 483.606283 753.860733 483.757068 754.803141 484.134031 755.557068 
C 484.510995 756.310995 484.963351 756.951832 485.491099 757.59267 
C 486.018848 758.233508 486.787853 758.798953 487.300524 759.402094 
C 487.813194 760.005236 488.378639 760.608377 488.56712 761.211518 
C 488.755602 761.81466 488.717906 762.455497 488.431414 763.020942 
C 488.144921 763.586387 487.564398 764.07644 486.848168 764.604188 
C 486.131937 765.131937 485.038743 765.62199 484.134031 766.187435 
C 483.229319 766.75288 482.324607 767.393717 481.419895 767.996859 
C 480.515183 768.6 479.459686 769.127749 478.705759 769.806283 
C 477.951832 770.484817 477.386387 771.238743 476.896335 772.068063 
C 476.406283 772.897382 476.217801 774.103665 475.765445 774.782199 
C 475.313089 775.460733 474.898429 775.875393 474.182199 776.139267 
C 473.465969 776.403141 472.297382 776.229738 471.468063 776.365445 
C 470.638743 776.501152 469.960209 776.629319 469.206283 776.953508 
C 468.452356 777.277696 467.773822 777.843141 466.944503 778.310576 
C 466.115183 778.77801 465.210471 779.366073 464.230366 779.758115 
C 463.250262 780.150157 462.194764 780.451728 461.063874 780.662827 
C 459.932984 780.873927 458.651309 781.039791 457.445026 781.024712 
C 456.238743 781.009634 455.032461 780.723141 453.826178 780.572356 
C 452.619895 780.421571 451.489005 780.255707 450.20733 780.12 
C 448.925654 779.984293 447.417801 779.931518 446.136126 779.758115 
C 444.85445 779.584712 443.572775 779.418848 442.517277 779.079581 
C 441.46178 778.740314 440.632461 778.287958 439.803141 777.722513 
C 438.973822 777.157068 438.370681 776.440838 437.541361 775.686911 
C 436.712042 774.932984 435.731937 774.028272 434.827225 773.198953 
C 433.922513 772.369634 432.942408 771.314136 432.113089 770.710995 
C 431.28377 770.107853 430.680628 769.843979 429.851309 769.580105 
C 429.02199 769.31623 428.117277 769.391623 427.137173 769.127749 
C 426.157068 768.863874 425.026178 768.486911 423.970681 767.996859 
C 422.915183 767.506806 421.746597 766.865969 420.804188 766.187435 
C 419.86178 765.508901 418.919372 764.754974 418.31623 763.925654 
C 417.713089 763.096335 417.298429 762.11623 417.18534 761.211518 
C 417.072251 760.306806 417.336126 759.477487 417.637696 758.497382 
C 417.939267 757.517277 418.542408 756.46178 418.994764 755.33089 
C 419.44712 754.2 419.824084 752.767539 420.351832 751.712042 
C 420.879581 750.656545 421.482723 749.864921 422.161257 748.997906 
C 422.839791 748.13089 423.66911 747.301571 424.423037 746.509948 
C 425.176963 745.718325 425.93089 744.964398 426.684817 744.248168 
C 427.438743 743.531937 428.40377 742.853403 428.946597 742.212565 
C 429.489424 741.571728 429.775916 741.081675 429.94178 740.403141 
C 430.107644 739.724607 429.919162 738.895288 429.94178 738.141361 
C 429.964398 737.387435 429.790995 736.520419 430.077487 735.879581 
C 430.363979 735.238743 430.944503 734.710995 431.660733 734.296335 
C 432.376963 733.881675 433.470157 733.655497 434.374869 733.391623 
C 435.279581 733.127749 436.335079 733.052356 437.089005 732.713089 
C 437.842932 732.373822 438.370681 731.88377 438.898429 731.356021 
C 439.426178 730.828272 439.652356 730.014031 440.255497 729.546597 
C 440.858639 729.079162 441.612565 728.641885 442.517277 728.551414 
z
" clip-path="url(#p4d2a3ec731)" style="fill: #cccccc; stroke: #000000; stroke-width: 0.8"/>
</g>
<g id="patch_100">
<path d="M 450.659686 738.955602 
C 451.187435 739.144084 452.001675 739.784921 452.242932 740.403141 
C 452.484188 741.021361 451.994136 741.986387 452.107225 742.664921 
C 452.220314 743.343455 452.408796 743.961675 452.921466 744.474346 
C 453.434136 744.987016 454.353927 745.363979 455.183246 745.740942 
C 456.012565 746.117906 456.917277 746.434555 457.897382 746.736126 
C 458.877487 747.037696 460.008377 747.324188 461.063874 747.550366 
C 462.119372 747.776545 463.174869 747.92733 464.230366 748.093194 
C 465.285864 748.259058 466.416754 748.357068 467.396859 748.54555 
C 468.376963 748.734031 469.206283 748.884817 470.110995 749.224084 
C 471.015707 749.563351 472.033508 750.015707 472.825131 750.581152 
C 473.616754 751.146597 474.370681 751.862827 474.860733 752.616754 
C 475.350785 753.370681 475.463874 754.275393 475.765445 755.104712 
C 476.067016 755.934031 476.33089 756.801047 476.670157 757.59267 
C 477.009424 758.384293 477.612565 759.213613 477.801047 759.85445 
C 477.989529 760.495288 478.102618 760.872251 477.801047 761.437696 
C 477.499476 762.003141 476.670157 762.606283 475.991623 763.24712 
C 475.313089 763.887958 474.408377 764.604188 473.729843 765.282723 
C 473.051309 765.961257 472.598953 766.715183 471.920419 767.318325 
C 471.241885 767.921466 470.563351 768.449215 469.658639 768.901571 
C 468.753927 769.353927 467.547644 769.542408 466.492147 770.032461 
C 465.436649 770.522513 464.305759 771.314136 463.325654 771.841885 
C 462.34555 772.369634 461.591623 772.897382 460.611518 773.198953 
C 459.631414 773.500524 458.425131 773.477906 457.445026 773.651309 
C 456.464921 773.824712 455.635602 774.065969 454.73089 774.239372 
C 453.826178 774.412775 452.770681 774.714346 452.016754 774.691728 
C 451.262827 774.66911 450.885864 774.427853 450.20733 774.103665 
C 449.528796 773.779476 448.699476 773.048168 447.94555 772.746597 
C 447.191623 772.445026 446.513089 772.392251 445.68377 772.294241 
C 444.85445 772.19623 443.874346 772.347016 442.969634 772.158534 
C 442.064921 771.970052 441.160209 771.593089 440.255497 771.163351 
C 439.350785 770.733613 438.446073 770.070157 437.541361 769.580105 
C 436.636649 769.090052 435.80733 768.637696 434.827225 768.223037 
C 433.84712 767.808377 432.71623 767.431414 431.660733 767.092147 
C 430.605236 766.75288 429.549738 766.564398 428.494241 766.187435 
C 427.438743 765.810471 426.232461 765.395812 425.327749 764.830366 
C 424.423037 764.264921 423.556021 763.510995 423.065969 762.794764 
C 422.575916 762.078534 422.387435 761.324607 422.387435 760.532984 
C 422.387435 759.741361 422.726702 758.987435 423.065969 758.045026 
C 423.405236 757.102618 423.932984 755.934031 424.423037 754.878534 
C 424.913089 753.823037 425.327749 752.65445 426.006283 751.712042 
C 426.684817 750.769634 427.551832 749.940314 428.494241 749.224084 
C 429.436649 748.507853 430.529843 747.942408 431.660733 747.41466 
C 432.791623 746.886911 434.148691 746.396859 435.279581 746.057592 
C 436.410471 745.718325 437.390576 745.552461 438.446073 745.379058 
C 439.501571 745.205654 440.632461 745.205654 441.612565 745.017173 
C 442.59267 744.828691 443.572775 744.640209 444.326702 744.248168 
C 445.080628 743.856126 445.608377 743.305759 446.136126 742.664921 
C 446.663874 742.024084 447.003141 740.968586 447.493194 740.403141 
C 447.983246 739.837696 448.548691 739.513508 449.07644 739.272251 
C 449.604188 739.030995 450.131937 738.76712 450.659686 738.955602 
z
" clip-path="url(#p4d2a3ec731)" style="fill: #999999; stroke: #000000; stroke-width: 0.8"/>
</g>
<g id="patch_101">
<path d="M 441.612565 749.450262 
C 442.743455 749.450262 444.025131 749.67644 445.231414 749.812147 
C 446.437696 749.947853 447.643979 750.08356 448.850262 750.264503 
C 450.056545 750.445445 451.413613 750.618848 452.46911 750.897801 
C 453.524607 751.176754 454.429319 751.538639 455.183246 751.93822 
C 455.937173 752.337801 456.389529 752.767539 456.99267 753.295288 
C 457.595812 753.823037 458.198953 754.576963 458.802094 755.104712 
C 459.405236 755.632461 459.857592 756.04712 460.611518 756.46178 
C 461.365445 756.87644 462.420942 757.291099 463.325654 757.59267 
C 464.230366 757.894241 465.248168 757.969634 466.039791 758.271204 
C 466.831414 758.572775 467.58534 758.949738 468.075393 759.402094 
C 468.565445 759.85445 468.904712 760.382199 468.980105 760.98534 
C 469.055497 761.588482 468.904712 762.417801 468.527749 763.020942 
C 468.150785 763.624084 467.509948 764.166911 466.718325 764.604188 
C 465.926702 765.041466 464.795812 765.320419 463.77801 765.644607 
C 462.760209 765.968796 461.667016 766.323141 460.611518 766.549319 
C 459.556021 766.775497 458.575916 766.911204 457.445026 767.001675 
C 456.314136 767.092147 454.957068 767.114764 453.826178 767.092147 
C 452.695288 767.069529 451.715183 766.926283 450.659686 766.865969 
C 449.604188 766.805654 448.624084 766.707644 447.493194 766.730262 
C 446.362304 766.75288 444.929843 767.05445 443.874346 767.001675 
C 442.818848 766.948901 442.140314 766.737801 441.160209 766.413613 
C 440.180105 766.089424 439.049215 765.508901 437.993717 765.056545 
C 436.93822 764.604188 435.80733 764.151832 434.827225 763.699476 
C 433.84712 763.24712 432.71623 762.870157 432.113089 762.342408 
C 431.509948 761.81466 431.246073 761.211518 431.208377 760.532984 
C 431.170681 759.85445 431.547644 759.062827 431.886911 758.271204 
C 432.226178 757.479581 432.867016 756.612565 433.243979 755.783246 
C 433.620942 754.953927 433.734031 754.049215 434.148691 753.295288 
C 434.563351 752.541361 435.015707 751.840209 435.731937 751.259686 
C 436.448168 750.679162 437.465969 750.113717 438.446073 749.812147 
C 439.426178 749.510576 440.481675 749.450262 441.612565 749.450262 
z
" clip-path="url(#p4d2a3ec731)" style="fill: #666666; stroke: #000000; stroke-width: 0.8"/>
</g>
<g id="patch_102">
<path d="M 446.588482 756.009424 
C 447.568586 756.024503 448.699476 756.032042 449.754974 756.235602 
C 450.810471 756.439162 451.941361 756.868901 452.921466 757.230785 
C 453.901571 757.59267 454.806283 757.969634 455.635602 758.406911 
C 456.464921 758.844188 457.331937 759.349319 457.897382 759.85445 
C 458.462827 760.359581 458.95288 760.947644 459.028272 761.437696 
C 459.103665 761.927749 458.839791 762.43288 458.349738 762.794764 
C 457.859686 763.156649 456.99267 763.45822 456.087958 763.609005 
C 455.183246 763.759791 453.976963 763.684398 452.921466 763.699476 
C 451.865969 763.714555 450.735079 763.66178 449.754974 763.699476 
C 448.774869 763.737173 448.020942 763.887958 447.040838 763.925654 
C 446.060733 763.963351 444.85445 764.07644 443.874346 763.925654 
C 442.894241 763.774869 441.914136 763.397906 441.160209 763.020942 
C 440.406283 762.643979 439.765445 762.153927 439.350785 761.663874 
C 438.936126 761.173822 438.672251 760.646073 438.672251 760.080628 
C 438.672251 759.515183 438.936126 758.821571 439.350785 758.271204 
C 439.765445 757.720838 440.406283 757.132775 441.160209 756.778429 
C 441.914136 756.424084 442.969634 756.273298 443.874346 756.145131 
C 444.779058 756.016963 445.608377 755.994346 446.588482 756.009424 
z
" clip-path="url(#p4d2a3ec731)" style="stroke: #000000; stroke-width: 0.8"/>
</g>
<g id="matplotlib.axis_25">
<g id="xtick_55">
<g id="line2d_102">
<g>
<use href="#me9cd61fec0" x="414" y="836.1" style="stroke: #000000; stroke-width: 0.8"/>
</g>
</g>
</g>
<g id="xtick_56">
<g id="line2d_103">
<g>
<use href="#me9cd61fec0" x="446.76" y="836.1" style="stroke: #000000; stroke-width: 0.8"/>
</g>
</g>
</g>
<g id="xtick_57">
<g id="line2d_104">
<g>
<use href="#me9cd61fec0" x="479.52" y="836.1" style="stroke: #000000; stroke-width: 0.8"/>
</g>
</g>
</g>
<g id="xtick_58">
<g id="line2d_105">
<g>
<use href="#me9cd61fec0" x="512.28" y="836.1" style="stroke: #000000; stroke-width: 0.8"/>
</g>
</g>
</g>
<g id="xtick_59">
<g id="line2d_106">
<g>
<use href="#me9cd61fec0" x="545.04" y="836.1" style="stroke: #000000; stroke-width: 0.8"/>
</g>
</g>
</g>
</g>
<g id="matplotlib.axis_26">
<g id="ytick_36">
<g id="line2d_107">
<g>
<use href="#m2ecc1fbad5" x="391.14" y="807.48" style="stroke: #000000; stroke-width: 0.8"/>
</g>
</g>
</g>
<g id="ytick_37">
<g id="line2d_108">
<g>
<use href="#m2ecc1fbad5" x="391.14" y="772.92" style="stroke: #000000; stroke-width: 0.8"/>
</g>
</g>
</g>
<g id="ytick_38">
<g id="line2d_109">
<g>
<use href="#m2ecc1fbad5" x="391.14" y="738.36" style="stroke: #000000; stroke-width: 0.8"/>
</g>
</g>
</g>
<g id="ytick_39">
<g id="line2d_110">
<g>
<use href="#m2ecc1fbad5" x="391.14" y="703.8" style="stroke: #000000; stroke-width: 0.8"/>
</g>
</g>
</g>
</g>
<g id="patch_103">
<path d="M 391.14 836.1 
L 391.14 680.94 
" style="fill: none; stroke: #000000; stroke-width: 0.5; stroke-linejoin: miter; stroke-linecap: square"/>
</g>
<g id="patch_104">
<path d="M 546.66 836.1 
L 546.66 680.94 
" style="fill: none; stroke: #000000; stroke-width: 0.5; stroke-linejoin: miter; stroke-linecap: square"/>
</g>
<g id="patch_105">
<path d="M 391.14 836.1 
L 546.66 836.1 
" style="fill: none; stroke: #000000; stroke-width: 0.5; stroke-linejoin: miter; stroke-linecap: square"/>
</g>
<g id="patch_106">
<path d="M 391.14 680.94 
L 546.66 680.94 
" style="fill: none; stroke: #000000; stroke-width: 0.5; stroke-linejoin: miter; stroke-linecap: square"/>
</g>
</g>
<g id="axes_14">
<g id="patch_107">
<path d="M 554.22 836.1 
L 709.74 836.1 
L 709.74 680.94 
L 554.22 680.94 
z
" style="fill: #ffffff"/>
</g>
<g id="patch_108">
<path d="M 681.521466 728.958534 
C 682.350785 728.920838 683.104712 728.99623 683.783246 729.320419 
C 684.46178 729.644607 685.027225 730.187435 685.59267 730.903665 
C 686.158115 731.619895 686.648168 732.713089 687.175916 733.617801 
C 687.703665 734.522513 688.306806 735.427225 688.759162 736.331937 
C 689.211518 737.236649 689.626178 738.141361 689.890052 739.046073 
C 690.153927 739.950785 690.229319 740.855497 690.342408 741.760209 
C 690.455497 742.664921 690.342408 743.569634 690.568586 744.474346 
C 690.794764 745.379058 691.24712 746.28377 691.699476 747.188482 
C 692.151832 748.093194 692.852984 748.997906 693.282723 749.902618 
C 693.712461 750.80733 694.036649 751.712042 694.277906 752.616754 
C 694.519162 753.521466 694.556859 754.350785 694.730262 755.33089 
C 694.903665 756.310995 695.220314 757.517277 695.318325 758.497382 
C 695.416335 759.477487 695.46911 760.306806 695.318325 761.211518 
C 695.167539 762.11623 694.828272 763.020942 694.413613 763.925654 
C 693.998953 764.830366 693.395812 765.735079 692.830366 766.639791 
C 692.264921 767.544503 691.548691 768.449215 691.020942 769.353927 
C 690.493194 770.258639 690.11623 771.087958 689.663874 772.068063 
C 689.211518 773.048168 688.834555 774.25445 688.306806 775.234555 
C 687.779058 776.21466 687.175916 777.157068 686.497382 777.948691 
C 685.818848 778.740314 685.064921 779.494241 684.235602 779.984293 
C 683.406283 780.474346 682.426178 780.775916 681.521466 780.889005 
C 680.616754 781.002094 679.636649 780.926702 678.80733 780.662827 
C 677.97801 780.398953 677.224084 779.833508 676.54555 779.305759 
C 675.867016 778.77801 675.263874 778.250262 674.736126 777.496335 
C 674.208377 776.742408 673.831414 775.724607 673.379058 774.782199 
C 672.926702 773.839791 672.549738 772.82199 672.02199 771.841885 
C 671.494241 770.86178 670.815707 769.843979 670.212565 768.901571 
C 669.609424 767.959162 668.915812 767.092147 668.403141 766.187435 
C 667.890471 765.282723 667.423037 764.37801 667.136545 763.473298 
C 666.850052 762.568586 666.714346 761.739267 666.684188 760.759162 
C 666.654031 759.779058 666.819895 758.648168 666.955602 757.59267 
C 667.091309 756.537173 667.272251 755.481675 667.498429 754.426178 
C 667.724607 753.370681 667.935707 752.277487 668.31267 751.259686 
C 668.689634 750.241885 669.14199 749.186387 669.760209 748.319372 
C 670.378429 747.452356 671.381152 746.736126 672.02199 746.057592 
C 672.662827 745.379058 673.243351 744.889005 673.605236 744.248168 
C 673.96712 743.60733 674.117906 743.004188 674.193298 742.212565 
C 674.268691 741.420942 674.042513 740.403141 674.057592 739.498429 
C 674.07267 738.593717 674.095288 737.764398 674.28377 736.784293 
C 674.472251 735.804188 674.773822 734.560209 675.188482 733.617801 
C 675.603141 732.675393 676.168586 731.808377 676.771728 731.129843 
C 677.374869 730.451309 678.015707 729.908482 678.80733 729.546597 
C 679.598953 729.184712 680.692147 728.99623 681.521466 728.958534 
z
" clip-path="url(#p11b050dbea)" style="fill: #cccccc; stroke: #000000; stroke-width: 0.8"/>
</g>
<g id="patch_109">
<path d="M 680.842932 744.700524 
C 681.559162 744.700524 682.463874 744.753298 683.33089 745.017173 
C 684.197906 745.281047 685.140314 745.733403 686.045026 746.28377 
C 686.949738 746.834136 688.005236 747.603141 688.759162 748.319372 
C 689.513089 749.035602 690.153927 749.789529 690.568586 750.581152 
C 690.983246 751.372775 691.058639 752.202094 691.24712 753.06911 
C 691.435602 753.936126 691.510995 754.803141 691.699476 755.783246 
C 691.887958 756.763351 692.302618 758.00733 692.37801 758.949738 
C 692.453403 759.892147 692.37801 760.570681 692.151832 761.437696 
C 691.925654 762.304712 691.510995 763.322513 691.020942 764.151832 
C 690.53089 764.981152 689.890052 765.659686 689.211518 766.413613 
C 688.532984 767.167539 687.703665 767.88377 686.949738 768.675393 
C 686.195812 769.467016 685.366492 770.371728 684.687958 771.163351 
C 684.009424 771.954974 683.406283 772.837068 682.878534 773.425131 
C 682.350785 774.013194 681.973822 774.450471 681.521466 774.691728 
C 681.06911 774.932984 680.65445 775.008377 680.164398 774.87267 
C 679.674346 774.736963 679.184293 774.420314 678.581152 773.877487 
C 677.97801 773.33466 677.26178 772.445026 676.54555 771.615707 
C 675.829319 770.786387 675.037696 769.768586 674.28377 768.901571 
C 673.529843 768.034555 672.662827 767.242932 672.02199 766.413613 
C 671.381152 765.584293 670.853403 764.79267 670.438743 763.925654 
C 670.024084 763.058639 669.64712 762.191623 669.534031 761.211518 
C 669.420942 760.231414 669.632042 759.100524 669.760209 758.045026 
C 669.888377 756.989529 670.114555 755.934031 670.303037 754.878534 
C 670.491518 753.823037 670.566911 752.65445 670.891099 751.712042 
C 671.215288 750.769634 671.645026 749.940314 672.248168 749.224084 
C 672.851309 748.507853 673.718325 747.980105 674.509948 747.41466 
C 675.301571 746.849215 676.243979 746.230995 676.997906 745.831414 
C 677.751832 745.431832 678.39267 745.205654 679.033508 745.017173 
C 679.674346 744.828691 680.126702 744.700524 680.842932 744.700524 
z
" clip-path="url(#p11b050dbea)" style="fill: #999999; stroke: #000000; stroke-width: 0.8"/>
</g>
<g id="patch_110">
<path d="M 681.295288 749.812147 
C 682.011518 749.789529 682.878534 749.887539 683.557068 750.128796 
C 684.235602 750.370052 684.87644 750.731937 685.366492 751.259686 
C 685.856545 751.787435 686.195812 752.541361 686.497382 753.295288 
C 686.798953 754.049215 686.912042 754.91623 687.175916 755.783246 
C 687.439791 756.650262 687.877068 757.668063 688.080628 758.497382 
C 688.284188 759.326702 688.47267 760.005236 688.397277 760.759162 
C 688.321885 761.513089 688.095707 762.267016 687.628272 763.020942 
C 687.160838 763.774869 686.346597 764.641885 685.59267 765.282723 
C 684.838743 765.92356 683.934031 766.504084 683.104712 766.865969 
C 682.275393 767.227853 681.48377 767.454031 680.616754 767.454031 
C 679.749738 767.454031 678.769634 767.227853 677.902618 766.865969 
C 677.035602 766.504084 676.093194 765.885864 675.41466 765.282723 
C 674.736126 764.679581 674.185759 764.001047 673.831414 763.24712 
C 673.477068 762.493194 673.288586 761.588482 673.288586 760.759162 
C 673.288586 759.929843 673.552461 759.100524 673.831414 758.271204 
C 674.110366 757.441885 674.58534 756.612565 674.962304 755.783246 
C 675.339267 754.953927 675.678534 754.049215 676.093194 753.295288 
C 676.507853 752.541361 676.922513 751.764817 677.450262 751.259686 
C 677.97801 750.754555 678.618848 750.505759 679.259686 750.264503 
C 679.900524 750.023246 680.579058 749.834764 681.295288 749.812147 
z
" clip-path="url(#p11b050dbea)" style="fill: #666666; stroke: #000000; stroke-width: 0.8"/>
</g>
<g id="patch_111">
<path d="M 680.842932 757.049843 
C 681.446073 757.049843 682.086911 757.291099 682.652356 757.59267 
C 683.217801 757.894241 683.858639 758.369215 684.235602 758.859267 
C 684.612565 759.349319 684.914136 759.952461 684.914136 760.532984 
C 684.914136 761.113508 684.612565 761.837277 684.235602 762.342408 
C 683.858639 762.847539 683.255497 763.284817 682.652356 763.56377 
C 682.049215 763.842723 681.295288 764.031204 680.616754 764.016126 
C 679.93822 764.001047 679.146597 763.789948 678.581152 763.473298 
C 678.015707 763.156649 677.525654 762.606283 677.224084 762.11623 
C 676.922513 761.626178 676.734031 761.098429 676.771728 760.532984 
C 676.809424 759.967539 677.073298 759.213613 677.450262 758.72356 
C 677.827225 758.233508 678.468063 757.871623 679.033508 757.59267 
C 679.598953 757.313717 680.239791 757.049843 680.842932 757.049843 
z
" clip-path="url(#p11b050dbea)" style="stroke: #000000; stroke-width: 0.8"/>
</g>
<g id="matplotlib.axis_27">
<g id="xtick_60">
<g id="line2d_111">
<g>
<use href="#me9cd61fec0" x="579.24" y="836.1" style="stroke: #000000; stroke-width: 0.8"/>
</g>
</g>
</g>
<g id="xtick_61">
<g id="line2d_112">
<g>
<use href="#me9cd61fec0" x="613.44" y="836.1" style="stroke: #000000; stroke-width: 0.8"/>
</g>
</g>
</g>
<g id="xtick_62">
<g id="line2d_113">
<g>
<use href="#me9cd61fec0" x="647.64" y="836.1" style="stroke: #000000; stroke-width: 0.8"/>
</g>
</g>
</g>
<g id="xtick_63">
<g id="line2d_114">
<g>
<use href="#me9cd61fec0" x="681.84" y="836.1" style="stroke: #000000; stroke-width: 0.8"/>
</g>
</g>
</g>
</g>
<g id="matplotlib.axis_28">
<g id="ytick_40">
<g id="line2d_115">
<g>
<use href="#m2ecc1fbad5" x="554.22" y="807.48" style="stroke: #000000; stroke-width: 0.8"/>
</g>
</g>
</g>
<g id="ytick_41">
<g id="line2d_116">
<g>
<use href="#m2ecc1fbad5" x="554.22" y="772.92" style="stroke: #000000; stroke-width: 0.8"/>
</g>
</g>
</g>
<g id="ytick_42">
<g id="line2d_117">
<g>
<use href="#m2ecc1fbad5" x="554.22" y="738.36" style="stroke: #000000; stroke-width: 0.8"/>
</g>
</g>
</g>
<g id="ytick_43">
<g id="line2d_118">
<g>
<use href="#m2ecc1fbad5" x="554.22" y="703.8" style="stroke: #000000; stroke-width: 0.8"/>
</g>
</g>
</g>
</g>
<g id="patch_112">
<path d="M 554.22 836.1 
L 554.22 680.94 
" style="fill: none; stroke: #000000; stroke-width: 0.5; stroke-linejoin: miter; stroke-linecap: square"/>
</g>
<g id="patch_113">
<path d="M 709.74 836.1 
L 709.74 680.94 
" style="fill: none; stroke: #000000; stroke-width: 0.5; stroke-linejoin: miter; stroke-linecap: square"/>
</g>
<g id="patch_114">
<path d="M 554.22 836.1 
L 709.74 836.1 
" style="fill: none; stroke: #000000; stroke-width: 0.5; stroke-linejoin: miter; stroke-linecap: square"/>
</g>
<g id="patch_115">
<path d="M 554.22 680.94 
L 709.74 680.94 
" style="fill: none; stroke: #000000; stroke-width: 0.5; stroke-linejoin: miter; stroke-linecap: square"/>
</g>
</g>
<g id="axes_15">
<g id="patch_116">
<path d="M 717.3 836.1 
L 872.82 836.1 
L 872.82 680.94 
L 717.3 680.94 
z
" style="fill: #ffffff"/>
</g>
<g id="patch_117">
<path d="M 754.65801 836.1 
L 754.65801 835.812565 
L 762.121885 835.066178 
L 764.609843 834.402723 
L 766.683141 833.158743 
L 768.75644 831.085445 
L 770.415079 828.182827 
L 771.659058 825.280209 
L 772.903037 821.548272 
L 774.147016 817.401675 
L 775.390995 813.669738 
L 776.634974 810.76712 
L 777.878953 808.279162 
L 779.122932 804.961885 
L 780.366911 801.644607 
L 781.61089 796.254031 
L 782.689005 791.278115 
L 783.269529 786.302199 
L 784.098848 780.496963 
L 784.928168 773.862408 
L 785.591623 767.227853 
L 786.172147 760.593298 
L 786.75267 753.958743 
L 787.250262 747.324188 
L 787.664921 740.689634 
L 787.996649 734.055079 
L 788.411309 727.420524 
L 788.825969 720.785969 
L 789.32356 714.151414 
L 789.73822 707.516859 
L 790.15288 701.711623 
L 790.650471 695.906387 
L 791.313927 691.345131 
L 791.977382 688.857173 
L 792.474974 687.86199 
L 793.055497 689.271832 
L 793.801885 693.418429 
L 794.46534 698.394346 
L 795.128796 703.370262 
L 795.792251 708.346178 
L 796.372775 713.322094 
L 796.953298 718.29801 
L 797.782618 723.273927 
L 798.611937 728.249843 
L 799.60712 732.39644 
L 800.43644 736.543037 
L 801.099895 740.689634 
L 801.680419 745.66555 
L 802.343874 750.641466 
L 802.924398 755.617382 
L 803.42199 760.593298 
L 803.836649 765.569215 
L 804.251309 770.545131 
L 804.748901 775.521047 
L 805.246492 781.326283 
L 805.661152 786.302199 
L 806.075812 790.448796 
L 806.656335 794.595393 
L 807.319791 798.74199 
L 807.900314 802.059267 
L 808.56377 804.547225 
L 809.393089 806.620524 
L 810.637068 808.030366 
L 812.295707 808.279162 
L 813.954346 808.859686 
L 815.612984 810.76712 
L 817.271623 813.255079 
L 819.344921 816.157696 
L 821.83288 819.474974 
L 824.320838 822.792251 
L 826.394136 826.524188 
L 828.882094 829.841466 
L 831.784712 832.744084 
L 834.68733 834.568586 
L 838.419267 835.646702 
L 848.371099 835.895497 
L 848.371099 836.1 
z
" clip-path="url(#p4381dc3225)" style="fill: #666666"/>
</g>
<g id="matplotlib.axis_29">
<g id="xtick_64">
<g id="line2d_119">
<g>
<use href="#me9cd61fec0" x="745.92" y="836.1" style="stroke: #000000; stroke-width: 0.8"/>
</g>
</g>
</g>
<g id="xtick_65">
<g id="line2d_120">
<g>
<use href="#me9cd61fec0" x="780.48" y="836.1" style="stroke: #000000; stroke-width: 0.8"/>
</g>
</g>
</g>
<g id="xtick_66">
<g id="line2d_121">
<g>
<use href="#me9cd61fec0" x="815.04" y="836.1" style="stroke: #000000; stroke-width: 0.8"/>
</g>
</g>
</g>
<g id="xtick_67">
<g id="line2d_122">
<g>
<use href="#me9cd61fec0" x="849.24" y="836.1" style="stroke: #000000; stroke-width: 0.8"/>
</g>
</g>
</g>
</g>
<g id="matplotlib.axis_30"/>
<g id="line2d_123">
<path d="M 775.62 836.1 
L 775.62 680.94 
" clip-path="url(#p4381dc3225)" style="fill: none; stroke-dasharray: 3.7,1.6; stroke-dashoffset: 0; stroke: #000000"/>
</g>
<g id="line2d_124">
<path d="M 794.34 836.1 
L 794.34 680.94 
" clip-path="url(#p4381dc3225)" style="fill: none; stroke-dasharray: 3.7,1.6; stroke-dashoffset: 0; stroke: #000000"/>
</g>
<g id="line2d_125">
<path d="M 824.22 836.1 
L 824.22 680.94 
" clip-path="url(#p4381dc3225)" style="fill: none; stroke-dasharray: 3.7,1.6; stroke-dashoffset: 0; stroke: #000000"/>
</g>
<g id="patch_118">
<path d="M 717.3 836.1 
L 717.3 680.94 
" style="fill: none; stroke: #000000; stroke-width: 0.5; stroke-linejoin: miter; stroke-linecap: square"/>
</g>
<g id="patch_119">
<path d="M 872.82 836.1 
L 872.82 680.94 
" style="fill: none; stroke: #000000; stroke-width: 0.5; stroke-linejoin: miter; stroke-linecap: square"/>
</g>
<g id="patch_120">
<path d="M 717.3 836.1 
L 872.82 836.1 
" style="fill: none; stroke: #000000; stroke-width: 0.5; stroke-linejoin: miter; stroke-linecap: square"/>
</g>
<g id="patch_121">
<path d="M 717.3 680.94 
L 872.82 680.94 
" style="fill: none; stroke: #000000; stroke-width: 0.5; stroke-linejoin: miter; stroke-linecap: square"/>
</g>
<g id="text_27">
<g transform="translate(732.6648 673.14) scale(0.18 -0.18)">
<defs>
<path id="DejaVuSans-33" d="M 2597 2516 
Q 3050 2419 3304 2112 
Q 3559 1806 3559 1356 
Q 3559 666 3084 287 
Q 2609 -91 1734 -91 
Q 1441 -91 1130 -33 
Q 819 25 488 141 
L 488 750 
Q 750 597 1062 519 
Q 1375 441 1716 441 
Q 2309 441 2620 675 
Q 2931 909 2931 1356 
Q 2931 1769 2642 2001 
Q 2353 2234 1838 2234 
L 1294 2234 
L 1294 2753 
L 1863 2753 
Q 2328 2753 2575 2939 
Q 2822 3125 2822 3475 
Q 2822 3834 2567 4026 
Q 2313 4219 1838 4219 
Q 1578 4219 1281 4162 
Q 984 4106 628 3988 
L 628 4550 
Q 988 4650 1302 4700 
Q 1616 4750 1894 4750 
Q 2613 4750 3031 4423 
Q 3450 4097 3450 3541 
Q 3450 3153 3228 2886 
Q 3006 2619 2597 2516 
z
" transform="scale(0.015625)"/>
</defs>
<use href="#DejaVuSans-Oblique-3bc" transform="translate(0 0.765625)"/>
<use href="#DejaVuSans-Oblique-43" transform="translate(63.623047 -14) scale(0.7)"/>
<use href="#DejaVuSans-20" transform="translate(115.234375 0.765625)"/>
<use href="#DejaVuSans-3d" transform="translate(147.021484 0.765625)"/>
<use href="#DejaVuSans-20" transform="translate(230.810547 0.765625)"/>
<use href="#DejaVuSans-39" transform="translate(262.597656 0.765625)"/>
<use href="#DejaVuSans-2e" transform="translate(326.220703 0.765625)"/>
<use href="#DejaVuSans-38" transform="translate(355.382812 0.765625)"/>
<use href="#DejaVuSans-31" transform="translate(419.005859 0.765625)"/>
<use href="#DejaVuSans-2b" transform="translate(483.585938 39.046875) scale(0.7)"/>
<use href="#DejaVuSans-30" transform="translate(542.238281 39.046875) scale(0.7)"/>
<use href="#DejaVuSans-2e" transform="translate(586.774414 39.046875) scale(0.7)"/>
<use href="#DejaVuSans-31" transform="translate(609.025391 39.046875) scale(0.7)"/>
<use href="#DejaVuSans-33" transform="translate(653.561523 39.046875) scale(0.7)"/>
<use href="#DejaVuSans-2212" transform="translate(483.585938 -26.578125) scale(0.7)"/>
<use href="#DejaVuSans-30" transform="translate(542.238281 -26.578125) scale(0.7)"/>
<use href="#DejaVuSans-2e" transform="translate(586.774414 -26.578125) scale(0.7)"/>
<use href="#DejaVuSans-30" transform="translate(609.025391 -26.578125) scale(0.7)"/>
<use href="#DejaVuSans-38" transform="translate(653.561523 -26.578125) scale(0.7)"/>
</g>
</g>
</g>
<g id="axes_16">
<g id="patch_122">
<path d="M 64.62 999.54 
L 220.14 999.54 
L 220.14 844.02 
L 64.62 844.02 
z
" style="fill: #ffffff"/>
</g>
<g id="patch_123">
<path d="M 114.94555 890.251728 
C 115.850262 890.236649 116.981152 890.477906 118.112042 890.523141 
C 119.242932 890.568377 120.675393 890.43267 121.73089 890.523141 
C 122.786387 890.613613 123.615707 890.673927 124.445026 891.065969 
C 125.274346 891.45801 125.95288 892.234555 126.706806 892.875393 
C 127.460733 893.51623 128.139267 894.34555 128.968586 894.910995 
C 129.797906 895.47644 130.702618 895.928796 131.682723 896.268063 
C 132.662827 896.60733 133.86911 896.682723 134.849215 896.946597 
C 135.829319 897.210471 136.809424 897.436649 137.563351 897.851309 
C 138.317277 898.265969 138.845026 898.756021 139.372775 899.434555 
C 139.900524 900.113089 140.277487 901.055497 140.729843 901.922513 
C 141.182199 902.789529 141.559162 903.80733 142.086911 904.636649 
C 142.61466 905.465969 143.406283 906.144503 143.896335 906.898429 
C 144.386387 907.652356 144.763351 908.255497 145.027225 909.160209 
C 145.291099 910.064921 145.291099 911.42199 145.479581 912.326702 
C 145.668063 913.231414 145.856545 913.834555 146.158115 914.588482 
C 146.459686 915.342408 146.912042 915.94555 147.289005 916.850262 
C 147.665969 917.754974 148.080628 919.036649 148.419895 920.016754 
C 148.759162 920.996859 149.113508 921.901571 149.324607 922.73089 
C 149.535707 923.560209 149.761885 924.201047 149.686492 924.99267 
C 149.611099 925.784293 149.234136 926.726702 148.872251 927.480628 
C 148.510366 928.234555 147.892147 928.762304 147.515183 929.51623 
C 147.13822 930.270157 146.874346 931.099476 146.610471 932.004188 
C 146.346597 932.908901 146.120419 934.002094 145.931937 934.944503 
C 145.743455 935.886911 145.743455 936.753927 145.479581 937.658639 
C 145.215707 938.563351 144.914136 939.468063 144.348691 940.372775 
C 143.783246 941.277487 142.91623 942.219895 142.086911 943.086911 
C 141.257592 943.953927 140.277487 944.858639 139.372775 945.574869 
C 138.468063 946.291099 137.563351 946.781152 136.658639 947.384293 
C 135.753927 947.987435 134.773822 948.55288 133.944503 949.193717 
C 133.115183 949.834555 132.436649 950.550785 131.682723 951.229319 
C 130.928796 951.907853 130.174869 952.699476 129.420942 953.264921 
C 128.667016 953.830366 127.988482 954.41089 127.159162 954.62199 
C 126.329843 954.833089 125.425131 954.629529 124.445026 954.531518 
C 123.464921 954.433508 122.334031 953.981152 121.278534 954.033927 
C 120.223037 954.086702 119.167539 954.501361 118.112042 954.848168 
C 117.056545 955.194974 115.850262 956.001675 114.94555 956.114764 
C 114.040838 956.227853 113.437696 955.873508 112.68377 955.526702 
C 111.929843 955.179895 111.251309 954.335497 110.42199 954.033927 
C 109.59267 953.732356 108.612565 953.883141 107.707853 953.717277 
C 106.803141 953.551414 105.78534 953.528796 104.993717 953.038743 
C 104.202094 952.548691 103.485864 951.606283 102.958115 950.776963 
C 102.430366 949.947644 102.241885 948.892147 101.827225 948.062827 
C 101.412565 947.233508 101.073298 946.630366 100.470157 945.801047 
C 99.867016 944.971728 98.962304 944.067016 98.208377 943.086911 
C 97.45445 942.106806 96.549738 940.975916 95.946597 939.920419 
C 95.343455 938.864921 94.928796 937.809424 94.589529 936.753927 
C 94.250262 935.698429 94.099476 934.718325 93.910995 933.587435 
C 93.722513 932.456545 93.534031 931.099476 93.458639 929.968586 
C 93.383246 928.837696 93.436021 927.857592 93.458639 926.802094 
C 93.481257 925.746597 93.669738 924.691099 93.594346 923.635602 
C 93.518953 922.580105 93.232461 921.449215 93.006283 920.46911 
C 92.780105 919.489005 92.350366 918.735079 92.237277 917.754974 
C 92.124188 916.774869 92.124188 915.53089 92.327749 914.588482 
C 92.531309 913.646073 92.93089 912.929843 93.458639 912.100524 
C 93.986387 911.271204 94.77801 910.441885 95.494241 909.612565 
C 96.210471 908.783246 97.115183 907.953927 97.756021 907.124607 
C 98.396859 906.295288 98.924607 905.503665 99.339267 904.636649 
C 99.753927 903.769634 99.904712 902.827225 100.243979 901.922513 
C 100.583246 901.017801 100.809424 900 101.374869 899.208377 
C 101.940314 898.416754 102.731937 897.73822 103.636649 897.172775 
C 104.541361 896.60733 105.898429 896.305759 106.803141 895.815707 
C 107.707853 895.325654 108.386387 894.873298 109.064921 894.232461 
C 109.743455 893.591623 110.271204 892.573822 110.874346 891.970681 
C 111.477487 891.367539 112.005236 890.900105 112.68377 890.613613 
C 113.362304 890.32712 114.040838 890.266806 114.94555 890.251728 
z
" clip-path="url(#pab45b6f2f8)" style="fill: #cccccc; stroke: #000000; stroke-width: 0.8"/>
</g>
<g id="patch_124">
<path d="M 119.46911 898.620314 
C 120.298429 898.695707 121.580105 898.97466 122.635602 899.208377 
C 123.691099 899.442094 124.82199 899.645654 125.802094 900.022618 
C 126.782199 900.399581 127.611518 900.889634 128.51623 901.470157 
C 129.420942 902.050681 130.325654 902.864921 131.230366 903.505759 
C 132.135079 904.146597 133.15288 904.674346 133.944503 905.315183 
C 134.736126 905.956021 135.452356 906.559162 135.980105 907.350785 
C 136.507853 908.142408 136.809424 909.160209 137.110995 910.064921 
C 137.412565 910.969634 137.525654 911.874346 137.789529 912.779058 
C 138.053403 913.68377 138.354974 914.588482 138.694241 915.493194 
C 139.033508 916.397906 139.448168 917.227225 139.825131 918.20733 
C 140.202094 919.187435 140.65445 920.318325 140.956021 921.373822 
C 141.257592 922.429319 141.506387 923.560209 141.634555 924.540314 
C 141.762723 925.520419 141.875812 926.274346 141.725026 927.25445 
C 141.574241 928.234555 141.197277 929.403141 140.729843 930.420942 
C 140.262408 931.438743 139.598953 932.343455 138.920419 933.361257 
C 138.241885 934.379058 137.412565 935.58534 136.658639 936.527749 
C 135.904712 937.470157 135.226178 938.224084 134.396859 939.015707 
C 133.567539 939.80733 132.662827 940.598953 131.682723 941.277487 
C 130.702618 941.956021 129.571728 942.48377 128.51623 943.086911 
C 127.460733 943.690052 126.329843 944.443979 125.349738 944.896335 
C 124.369634 945.348691 123.615707 945.612565 122.635602 945.801047 
C 121.655497 945.989529 120.449215 945.87644 119.46911 946.027225 
C 118.489005 946.17801 117.584293 946.517277 116.754974 946.705759 
C 115.925654 946.894241 115.24712 947.195812 114.493194 947.158115 
C 113.739267 947.120419 113.060733 946.856545 112.231414 946.479581 
C 111.402094 946.102618 110.42199 945.499476 109.517277 944.896335 
C 108.612565 944.293194 107.557068 943.61466 106.803141 942.860733 
C 106.049215 942.106806 105.446073 941.239791 104.993717 940.372775 
C 104.541361 939.505759 104.35288 938.563351 104.089005 937.658639 
C 103.825131 936.753927 103.674346 935.773822 103.410471 934.944503 
C 103.146597 934.115183 102.920419 933.436649 102.505759 932.682723 
C 102.091099 931.928796 101.299476 931.212565 100.922513 930.420942 
C 100.54555 929.629319 100.281675 928.762304 100.243979 927.932984 
C 100.206283 927.103665 100.54555 926.274346 100.696335 925.445026 
C 100.84712 924.615707 101.186387 923.86178 101.148691 922.957068 
C 101.110995 922.052356 100.74911 920.921466 100.470157 920.016754 
C 100.191204 919.112042 99.686073 918.358115 99.474974 917.528796 
C 99.263874 916.699476 99.113089 915.832461 99.20356 915.040838 
C 99.294031 914.249215 99.580524 913.495288 100.017801 912.779058 
C 100.455079 912.062827 101.224084 911.459686 101.827225 910.743455 
C 102.430366 910.027225 103.033508 909.348691 103.636649 908.481675 
C 104.239791 907.61466 104.767539 906.370681 105.446073 905.541361 
C 106.124607 904.712042 106.803141 904.071204 107.707853 903.505759 
C 108.612565 902.940314 109.894241 902.563351 110.874346 902.148691 
C 111.85445 901.734031 112.759162 901.432461 113.588482 901.017801 
C 114.417801 900.603141 115.171728 900.037696 115.850262 899.660733 
C 116.528796 899.28377 117.056545 898.929424 117.659686 898.756021 
C 118.262827 898.582618 118.639791 898.544921 119.46911 898.620314 
z
" clip-path="url(#pab45b6f2f8)" style="fill: #999999; stroke: #000000; stroke-width: 0.8"/>
</g>
<g id="patch_125">
<path d="M 115.850262 905.903246 
C 116.754974 905.850471 117.659686 906.17466 118.564398 906.355602 
C 119.46911 906.536545 120.298429 906.823037 121.278534 906.988901 
C 122.258639 907.154764 123.540314 907.139686 124.445026 907.350785 
C 125.349738 907.561885 125.95288 907.803141 126.706806 908.255497 
C 127.460733 908.707853 128.327749 909.386387 128.968586 910.064921 
C 129.609424 910.743455 130.099476 911.42199 130.551832 912.326702 
C 131.004188 913.231414 131.305759 914.437696 131.682723 915.493194 
C 132.059686 916.548691 132.436649 917.604188 132.813613 918.659686 
C 133.190576 919.715183 133.620314 920.846073 133.944503 921.826178 
C 134.268691 922.806283 134.607958 923.710995 134.758743 924.540314 
C 134.909529 925.369634 134.984921 925.972775 134.849215 926.802094 
C 134.713508 927.631414 134.396859 928.649215 133.944503 929.51623 
C 133.492147 930.383246 132.889005 931.174869 132.135079 932.004188 
C 131.381152 932.833508 130.325654 933.700524 129.420942 934.492147 
C 128.51623 935.28377 127.536126 936.188482 126.706806 936.753927 
C 125.877487 937.319372 125.274346 937.696335 124.445026 937.884817 
C 123.615707 938.073298 122.635602 937.884817 121.73089 937.884817 
C 120.826178 937.884817 119.921466 937.771728 119.016754 937.884817 
C 118.112042 937.997906 117.056545 938.525654 116.302618 938.563351 
C 115.548691 938.601047 115.171728 938.450262 114.493194 938.110995 
C 113.81466 937.771728 112.98534 937.206283 112.231414 936.527749 
C 111.477487 935.849215 110.610471 934.906806 109.969634 934.039791 
C 109.328796 933.172775 108.801047 932.305759 108.386387 931.325654 
C 107.971728 930.34555 107.670157 929.21466 107.481675 928.159162 
C 107.293194 927.103665 107.180105 926.048168 107.255497 924.99267 
C 107.33089 923.937173 107.632461 922.806283 107.934031 921.826178 
C 108.235602 920.846073 108.725654 920.016754 109.064921 919.112042 
C 109.404188 918.20733 109.728377 917.302618 109.969634 916.397906 
C 110.21089 915.493194 110.346597 914.588482 110.512461 913.68377 
C 110.678325 912.779058 110.791414 911.836649 110.964817 910.969634 
C 111.13822 910.102618 111.190995 909.197906 111.55288 908.481675 
C 111.914764 907.765445 112.419895 907.10199 113.136126 906.672251 
C 113.852356 906.242513 114.94555 905.956021 115.850262 905.903246 
z
" clip-path="url(#pab45b6f2f8)" style="fill: #666666; stroke: #000000; stroke-width: 0.8"/>
</g>
<g id="patch_126">
<path d="M 123.99267 915.040838 
C 124.445026 915.282094 124.935079 915.719372 125.349738 916.397906 
C 125.764398 917.07644 126.141361 918.20733 126.480628 919.112042 
C 126.819895 920.016754 127.211937 920.996859 127.38534 921.826178 
C 127.558743 922.655497 127.634136 923.258639 127.521047 924.087958 
C 127.407958 924.917277 127.030995 925.935079 126.706806 926.802094 
C 126.382618 927.66911 126.103665 928.573822 125.575916 929.290052 
C 125.048168 930.006283 124.331937 930.609424 123.540314 931.099476 
C 122.748691 931.589529 121.73089 932.004188 120.826178 932.230366 
C 119.921466 932.456545 118.865969 932.60733 118.112042 932.456545 
C 117.358115 932.305759 116.830366 931.853403 116.302618 931.325654 
C 115.774869 930.797906 115.337592 930.043979 114.94555 929.290052 
C 114.553508 928.536126 114.11623 927.593717 113.950366 926.802094 
C 113.784503 926.010471 113.822199 925.331937 113.950366 924.540314 
C 114.078534 923.748691 114.402723 922.919372 114.719372 922.052356 
C 115.036021 921.18534 115.360209 920.167539 115.850262 919.33822 
C 116.340314 918.508901 116.905759 917.679581 117.659686 917.07644 
C 118.413613 916.473298 119.544503 916.073717 120.373822 915.719372 
C 121.203141 915.365026 122.032461 915.063455 122.635602 914.950366 
C 123.238743 914.837277 123.540314 914.799581 123.99267 915.040838 
z
" clip-path="url(#pab45b6f2f8)" style="stroke: #000000; stroke-width: 0.8"/>
</g>
<g id="matplotlib.axis_31">
<g id="xtick_68">
<g id="line2d_126">
<g>
<use href="#me9cd61fec0" x="96.48" y="999.54" style="stroke: #000000; stroke-width: 0.8"/>
</g>
</g>
<g id="text_28">
<g transform="translate(84.4049 1045.3731) rotate(-45) scale(0.15 -0.15)">
<use href="#DejaVuSans-30"/>
<use href="#DejaVuSans-2e" transform="translate(62.4142 0)"/>
<use href="#DejaVuSans-30" transform="translate(93.5974 0)"/>
<use href="#DejaVuSans-35" transform="translate(156.0116 0)"/>
<use href="#DejaVuSans-30" transform="translate(218.4258 0)"/>
</g>
</g>
</g>
<g id="xtick_69">
<g id="line2d_127">
<g>
<use href="#me9cd61fec0" x="132.48" y="999.54" style="stroke: #000000; stroke-width: 0.8"/>
</g>
</g>
<g id="text_29">
<g transform="translate(120.4049 1045.3731) rotate(-45) scale(0.15 -0.15)">
<use href="#DejaVuSans-30"/>
<use href="#DejaVuSans-2e" transform="translate(62.4142 0)"/>
<use href="#DejaVuSans-30" transform="translate(93.5974 0)"/>
<use href="#DejaVuSans-37" transform="translate(156.0116 0)"/>
<use href="#DejaVuSans-35" transform="translate(218.4258 0)"/>
</g>
</g>
</g>
<g id="xtick_70">
<g id="line2d_128">
<g>
<use href="#me9cd61fec0" x="168.48" y="999.54" style="stroke: #000000; stroke-width: 0.8"/>
</g>
</g>
<g id="text_30">
<g transform="translate(156.4049 1045.3731) rotate(-45) scale(0.15 -0.15)">
<use href="#DejaVuSans-30"/>
<use href="#DejaVuSans-2e" transform="translate(62.4142 0)"/>
<use href="#DejaVuSans-31" transform="translate(93.5974 0)"/>
<use href="#DejaVuSans-30" transform="translate(156.0116 0)"/>
<use href="#DejaVuSans-30" transform="translate(218.4258 0)"/>
</g>
</g>
</g>
<g id="xtick_71">
<g id="line2d_129">
<g>
<use href="#me9cd61fec0" x="204.12" y="999.54" style="stroke: #000000; stroke-width: 0.8"/>
</g>
</g>
<g id="text_31">
<g transform="translate(192.0449 1045.3731) rotate(-45) scale(0.15 -0.15)">
<use href="#DejaVuSans-30"/>
<use href="#DejaVuSans-2e" transform="translate(62.4142 0)"/>
<use href="#DejaVuSans-31" transform="translate(93.5974 0)"/>
<use href="#DejaVuSans-32" transform="translate(156.0116 0)"/>
<use href="#DejaVuSans-35" transform="translate(218.4258 0)"/>
</g>
</g>
</g>
<g id="text_32">
<g transform="translate(134.28 1057.593656) scale(0.15 -0.15)">
<use href="#DejaVuSans-Oblique-50" transform="translate(0 0.09375)"/>
<use href="#DejaVuSans-Oblique-62" transform="translate(60.302734 -14.671875) scale(0.7)"/>
</g>
</g>
</g>
<g id="matplotlib.axis_32">
<g id="ytick_44">
<g id="line2d_130">
<g>
<use href="#m2ecc1fbad5" x="64.62" y="993.6" style="stroke: #000000; stroke-width: 0.8"/>
</g>
</g>
<g id="text_33">
<g transform="translate(25.0724 1026.8643) rotate(-45) scale(0.15 -0.15)">
<use href="#DejaVuSans-30"/>
<use href="#DejaVuSans-2e" transform="translate(62.4142 0)"/>
<use href="#DejaVuSans-34" transform="translate(93.5974 0)"/>
<use href="#DejaVuSans-35" transform="translate(156.0116 0)"/>
<use href="#DejaVuSans-30" transform="translate(218.4258 0)"/>
</g>
</g>
</g>
<g id="ytick_45">
<g id="line2d_131">
<g>
<use href="#m2ecc1fbad5" x="64.62" y="957.96" style="stroke: #000000; stroke-width: 0.8"/>
</g>
</g>
<g id="text_34">
<g transform="translate(25.0724 991.2243) rotate(-45) scale(0.15 -0.15)">
<use href="#DejaVuSans-30"/>
<use href="#DejaVuSans-2e" transform="translate(62.4142 0)"/>
<use href="#DejaVuSans-34" transform="translate(93.5974 0)"/>
<use href="#DejaVuSans-35" transform="translate(156.0116 0)"/>
<use href="#DejaVuSans-36" transform="translate(218.4258 0)"/>
</g>
</g>
</g>
<g id="ytick_46">
<g id="line2d_132">
<g>
<use href="#m2ecc1fbad5" x="64.62" y="922.68" style="stroke: #000000; stroke-width: 0.8"/>
</g>
</g>
<g id="text_35">
<g transform="translate(25.0724 955.9443) rotate(-45) scale(0.15 -0.15)">
<use href="#DejaVuSans-30"/>
<use href="#DejaVuSans-2e" transform="translate(62.4142 0)"/>
<use href="#DejaVuSans-34" transform="translate(93.5974 0)"/>
<use href="#DejaVuSans-36" transform="translate(156.0116 0)"/>
<use href="#DejaVuSans-32" transform="translate(218.4258 0)"/>
</g>
</g>
</g>
<g id="ytick_47">
<g id="line2d_133">
<g>
<use href="#m2ecc1fbad5" x="64.62" y="887.04" style="stroke: #000000; stroke-width: 0.8"/>
</g>
</g>
<g id="text_36">
<g transform="translate(25.0724 920.3043) rotate(-45) scale(0.15 -0.15)">
<use href="#DejaVuSans-30"/>
<use href="#DejaVuSans-2e" transform="translate(62.4142 0)"/>
<use href="#DejaVuSans-34" transform="translate(93.5974 0)"/>
<use href="#DejaVuSans-36" transform="translate(156.0116 0)"/>
<use href="#DejaVuSans-38" transform="translate(218.4258 0)"/>
</g>
</g>
</g>
<g id="ytick_48">
<g id="line2d_134">
<g>
<use href="#m2ecc1fbad5" x="64.62" y="851.4" style="stroke: #000000; stroke-width: 0.8"/>
</g>
</g>
<g id="text_37">
<g transform="translate(25.0724 884.6643) rotate(-45) scale(0.15 -0.15)">
<use href="#DejaVuSans-30"/>
<use href="#DejaVuSans-2e" transform="translate(62.4142 0)"/>
<use href="#DejaVuSans-34" transform="translate(93.5974 0)"/>
<use href="#DejaVuSans-37" transform="translate(156.0116 0)"/>
<use href="#DejaVuSans-34" transform="translate(218.4258 0)"/>
</g>
</g>
</g>
<g id="text_38">
<g transform="translate(14.844469 927.390937) rotate(-90) scale(0.15 -0.15)">
<defs>
<path id="DejaVuSans-4e" d="M 628 4666 
L 1478 4666 
L 3547 763 
L 3547 4666 
L 4159 4666 
L 4159 0 
L 3309 0 
L 1241 3903 
L 1241 0 
L 628 0 
L 628 4666 
z
" transform="scale(0.015625)"/>
</defs>
<use href="#DejaVuSans-4e"/>
</g>
</g>
</g>
<g id="patch_127">
<path d="M 64.62 999.54 
L 64.62 844.02 
" style="fill: none; stroke: #000000; stroke-width: 0.5; stroke-linejoin: miter; stroke-linecap: square"/>
</g>
<g id="patch_128">
<path d="M 220.14 999.54 
L 220.14 844.02 
" style="fill: none; stroke: #000000; stroke-width: 0.5; stroke-linejoin: miter; stroke-linecap: square"/>
</g>
<g id="patch_129">
<path d="M 64.62 999.54 
L 220.14 999.54 
" style="fill: none; stroke: #000000; stroke-width: 0.5; stroke-linejoin: miter; stroke-linecap: square"/>
</g>
<g id="patch_130">
<path d="M 64.62 844.02 
L 220.14 844.02 
" style="fill: none; stroke: #000000; stroke-width: 0.5; stroke-linejoin: miter; stroke-linecap: square"/>
</g>
</g>
<g id="axes_17">
<g id="patch_131">
<path d="M 228.06 999.54 
L 383.22 999.54 
L 383.22 844.02 
L 228.06 844.02 
z
" style="fill: #ffffff"/>
</g>
<g id="patch_132">
<path d="M 292.47644 887.899476 
C 293.230366 887.76377 293.720419 888.080419 294.512042 888.442304 
C 295.303665 888.804188 296.246073 889.595812 297.226178 890.070785 
C 298.206283 890.545759 299.337173 890.937801 300.39267 891.292147 
C 301.448168 891.646492 302.503665 891.895288 303.559162 892.196859 
C 304.61466 892.498429 305.820942 892.762304 306.725654 893.101571 
C 307.630366 893.440838 308.233508 893.667016 308.987435 894.232461 
C 309.741361 894.797906 310.495288 895.77801 311.249215 896.494241 
C 312.003141 897.210471 312.681675 897.851309 313.510995 898.529843 
C 314.340314 899.208377 315.395812 899.886911 316.225131 900.565445 
C 317.05445 901.243979 317.808377 901.960209 318.486911 902.601047 
C 319.165445 903.241885 319.542408 903.829948 320.296335 904.410471 
C 321.050262 904.990995 322.181152 905.518743 323.010471 906.084188 
C 323.839791 906.649634 324.518325 907.177382 325.272251 907.803141 
C 326.026178 908.428901 326.893194 909.273298 327.534031 909.838743 
C 328.174869 910.404188 328.740314 910.630366 329.117277 911.195812 
C 329.494241 911.761257 329.720419 912.439791 329.795812 913.231414 
C 329.871204 914.023037 329.494241 914.965445 329.569634 915.94555 
C 329.645026 916.925654 330.097382 918.20733 330.248168 919.112042 
C 330.398953 920.016754 330.549738 920.544503 330.474346 921.373822 
C 330.398953 922.203141 330.097382 923.183246 329.795812 924.087958 
C 329.494241 924.99267 328.928796 925.897382 328.664921 926.802094 
C 328.401047 927.706806 328.325654 928.611518 328.212565 929.51623 
C 328.099476 930.420942 328.137173 931.325654 327.986387 932.230366 
C 327.835602 933.135079 327.571728 933.889005 327.307853 934.944503 
C 327.043979 936 326.667016 937.470157 326.403141 938.563351 
C 326.139267 939.656545 326.063874 940.749738 325.724607 941.503665 
C 325.38534 942.257592 325.046073 942.747644 324.367539 943.086911 
C 323.689005 943.426178 322.633508 943.426178 321.653403 943.539267 
C 320.673298 943.652356 319.391623 943.539267 318.486911 943.765445 
C 317.582199 943.991623 316.903665 944.406283 316.225131 944.896335 
C 315.546597 945.386387 314.943455 946.064921 314.415707 946.705759 
C 313.887958 947.346597 313.360209 948.062827 313.058639 948.741361 
C 312.757068 949.419895 312.719372 950.060733 312.606283 950.776963 
C 312.493194 951.493194 312.643979 952.322513 312.380105 953.038743 
C 312.11623 953.754974 311.663874 954.62199 311.023037 955.074346 
C 310.382199 955.526702 309.477487 955.715183 308.535079 955.75288 
C 307.59267 955.790576 306.424084 955.489005 305.368586 955.300524 
C 304.313089 955.112042 303.257592 954.92356 302.202094 954.62199 
C 301.146597 954.320419 300.091099 953.754974 299.035602 953.491099 
C 297.980105 953.227225 296.849215 953.038743 295.86911 953.038743 
C 294.889005 953.038743 294.059686 953.227225 293.154974 953.491099 
C 292.250262 953.754974 291.34555 954.20733 290.440838 954.62199 
C 289.536126 955.036649 288.556021 955.715183 287.726702 955.979058 
C 286.897382 956.242932 286.294241 956.242932 285.464921 956.205236 
C 284.635602 956.167539 283.655497 955.979058 282.750785 955.75288 
C 281.846073 955.526702 280.865969 955.300524 280.036649 954.848168 
C 279.20733 954.395812 278.415707 953.717277 277.774869 953.038743 
C 277.134031 952.360209 276.757068 951.53089 276.191623 950.776963 
C 275.626178 950.023037 275.023037 949.156021 274.382199 948.515183 
C 273.741361 947.874346 273.062827 947.474764 272.346597 946.931937 
C 271.630366 946.38911 270.650262 945.97445 270.084817 945.25822 
C 269.519372 944.54199 269.195183 943.599581 268.953927 942.634555 
C 268.71267 941.669529 268.750366 940.448168 268.637277 939.468063 
C 268.524188 938.487958 268.524188 937.658639 268.275393 936.753927 
C 268.026597 935.849215 267.634555 934.982199 267.144503 934.039791 
C 266.65445 933.097382 265.900524 932.154974 265.335079 931.099476 
C 264.769634 930.043979 264.106178 928.8 263.751832 927.706806 
C 263.397487 926.613613 263.322094 925.595812 263.209005 924.540314 
C 263.095916 923.484817 263.209005 922.429319 263.073298 921.373822 
C 262.937592 920.318325 262.568168 919.187435 262.394764 918.20733 
C 262.221361 917.227225 261.957487 916.360209 262.03288 915.493194 
C 262.108272 914.626178 262.33445 913.834555 262.84712 913.005236 
C 263.359791 912.175916 264.430366 911.346597 265.108901 910.517277 
C 265.787435 909.687958 266.315183 908.858639 266.918325 908.029319 
C 267.521466 907.2 268.049215 906.332984 268.727749 905.541361 
C 269.406283 904.749738 270.235602 904.071204 270.989529 903.279581 
C 271.743455 902.487958 272.497382 901.734031 273.251309 900.791623 
C 274.005236 899.849215 274.68377 898.567539 275.513089 897.625131 
C 276.342408 896.682723 277.24712 895.815707 278.227225 895.137173 
C 279.20733 894.458639 280.33822 894.006283 281.393717 893.553927 
C 282.449215 893.101571 283.580105 892.837696 284.560209 892.423037 
C 285.540314 892.008377 286.369634 891.593717 287.274346 891.065969 
C 288.179058 890.53822 289.121466 889.784293 289.988482 889.256545 
C 290.855497 888.728796 291.722513 888.035183 292.47644 887.899476 
z
" clip-path="url(#p811bba57eb)" style="fill: #cccccc; stroke: #000000; stroke-width: 0.8"/>
</g>
<g id="patch_133">
<path d="M 289.536126 898.756021 
C 290.365445 898.756021 291.270157 898.831414 292.250262 898.982199 
C 293.230366 899.132984 294.436649 899.434555 295.416754 899.660733 
C 296.396859 899.886911 297.150785 900.188482 298.13089 900.339267 
C 299.110995 900.490052 300.241885 900.490052 301.297382 900.565445 
C 302.35288 900.640838 303.48377 900.640838 304.463874 900.791623 
C 305.443979 900.942408 306.273298 901.093194 307.17801 901.470157 
C 308.082723 901.84712 309.062827 902.412565 309.892147 903.053403 
C 310.721466 903.694241 311.475393 904.448168 312.153927 905.315183 
C 312.832461 906.182199 313.435602 907.237696 313.963351 908.255497 
C 314.491099 909.273298 314.868063 910.366492 315.320419 911.42199 
C 315.772775 912.477487 316.225131 913.646073 316.677487 914.588482 
C 317.129843 915.53089 317.582199 916.322513 318.034555 917.07644 
C 318.486911 917.830366 319.029738 918.508901 319.391623 919.112042 
C 319.753508 919.715183 320.205864 920.05445 320.205864 920.695288 
C 320.205864 921.336126 319.828901 922.127749 319.391623 922.957068 
C 318.954346 923.786387 318.034555 924.728796 317.582199 925.671204 
C 317.129843 926.613613 316.865969 927.593717 316.677487 928.611518 
C 316.489005 929.629319 316.602094 930.722513 316.451309 931.77801 
C 316.300524 932.833508 316.262827 934.039791 315.772775 934.944503 
C 315.282723 935.849215 314.415707 936.527749 313.510995 937.206283 
C 312.606283 937.884817 311.249215 938.374869 310.344503 939.015707 
C 309.439791 939.656545 308.836649 940.297382 308.082723 941.051309 
C 307.328796 941.805236 306.650262 942.823037 305.820942 943.539267 
C 304.991623 944.255497 304.011518 944.858639 303.106806 945.348691 
C 302.202094 945.838743 301.297382 946.215707 300.39267 946.479581 
C 299.487958 946.743455 298.734031 946.894241 297.678534 946.931937 
C 296.623037 946.969634 295.190576 946.668063 294.059686 946.705759 
C 292.928796 946.743455 291.948691 947.022408 290.893194 947.158115 
C 289.837696 947.293822 288.556021 947.595393 287.726702 947.52 
C 286.897382 947.444607 286.520419 947.10534 285.917277 946.705759 
C 285.314136 946.306178 284.710995 945.612565 284.107853 945.122513 
C 283.504712 944.632461 282.976963 944.119791 282.298429 943.765445 
C 281.619895 943.411099 280.790576 943.29801 280.036649 942.99644 
C 279.282723 942.694869 278.393089 942.468691 277.774869 941.956021 
C 277.156649 941.443351 276.689215 940.712042 276.32733 939.920419 
C 275.965445 939.128796 275.852356 938.035602 275.60356 937.206283 
C 275.354764 936.376963 275.226597 935.660733 274.834555 934.944503 
C 274.442513 934.228272 273.929843 933.662827 273.251309 932.908901 
C 272.572775 932.154974 271.441885 931.250262 270.763351 930.420942 
C 270.084817 929.591623 269.459058 928.762304 269.180105 927.932984 
C 268.901152 927.103665 268.901152 926.236649 269.089634 925.445026 
C 269.278115 924.653403 269.84356 923.974869 270.310995 923.183246 
C 270.778429 922.391623 271.517277 921.6 271.894241 920.695288 
C 272.271204 919.790576 272.346597 918.848168 272.572775 917.754974 
C 272.798953 916.66178 273.062827 915.342408 273.251309 914.136126 
C 273.439791 912.929843 273.439791 911.572775 273.703665 910.517277 
C 273.967539 909.46178 274.231414 908.670157 274.834555 907.803141 
C 275.437696 906.936126 276.380105 906.031414 277.322513 905.315183 
C 278.264921 904.598953 279.584293 904.108901 280.489005 903.505759 
C 281.393717 902.902618 281.996859 902.299476 282.750785 901.696335 
C 283.504712 901.093194 284.258639 900.339267 285.012565 899.886911 
C 285.766492 899.434555 286.520419 899.170681 287.274346 898.982199 
C 288.028272 898.793717 288.706806 898.756021 289.536126 898.756021 
z
" clip-path="url(#p811bba57eb)" style="fill: #999999; stroke: #000000; stroke-width: 0.8"/>
</g>
<g id="patch_134">
<path d="M 289.988482 906.446073 
C 290.968586 906.370681 291.797906 906.732565 292.702618 906.898429 
C 293.60733 907.064293 294.512042 907.290471 295.416754 907.441257 
C 296.321466 907.592042 297.301571 907.592042 298.13089 907.803141 
C 298.960209 908.014241 299.638743 908.217801 300.39267 908.707853 
C 301.146597 909.197906 301.900524 909.989529 302.65445 910.743455 
C 303.408377 911.497382 304.162304 912.477487 304.91623 913.231414 
C 305.670157 913.98534 306.537173 914.550785 307.17801 915.267016 
C 307.818848 915.983246 308.42199 916.737173 308.761257 917.528796 
C 309.100524 918.320419 309.100524 919.074346 309.213613 920.016754 
C 309.326702 920.959162 309.417173 922.127749 309.439791 923.183246 
C 309.462408 924.238743 309.462408 925.369634 309.349319 926.349738 
C 309.23623 927.329843 309.123141 928.234555 308.761257 929.063874 
C 308.399372 929.893194 307.894241 930.609424 307.17801 931.325654 
C 306.46178 932.041885 305.368586 932.758115 304.463874 933.361257 
C 303.559162 933.964398 302.65445 934.379058 301.749738 934.944503 
C 300.845026 935.509948 299.864921 936.226178 299.035602 936.753927 
C 298.206283 937.281675 297.527749 937.771728 296.773822 938.110995 
C 296.019895 938.450262 295.341361 938.653822 294.512042 938.789529 
C 293.682723 938.925236 292.551832 939.038325 291.797906 938.925236 
C 291.043979 938.812147 290.667016 938.585969 289.988482 938.110995 
C 289.309948 937.636021 288.480628 936.71623 287.726702 936.075393 
C 286.972775 935.434555 286.218848 934.906806 285.464921 934.265969 
C 284.710995 933.625131 283.957068 932.946597 283.203141 932.230366 
C 282.449215 931.514136 281.657592 930.684817 280.941361 929.968586 
C 280.225131 929.252356 279.433508 928.536126 278.905759 927.932984 
C 278.37801 927.329843 277.925654 926.990576 277.774869 926.349738 
C 277.624084 925.708901 277.774869 924.917277 278.001047 924.087958 
C 278.227225 923.258639 278.717277 922.278534 279.131937 921.373822 
C 279.546597 920.46911 280.187435 919.564398 280.489005 918.659686 
C 280.790576 917.754974 280.828272 916.850262 280.941361 915.94555 
C 281.05445 915.040838 280.979058 914.098429 281.167539 913.231414 
C 281.356021 912.364398 281.582199 911.497382 282.072251 910.743455 
C 282.562304 909.989529 283.31623 909.273298 284.107853 908.707853 
C 284.899476 908.142408 285.841885 907.727749 286.82199 907.350785 
C 287.802094 906.973822 289.008377 906.521466 289.988482 906.446073 
z
" clip-path="url(#p811bba57eb)" style="fill: #666666; stroke: #000000; stroke-width: 0.8"/>
</g>
<g id="patch_135">
<path d="M 293.833508 916.171728 
C 294.587435 916.134031 295.15288 916.812565 295.86911 917.302618 
C 296.58534 917.79267 297.452356 918.508901 298.13089 919.112042 
C 298.809424 919.715183 299.525654 920.242932 299.940314 920.921466 
C 300.354974 921.6 300.505759 922.353927 300.618848 923.183246 
C 300.731937 924.012565 300.543455 924.99267 300.618848 925.897382 
C 300.694241 926.802094 301.033508 927.782199 301.071204 928.611518 
C 301.108901 929.440838 301.108901 930.194764 300.845026 930.873298 
C 300.581152 931.551832 300.091099 932.19267 299.487958 932.682723 
C 298.884817 933.172775 298.055497 933.549738 297.226178 933.813613 
C 296.396859 934.077487 295.416754 934.303665 294.512042 934.265969 
C 293.60733 934.228272 292.627225 933.926702 291.797906 933.587435 
C 290.968586 933.248168 290.176963 932.833508 289.536126 932.230366 
C 288.895288 931.627225 288.405236 930.760209 287.95288 929.968586 
C 287.500524 929.176963 287.176335 928.234555 286.82199 927.480628 
C 286.467644 926.726702 286.015288 926.12356 285.826806 925.445026 
C 285.638325 924.766492 285.525236 924.050262 285.691099 923.409424 
C 285.856963 922.768586 286.256545 922.240838 286.82199 921.6 
C 287.387435 920.959162 288.329843 920.242932 289.08377 919.564398 
C 289.837696 918.885864 290.553927 918.094241 291.34555 917.528796 
C 292.137173 916.963351 293.079581 916.209424 293.833508 916.171728 
z
" clip-path="url(#p811bba57eb)" style="stroke: #000000; stroke-width: 0.8"/>
</g>
<g id="matplotlib.axis_33">
<g id="xtick_72">
<g id="line2d_135">
<g>
<use href="#me9cd61fec0" x="243.36" y="999.54" style="stroke: #000000; stroke-width: 0.8"/>
</g>
</g>
<g id="text_39">
<g transform="translate(234.5950 1038.7529) rotate(-45) scale(0.15 -0.15)">
<use href="#DejaVuSans-30"/>
<use href="#DejaVuSans-2e" transform="translate(62.4142 0)"/>
<use href="#DejaVuSans-30" transform="translate(93.5974 0)"/>
<use href="#DejaVuSans-36" transform="translate(156.0116 0)"/>
</g>
</g>
</g>
<g id="xtick_73">
<g id="line2d_136">
<g>
<use href="#me9cd61fec0" x="278.28" y="999.54" style="stroke: #000000; stroke-width: 0.8"/>
</g>
</g>
<g id="text_40">
<g transform="translate(269.5150 1038.7529) rotate(-45) scale(0.15 -0.15)">
<use href="#DejaVuSans-30"/>
<use href="#DejaVuSans-2e" transform="translate(62.4142 0)"/>
<use href="#DejaVuSans-30" transform="translate(93.5974 0)"/>
<use href="#DejaVuSans-38" transform="translate(156.0116 0)"/>
</g>
</g>
</g>
<g id="xtick_74">
<g id="line2d_137">
<g>
<use href="#me9cd61fec0" x="312.84" y="999.54" style="stroke: #000000; stroke-width: 0.8"/>
</g>
</g>
<g id="text_41">
<g transform="translate(304.0750 1038.7529) rotate(-45) scale(0.15 -0.15)">
<use href="#DejaVuSans-30"/>
<use href="#DejaVuSans-2e" transform="translate(62.4142 0)"/>
<use href="#DejaVuSans-31" transform="translate(93.5974 0)"/>
<use href="#DejaVuSans-30" transform="translate(156.0116 0)"/>
</g>
</g>
</g>
<g id="xtick_75">
<g id="line2d_138">
<g>
<use href="#me9cd61fec0" x="347.76" y="999.54" style="stroke: #000000; stroke-width: 0.8"/>
</g>
</g>
<g id="text_42">
<g transform="translate(338.9950 1038.7529) rotate(-45) scale(0.15 -0.15)">
<use href="#DejaVuSans-30"/>
<use href="#DejaVuSans-2e" transform="translate(62.4142 0)"/>
<use href="#DejaVuSans-31" transform="translate(93.5974 0)"/>
<use href="#DejaVuSans-32" transform="translate(156.0116 0)"/>
</g>
</g>
</g>
<g id="xtick_76">
<g id="line2d_139">
<g>
<use href="#me9cd61fec0" x="382.68" y="999.54" style="stroke: #000000; stroke-width: 0.8"/>
</g>
</g>
<g id="text_43">
<g transform="translate(373.9150 1038.7529) rotate(-45) scale(0.15 -0.15)">
<use href="#DejaVuSans-30"/>
<use href="#DejaVuSans-2e" transform="translate(62.4142 0)"/>
<use href="#DejaVuSans-31" transform="translate(93.5974 0)"/>
<use href="#DejaVuSans-34" transform="translate(156.0116 0)"/>
</g>
</g>
</g>
<g id="text_44">
<g transform="translate(291.015 1057.593656) scale(0.15 -0.15)">
<use href="#DejaVuSans-Oblique-73"/>
<use href="#DejaVuSans-Oblique-66" transform="translate(52.099609 -14.765625) scale(0.7)"/>
<use href="#DejaVuSans-Oblique-6f" transform="translate(76.743164 -14.765625) scale(0.7)"/>
<use href="#DejaVuSans-Oblique-72" transform="translate(119.570312 -14.765625) scale(0.7)"/>
<use href="#DejaVuSans-Oblique-65" transform="translate(148.349609 -14.765625) scale(0.7)"/>
</g>
</g>
</g>
<g id="matplotlib.axis_34">
<g id="ytick_49">
<g id="line2d_140">
<g>
<use href="#m2ecc1fbad5" x="228.06" y="993.6" style="stroke: #000000; stroke-width: 0.8"/>
</g>
</g>
</g>
<g id="ytick_50">
<g id="line2d_141">
<g>
<use href="#m2ecc1fbad5" x="228.06" y="957.96" style="stroke: #000000; stroke-width: 0.8"/>
</g>
</g>
</g>
<g id="ytick_51">
<g id="line2d_142">
<g>
<use href="#m2ecc1fbad5" x="228.06" y="922.68" style="stroke: #000000; stroke-width: 0.8"/>
</g>
</g>
</g>
<g id="ytick_52">
<g id="line2d_143">
<g>
<use href="#m2ecc1fbad5" x="228.06" y="887.04" style="stroke: #000000; stroke-width: 0.8"/>
</g>
</g>
</g>
<g id="ytick_53">
<g id="line2d_144">
<g>
<use href="#m2ecc1fbad5" x="228.06" y="851.4" style="stroke: #000000; stroke-width: 0.8"/>
</g>
</g>
</g>
</g>
<g id="patch_136">
<path d="M 228.06 999.54 
L 228.06 844.02 
" style="fill: none; stroke: #000000; stroke-width: 0.5; stroke-linejoin: miter; stroke-linecap: square"/>
</g>
<g id="patch_137">
<path d="M 383.22 999.54 
L 383.22 844.02 
" style="fill: none; stroke: #000000; stroke-width: 0.5; stroke-linejoin: miter; stroke-linecap: square"/>
</g>
<g id="patch_138">
<path d="M 228.06 999.54 
L 383.22 999.54 
" style="fill: none; stroke: #000000; stroke-width: 0.5; stroke-linejoin: miter; stroke-linecap: square"/>
</g>
<g id="patch_139">
<path d="M 228.06 844.02 
L 383.22 844.02 
" style="fill: none; stroke: #000000; stroke-width: 0.5; stroke-linejoin: miter; stroke-linecap: square"/>
</g>
</g>
<g id="axes_18">
<g id="patch_140">
<path d="M 391.14 999.54 
L 546.66 999.54 
L 546.66 844.02 
L 391.14 844.02 
z
" style="fill: #ffffff"/>
</g>
<g id="patch_141">
<path d="M 445.693194 888.804188 
C 446.409424 888.78911 447.502618 889.030366 448.40733 889.166073 
C 449.312042 889.30178 450.216754 889.362094 451.121466 889.618429 
C 452.026178 889.874764 453.006283 890.387435 453.835602 890.704084 
C 454.664921 891.020733 455.268063 891.397696 456.097382 891.518325 
C 456.926702 891.638953 457.982199 891.427853 458.811518 891.427853 
C 459.640838 891.427853 460.394764 891.314764 461.073298 891.518325 
C 461.751832 891.721885 462.204188 892.159162 462.882723 892.649215 
C 463.561257 893.139267 464.315183 893.93089 465.144503 894.458639 
C 465.973822 894.986387 466.953927 895.401047 467.858639 895.815707 
C 468.763351 896.230366 469.743455 896.494241 470.572775 896.946597 
C 471.402094 897.398953 472.156021 897.889005 472.834555 898.529843 
C 473.513089 899.170681 474.078534 900.150785 474.643979 900.791623 
C 475.209424 901.432461 475.548691 901.884817 476.227225 902.374869 
C 476.905759 902.864921 478.036649 903.204188 478.715183 903.731937 
C 479.393717 904.259686 479.921466 904.787435 480.298429 905.541361 
C 480.675393 906.295288 480.788482 907.350785 480.976963 908.255497 
C 481.165445 909.160209 481.165445 910.140314 481.429319 910.969634 
C 481.693194 911.798953 482.14555 912.477487 482.560209 913.231414 
C 482.974869 913.98534 483.517696 914.739267 483.917277 915.493194 
C 484.316859 916.24712 484.769215 917.07644 484.957696 917.754974 
C 485.146178 918.433508 485.221571 918.92356 485.048168 919.564398 
C 484.874764 920.205236 484.369634 920.921466 483.917277 921.6 
C 483.464921 922.278534 482.710995 922.919372 482.334031 923.635602 
C 481.957068 924.351832 481.73089 924.99267 481.655497 925.897382 
C 481.580105 926.802094 481.73089 928.08377 481.881675 929.063874 
C 482.032461 930.043979 482.522513 931.024084 482.560209 931.77801 
C 482.597906 932.531937 482.44712 932.946597 482.107853 933.587435 
C 481.768586 934.228272 480.863874 934.86911 480.524607 935.623037 
C 480.18534 936.376963 480.223037 937.243979 480.072251 938.110995 
C 479.921466 938.97801 479.921466 940.033508 479.619895 940.825131 
C 479.318325 941.616754 478.865969 942.144503 478.262827 942.860733 
C 477.659686 943.576963 476.679581 944.368586 476.001047 945.122513 
C 475.322513 945.87644 474.94555 946.781152 474.191623 947.384293 
C 473.437696 947.987435 472.532984 948.364398 471.477487 948.741361 
C 470.42199 949.118325 469.064921 949.457592 467.858639 949.646073 
C 466.652356 949.834555 465.295288 949.759162 464.239791 949.872251 
C 463.184293 949.98534 462.279581 949.98534 461.525654 950.324607 
C 460.771728 950.663874 460.319372 951.304712 459.71623 951.907853 
C 459.113089 952.510995 458.58534 953.415707 457.906806 953.943455 
C 457.228272 954.471204 456.474346 954.92356 455.645026 955.074346 
C 454.815707 955.225131 453.986387 954.961257 452.93089 954.848168 
C 451.875393 954.735079 450.442932 954.448586 449.312042 954.395812 
C 448.181152 954.343037 447.201047 954.433508 446.14555 954.531518 
C 445.090052 954.629529 443.808377 955.006492 442.979058 954.983874 
C 442.149738 954.961257 441.848168 954.757696 441.169634 954.395812 
C 440.491099 954.033927 439.586387 953.264921 438.907853 952.812565 
C 438.229319 952.360209 437.701571 951.94555 437.098429 951.681675 
C 436.495288 951.417801 435.892147 951.169005 435.289005 951.229319 
C 434.685864 951.289634 434.045026 951.817382 433.479581 952.04356 
C 432.914136 952.269738 432.386387 952.609005 431.896335 952.586387 
C 431.406283 952.56377 430.953927 952.284817 430.539267 951.907853 
C 430.124607 951.53089 429.973822 950.739267 429.408377 950.324607 
C 428.842932 949.909948 427.975916 949.796859 427.146597 949.419895 
C 426.317277 949.042932 425.186387 948.665969 424.432461 948.062827 
C 423.678534 947.459686 423.150785 946.705759 422.623037 945.801047 
C 422.095288 944.896335 421.567539 943.690052 421.265969 942.634555 
C 420.964398 941.579058 420.851309 940.297382 420.813613 939.468063 
C 420.775916 938.638743 421.115183 938.337173 421.039791 937.658639 
C 420.964398 936.980105 420.700524 936.226178 420.361257 935.396859 
C 420.02199 934.567539 419.343455 933.512042 419.004188 932.682723 
C 418.664921 931.853403 418.385969 931.325654 418.325654 930.420942 
C 418.26534 929.51623 418.566911 928.309948 418.642304 927.25445 
C 418.717696 926.198953 418.68 925.143455 418.77801 924.087958 
C 418.876021 923.032461 419.041885 921.976963 419.230366 920.921466 
C 419.418848 919.865969 419.682723 918.810471 419.908901 917.754974 
C 420.135079 916.699476 420.285864 915.643979 420.587435 914.588482 
C 420.889005 913.532984 421.228272 912.55288 421.718325 911.42199 
C 422.208377 910.291099 422.849215 908.896335 423.527749 907.803141 
C 424.206283 906.709948 424.960209 905.767539 425.789529 904.862827 
C 426.618848 903.958115 427.52356 903.279581 428.503665 902.374869 
C 429.48377 901.470157 430.61466 900.339267 431.670157 899.434555 
C 432.725654 898.529843 433.781152 897.662827 434.836649 896.946597 
C 435.892147 896.230366 437.023037 895.664921 438.003141 895.137173 
C 438.983246 894.609424 440.038743 894.194764 440.717277 893.780105 
C 441.395812 893.365445 441.697382 893.139267 442.074346 892.649215 
C 442.451309 892.159162 442.639791 891.405236 442.979058 890.839791 
C 443.318325 890.274346 443.657592 889.595812 444.109948 889.256545 
C 444.562304 888.917277 444.976963 888.819267 445.693194 888.804188 
z
" clip-path="url(#p585a387f24)" style="fill: #cccccc; stroke: #000000; stroke-width: 0.8"/>
</g>
<g id="patch_142">
<path d="M 452.704712 898.077487 
C 453.458639 898.15288 453.948691 898.379058 454.740314 898.756021 
C 455.531937 899.132984 456.549738 899.826597 457.45445 900.339267 
C 458.359162 900.851937 459.263874 901.417382 460.168586 901.832042 
C 461.073298 902.246702 461.97801 902.57089 462.882723 902.827225 
C 463.787435 903.08356 464.767539 903.143874 465.596859 903.370052 
C 466.426178 903.59623 467.217801 903.784712 467.858639 904.184293 
C 468.499476 904.583874 468.989529 905.051309 469.441885 905.767539 
C 469.894241 906.48377 470.158115 907.61466 470.572775 908.481675 
C 470.987435 909.348691 471.477487 910.17801 471.929843 910.969634 
C 472.382199 911.761257 472.947644 912.477487 473.286911 913.231414 
C 473.626178 913.98534 473.81466 914.588482 473.965445 915.493194 
C 474.11623 916.397906 474.11623 917.604188 474.191623 918.659686 
C 474.267016 919.715183 474.380105 920.695288 474.417801 921.826178 
C 474.455497 922.957068 474.493194 924.314136 474.417801 925.445026 
C 474.342408 926.575916 474.304712 927.66911 473.965445 928.611518 
C 473.626178 929.553927 473.023037 930.307853 472.382199 931.099476 
C 471.741361 931.891099 470.874346 932.645026 470.120419 933.361257 
C 469.366492 934.077487 468.46178 934.680628 467.858639 935.396859 
C 467.255497 936.113089 466.878534 936.867016 466.501571 937.658639 
C 466.124607 938.450262 465.973822 939.468063 465.596859 940.146597 
C 465.219895 940.825131 464.918325 941.164398 464.239791 941.729843 
C 463.561257 942.295288 462.430366 942.973822 461.525654 943.539267 
C 460.620942 944.104712 459.71623 944.707853 458.811518 945.122513 
C 457.906806 945.537173 457.077487 945.823665 456.097382 946.027225 
C 455.117277 946.230785 454.06178 946.245864 452.93089 946.343874 
C 451.8 946.441885 450.442932 946.615288 449.312042 946.615288 
C 448.181152 946.615288 447.201047 946.464503 446.14555 946.343874 
C 445.090052 946.223246 443.959162 946.057382 442.979058 945.891518 
C 441.998953 945.725654 441.169634 945.627644 440.264921 945.348691 
C 439.360209 945.069738 438.455497 944.670157 437.550785 944.217801 
C 436.646073 943.765445 435.665969 943.162304 434.836649 942.634555 
C 434.00733 942.106806 433.140314 941.692147 432.574869 941.051309 
C 432.009424 940.410471 431.783246 939.618848 431.443979 938.789529 
C 431.104712 937.960209 430.953927 936.904712 430.539267 936.075393 
C 430.124607 935.246073 429.48377 934.529843 428.956021 933.813613 
C 428.428272 933.097382 427.787435 932.531937 427.372775 931.77801 
C 426.958115 931.024084 426.716859 930.270157 426.468063 929.290052 
C 426.219267 928.309948 425.955393 926.990576 425.88 925.897382 
C 425.804607 924.804188 425.917696 923.786387 426.015707 922.73089 
C 426.113717 921.675393 426.430366 920.544503 426.468063 919.564398 
C 426.505759 918.584293 426.264503 917.754974 426.241885 916.850262 
C 426.219267 915.94555 426.106178 915.003141 426.332356 914.136126 
C 426.558534 913.26911 426.935497 912.477487 427.598953 911.648168 
C 428.262408 910.818848 429.48377 909.989529 430.313089 909.160209 
C 431.142408 908.33089 431.820942 907.463874 432.574869 906.672251 
C 433.328796 905.880628 433.931937 905.164398 434.836649 904.410471 
C 435.741361 903.656545 437.023037 902.827225 438.003141 902.148691 
C 438.983246 901.470157 439.812565 900.791623 440.717277 900.339267 
C 441.62199 899.886911 442.375916 899.660733 443.431414 899.434555 
C 444.486911 899.208377 445.919372 899.170681 447.050262 898.982199 
C 448.181152 898.793717 449.274346 898.45445 450.216754 898.303665 
C 451.159162 898.15288 451.950785 898.002094 452.704712 898.077487 
z
" clip-path="url(#p585a387f24)" style="fill: #999999; stroke: #000000; stroke-width: 0.8"/>
</g>
<g id="patch_143">
<path d="M 442.526702 906.672251 
C 443.506806 906.619476 444.637696 906.860733 445.693194 907.034136 
C 446.748691 907.207539 447.879581 907.471414 448.859686 907.71267 
C 449.839791 907.953927 450.744503 908.240419 451.573822 908.481675 
C 452.403141 908.722932 452.968586 909.04712 453.835602 909.160209 
C 454.702618 909.273298 455.946597 908.971728 456.775916 909.160209 
C 457.605236 909.348691 458.095288 909.823665 458.811518 910.291099 
C 459.527749 910.758534 460.432461 911.323979 461.073298 911.964817 
C 461.714136 912.605654 462.317277 913.359581 462.656545 914.136126 
C 462.995812 914.91267 463.033508 915.719372 463.108901 916.624084 
C 463.184293 917.528796 462.995812 918.697382 463.108901 919.564398 
C 463.22199 920.431414 463.448168 921.072251 463.787435 921.826178 
C 464.126702 922.580105 464.729843 923.334031 465.144503 924.087958 
C 465.559162 924.841885 466.064293 925.671204 466.275393 926.349738 
C 466.486492 927.028272 466.599581 927.556021 466.411099 928.159162 
C 466.222618 928.762304 465.732565 929.403141 465.144503 929.968586 
C 464.55644 930.534031 463.561257 931.024084 462.882723 931.551832 
C 462.204188 932.079581 461.67644 932.456545 461.073298 933.135079 
C 460.470157 933.813613 459.942408 934.906806 459.263874 935.623037 
C 458.58534 936.339267 457.831414 936.957487 457.002094 937.432461 
C 456.172775 937.907435 455.268063 938.246702 454.287958 938.47288 
C 453.307853 938.699058 452.252356 938.736754 451.121466 938.789529 
C 449.990576 938.842304 448.558115 938.736754 447.502618 938.789529 
C 446.44712 938.842304 445.617801 939.030785 444.788482 939.106178 
C 443.959162 939.181571 443.356021 939.370052 442.526702 939.241885 
C 441.697382 939.113717 440.641885 938.751832 439.812565 938.337173 
C 438.983246 937.922513 438.153927 937.394764 437.550785 936.753927 
C 436.947644 936.113089 436.495288 935.321466 436.193717 934.492147 
C 435.892147 933.662827 435.892147 932.645026 435.741361 931.77801 
C 435.590576 930.910995 435.590576 930.043979 435.289005 929.290052 
C 434.987435 928.536126 434.384293 927.932984 433.931937 927.25445 
C 433.479581 926.575916 432.838743 925.897382 432.574869 925.218848 
C 432.310995 924.540314 432.235602 923.899476 432.348691 923.183246 
C 432.46178 922.467016 432.87644 921.788482 433.253403 920.921466 
C 433.630366 920.05445 434.233508 918.961257 434.610471 917.981152 
C 434.987435 917.001047 435.213613 916.058639 435.515183 915.040838 
C 435.816754 914.023037 436.080628 912.85445 436.419895 911.874346 
C 436.759162 910.894241 436.98534 909.914136 437.550785 909.160209 
C 438.11623 908.406283 438.983246 907.765445 439.812565 907.350785 
C 440.641885 906.936126 441.546597 906.725026 442.526702 906.672251 
z
" clip-path="url(#p585a387f24)" style="fill: #666666; stroke: #000000; stroke-width: 0.8"/>
</g>
<g id="patch_144">
<path d="M 444.336126 915.267016 
C 445.01466 915.342408 445.542408 915.94555 446.14555 916.397906 
C 446.748691 916.850262 447.201047 917.566492 447.954974 917.981152 
C 448.708901 918.395812 449.764398 918.508901 450.66911 918.885864 
C 451.573822 919.262827 452.553927 919.677487 453.383246 920.242932 
C 454.212565 920.808377 455.102199 921.562304 455.645026 922.278534 
C 456.187853 922.994764 456.489424 923.710995 456.640209 924.540314 
C 456.790995 925.369634 456.753298 926.349738 456.549738 927.25445 
C 456.346178 928.159162 455.946597 929.21466 455.418848 929.968586 
C 454.891099 930.722513 454.174869 931.303037 453.383246 931.77801 
C 452.591623 932.252984 451.649215 932.629948 450.66911 932.818429 
C 449.689005 933.006911 448.482723 932.969215 447.502618 932.908901 
C 446.522513 932.848586 445.580105 932.645026 444.788482 932.456545 
C 443.996859 932.268063 443.280628 932.230366 442.75288 931.77801 
C 442.225131 931.325654 441.885864 930.571728 441.62199 929.742408 
C 441.358115 928.913089 441.282723 927.819895 441.169634 926.802094 
C 441.056545 925.784293 441.033927 924.691099 440.943455 923.635602 
C 440.852984 922.580105 440.649424 921.449215 440.626806 920.46911 
C 440.604188 919.489005 440.566492 918.508901 440.807749 917.754974 
C 441.049005 917.001047 441.486283 916.360209 442.074346 915.94555 
C 442.662408 915.53089 443.657592 915.191623 444.336126 915.267016 
z
" clip-path="url(#p585a387f24)" style="stroke: #000000; stroke-width: 0.8"/>
</g>
<g id="matplotlib.axis_35">
<g id="xtick_77">
<g id="line2d_145">
<g>
<use href="#me9cd61fec0" x="414" y="999.54" style="stroke: #000000; stroke-width: 0.8"/>
</g>
</g>
<g id="text_45">
<g transform="translate(401.9249 1045.3731) rotate(-45) scale(0.15 -0.15)">
<use href="#DejaVuSans-30"/>
<use href="#DejaVuSans-2e" transform="translate(62.4142 0)"/>
<use href="#DejaVuSans-30" transform="translate(93.5974 0)"/>
<use href="#DejaVuSans-37" transform="translate(156.0116 0)"/>
<use href="#DejaVuSans-30" transform="translate(218.4258 0)"/>
</g>
</g>
</g>
<g id="xtick_78">
<g id="line2d_146">
<g>
<use href="#me9cd61fec0" x="446.76" y="999.54" style="stroke: #000000; stroke-width: 0.8"/>
</g>
</g>
<g id="text_46">
<g transform="translate(434.6849 1045.3731) rotate(-45) scale(0.15 -0.15)">
<use href="#DejaVuSans-30"/>
<use href="#DejaVuSans-2e" transform="translate(62.4142 0)"/>
<use href="#DejaVuSans-30" transform="translate(93.5974 0)"/>
<use href="#DejaVuSans-37" transform="translate(156.0116 0)"/>
<use href="#DejaVuSans-35" transform="translate(218.4258 0)"/>
</g>
</g>
</g>
<g id="xtick_79">
<g id="line2d_147">
<g>
<use href="#me9cd61fec0" x="479.52" y="999.54" style="stroke: #000000; stroke-width: 0.8"/>
</g>
</g>
<g id="text_47">
<g transform="translate(467.4449 1045.3731) rotate(-45) scale(0.15 -0.15)">
<use href="#DejaVuSans-30"/>
<use href="#DejaVuSans-2e" transform="translate(62.4142 0)"/>
<use href="#DejaVuSans-30" transform="translate(93.5974 0)"/>
<use href="#DejaVuSans-38" transform="translate(156.0116 0)"/>
<use href="#DejaVuSans-30" transform="translate(218.4258 0)"/>
</g>
</g>
</g>
<g id="xtick_80">
<g id="line2d_148">
<g>
<use href="#me9cd61fec0" x="512.28" y="999.54" style="stroke: #000000; stroke-width: 0.8"/>
</g>
</g>
<g id="text_48">
<g transform="translate(500.2049 1045.3731) rotate(-45) scale(0.15 -0.15)">
<use href="#DejaVuSans-30"/>
<use href="#DejaVuSans-2e" transform="translate(62.4142 0)"/>
<use href="#DejaVuSans-30" transform="translate(93.5974 0)"/>
<use href="#DejaVuSans-38" transform="translate(156.0116 0)"/>
<use href="#DejaVuSans-35" transform="translate(218.4258 0)"/>
</g>
</g>
</g>
<g id="xtick_81">
<g id="line2d_149">
<g>
<use href="#me9cd61fec0" x="545.04" y="999.54" style="stroke: #000000; stroke-width: 0.8"/>
</g>
</g>
<g id="text_49">
<g transform="translate(532.9649 1045.3731) rotate(-45) scale(0.15 -0.15)">
<use href="#DejaVuSans-30"/>
<use href="#DejaVuSans-2e" transform="translate(62.4142 0)"/>
<use href="#DejaVuSans-30" transform="translate(93.5974 0)"/>
<use href="#DejaVuSans-39" transform="translate(156.0116 0)"/>
<use href="#DejaVuSans-30" transform="translate(218.4258 0)"/>
</g>
</g>
</g>
<g id="text_50">
<g transform="translate(452.25 1057.593656) scale(0.15 -0.15)">
<use href="#DejaVuSans-Oblique-73"/>
<use href="#DejaVuSans-Oblique-62" transform="translate(52.099609 -14.765625) scale(0.7)"/>
<use href="#DejaVuSans-Oblique-61" transform="translate(96.533203 -14.765625) scale(0.7)"/>
<use href="#DejaVuSans-Oblique-63" transform="translate(139.428711 -14.765625) scale(0.7)"/>
<use href="#DejaVuSans-Oblique-6b" transform="translate(177.915039 -14.765625) scale(0.7)"/>
</g>
</g>
</g>
<g id="matplotlib.axis_36">
<g id="ytick_54">
<g id="line2d_150">
<g>
<use href="#m2ecc1fbad5" x="391.14" y="993.6" style="stroke: #000000; stroke-width: 0.8"/>
</g>
</g>
</g>
<g id="ytick_55">
<g id="line2d_151">
<g>
<use href="#m2ecc1fbad5" x="391.14" y="957.96" style="stroke: #000000; stroke-width: 0.8"/>
</g>
</g>
</g>
<g id="ytick_56">
<g id="line2d_152">
<g>
<use href="#m2ecc1fbad5" x="391.14" y="922.68" style="stroke: #000000; stroke-width: 0.8"/>
</g>
</g>
</g>
<g id="ytick_57">
<g id="line2d_153">
<g>
<use href="#m2ecc1fbad5" x="391.14" y="887.04" style="stroke: #000000; stroke-width: 0.8"/>
</g>
</g>
</g>
<g id="ytick_58">
<g id="line2d_154">
<g>
<use href="#m2ecc1fbad5" x="391.14" y="851.4" style="stroke: #000000; stroke-width: 0.8"/>
</g>
</g>
</g>
</g>
<g id="patch_145">
<path d="M 391.14 999.54 
L 391.14 844.02 
" style="fill: none; stroke: #000000; stroke-width: 0.5; stroke-linejoin: miter; stroke-linecap: square"/>
</g>
<g id="patch_146">
<path d="M 546.66 999.54 
L 546.66 844.02 
" style="fill: none; stroke: #000000; stroke-width: 0.5; stroke-linejoin: miter; stroke-linecap: square"/>
</g>
<g id="patch_147">
<path d="M 391.14 999.54 
L 546.66 999.54 
" style="fill: none; stroke: #000000; stroke-width: 0.5; stroke-linejoin: miter; stroke-linecap: square"/>
</g>
<g id="patch_148">
<path d="M 391.14 844.02 
L 546.66 844.02 
" style="fill: none; stroke: #000000; stroke-width: 0.5; stroke-linejoin: miter; stroke-linecap: square"/>
</g>
</g>
<g id="axes_19">
<g id="patch_149">
<path d="M 554.22 999.54 
L 709.74 999.54 
L 709.74 844.02 
L 554.22 844.02 
z
" style="fill: #ffffff"/>
</g>
<g id="patch_150">
<path d="M 692.37801 890.523141 
C 692.79267 890.560838 693.222408 890.523141 693.508901 891.065969 
C 693.795393 891.608796 693.983874 892.8 694.096963 893.780105 
C 694.210052 894.760209 694.247749 895.815707 694.187435 896.946597 
C 694.12712 898.077487 693.92356 899.359162 693.735079 900.565445 
C 693.546597 901.771728 693.320419 902.902618 693.056545 904.184293 
C 692.79267 905.465969 692.491099 906.898429 692.151832 908.255497 
C 691.812565 909.612565 691.435602 910.969634 691.020942 912.326702 
C 690.606283 913.68377 690.11623 915.040838 689.663874 916.397906 
C 689.211518 917.754974 688.796859 919.036649 688.306806 920.46911 
C 687.816754 921.901571 687.251309 923.560209 686.72356 924.99267 
C 686.195812 926.425131 685.705759 927.706806 685.140314 929.063874 
C 684.574869 930.420942 683.934031 931.77801 683.33089 933.135079 
C 682.727749 934.492147 682.124607 935.849215 681.521466 937.206283 
C 680.918325 938.563351 680.315183 940.071204 679.712042 941.277487 
C 679.108901 942.48377 678.505759 943.463874 677.902618 944.443979 
C 677.299476 945.424084 676.696335 946.253403 676.093194 947.158115 
C 675.490052 948.062827 674.849215 948.967539 674.28377 949.872251 
C 673.718325 950.776963 673.190576 951.832461 672.700524 952.586387 
C 672.210471 953.340314 671.795812 953.981152 671.343455 954.395812 
C 670.891099 954.810471 670.47644 955.149738 669.986387 955.074346 
C 669.496335 954.998953 668.742408 954.508901 668.403141 953.943455 
C 668.063874 953.37801 667.988482 952.66178 667.950785 951.681675 
C 667.913089 950.701571 668.063874 949.344503 668.176963 948.062827 
C 668.290052 946.781152 668.440838 945.348691 668.629319 943.991623 
C 668.817801 942.634555 669.006283 941.35288 669.307853 939.920419 
C 669.609424 938.487958 670.06178 936.904712 670.438743 935.396859 
C 670.815707 933.889005 671.154974 932.381152 671.569634 930.873298 
C 671.984293 929.365445 672.436649 927.857592 672.926702 926.349738 
C 673.416754 924.841885 673.944503 923.334031 674.509948 921.826178 
C 675.075393 920.318325 675.753927 918.735079 676.319372 917.302618 
C 676.884817 915.870157 677.337173 914.663874 677.902618 913.231414 
C 678.468063 911.798953 679.071204 910.215707 679.712042 908.707853 
C 680.35288 907.2 681.031414 905.692147 681.747644 904.184293 
C 682.463874 902.67644 683.217801 901.093194 684.009424 899.660733 
C 684.801047 898.228272 685.630366 896.795812 686.497382 895.589529 
C 687.364398 894.383246 688.457592 893.21466 689.211518 892.423037 
C 689.965445 891.631414 690.493194 891.15644 691.020942 890.839791 
C 691.548691 890.523141 691.963351 890.485445 692.37801 890.523141 
z
" clip-path="url(#p736b86f8f0)" style="fill: #cccccc; stroke: #000000; stroke-width: 0.8"/>
</g>
<g id="patch_151">
<path d="M 688.759162 899.570262 
C 689.173822 899.517487 689.81466 899.555183 690.11623 900.022618 
C 690.417801 900.490052 690.508272 901.455079 690.568586 902.374869 
C 690.628901 903.29466 690.591204 904.410471 690.478115 905.541361 
C 690.365026 906.672251 690.138848 907.953927 689.890052 909.160209 
C 689.641257 910.366492 689.324607 911.497382 688.98534 912.779058 
C 688.646073 914.060733 688.26911 915.493194 687.85445 916.850262 
C 687.439791 918.20733 686.949738 919.564398 686.497382 920.921466 
C 686.045026 922.278534 685.630366 923.635602 685.140314 924.99267 
C 684.650262 926.349738 684.122513 927.706806 683.557068 929.063874 
C 682.991623 930.420942 682.350785 931.853403 681.747644 933.135079 
C 681.144503 934.416754 680.541361 935.547644 679.93822 936.753927 
C 679.335079 937.960209 678.731937 939.241885 678.128796 940.372775 
C 677.525654 941.503665 676.884817 942.649634 676.319372 943.539267 
C 675.753927 944.428901 675.301571 945.25822 674.736126 945.710576 
C 674.170681 946.162932 673.416754 946.351414 672.926702 946.253403 
C 672.436649 946.155393 672.037068 945.725654 671.795812 945.122513 
C 671.554555 944.519372 671.479162 943.652356 671.479162 942.634555 
C 671.479162 941.616754 671.592251 940.297382 671.795812 939.015707 
C 671.999372 937.734031 672.361257 936.301571 672.700524 934.944503 
C 673.039791 933.587435 673.416754 932.230366 673.831414 930.873298 
C 674.246073 929.51623 674.698429 928.159162 675.188482 926.802094 
C 675.678534 925.445026 676.243979 924.087958 676.771728 922.73089 
C 677.299476 921.373822 677.827225 920.016754 678.354974 918.659686 
C 678.882723 917.302618 679.372775 915.94555 679.93822 914.588482 
C 680.503665 913.231414 681.106806 911.874346 681.747644 910.517277 
C 682.388482 909.160209 683.067016 907.803141 683.783246 906.446073 
C 684.499476 905.089005 685.404188 903.39267 686.045026 902.374869 
C 686.685864 901.357068 687.175916 900.806702 687.628272 900.339267 
C 688.080628 899.871832 688.344503 899.623037 688.759162 899.570262 
z
" clip-path="url(#p736b86f8f0)" style="fill: #999999; stroke: #000000; stroke-width: 0.8"/>
</g>
<g id="patch_152">
<path d="M 686.859267 906.898429 
C 687.23623 907.086911 687.326702 907.953927 687.402094 908.707853 
C 687.477487 909.46178 687.424712 910.441885 687.311623 911.42199 
C 687.198534 912.402094 686.972356 913.457592 686.72356 914.588482 
C 686.474764 915.719372 686.158115 917.001047 685.818848 918.20733 
C 685.479581 919.413613 685.102618 920.619895 684.687958 921.826178 
C 684.273298 923.032461 683.783246 924.314136 683.33089 925.445026 
C 682.878534 926.575916 682.463874 927.556021 681.973822 928.611518 
C 681.48377 929.667016 680.918325 930.797906 680.390576 931.77801 
C 679.862827 932.758115 679.297382 933.700524 678.80733 934.492147 
C 678.317277 935.28377 677.902618 936 677.450262 936.527749 
C 676.997906 937.055497 676.470157 937.620942 676.093194 937.658639 
C 675.71623 937.696335 675.376963 937.357068 675.188482 936.753927 
C 675 936.150785 674.924607 935.019895 674.962304 934.039791 
C 675 933.059686 675.188482 932.004188 675.41466 930.873298 
C 675.640838 929.742408 675.980105 928.460733 676.319372 927.25445 
C 676.658639 926.048168 677.035602 924.841885 677.450262 923.635602 
C 677.864921 922.429319 678.354974 921.147644 678.80733 920.016754 
C 679.259686 918.885864 679.674346 917.981152 680.164398 916.850262 
C 680.65445 915.719372 681.219895 914.362304 681.747644 913.231414 
C 682.275393 912.100524 682.765445 911.00733 683.33089 910.064921 
C 683.896335 909.122513 684.552251 908.104712 685.140314 907.576963 
C 685.728377 907.049215 686.482304 906.709948 686.859267 906.898429 
z
" clip-path="url(#p736b86f8f0)" style="fill: #666666; stroke: #000000; stroke-width: 0.8"/>
</g>
<g id="patch_153">
<path d="M 682.426178 917.212147 
C 682.840838 917.023665 683.594764 917.061361 683.783246 917.528796 
C 683.971728 917.99623 683.707853 919.149738 683.557068 920.016754 
C 683.406283 920.88377 683.142408 921.826178 682.878534 922.73089 
C 682.61466 923.635602 682.313089 924.540314 681.973822 925.445026 
C 681.634555 926.349738 681.257592 927.25445 680.842932 928.159162 
C 680.428272 929.063874 680.013613 930.285236 679.485864 930.873298 
C 678.958115 931.461361 678.030785 931.913717 677.67644 931.687539 
C 677.322094 931.461361 677.337173 930.330471 677.359791 929.51623 
C 677.382408 928.70199 677.57089 927.782199 677.812147 926.802094 
C 678.053403 925.82199 678.452984 924.615707 678.80733 923.635602 
C 679.161675 922.655497 679.52356 921.750785 679.93822 920.921466 
C 680.35288 920.092147 680.880628 919.277906 681.295288 918.659686 
C 681.709948 918.041466 682.011518 917.400628 682.426178 917.212147 
z
" clip-path="url(#p736b86f8f0)" style="stroke: #000000; stroke-width: 0.8"/>
</g>
<g id="matplotlib.axis_37">
<g id="xtick_82">
<g id="line2d_155">
<g>
<use href="#me9cd61fec0" x="579.24" y="999.54" style="stroke: #000000; stroke-width: 0.8"/>
</g>
</g>
<g id="text_51">
<g transform="translate(570.4750 1038.7529) rotate(-45) scale(0.15 -0.15)">
<use href="#DejaVuSans-30"/>
<use href="#DejaVuSans-2e" transform="translate(62.4142 0)"/>
<use href="#DejaVuSans-35" transform="translate(93.5974 0)"/>
<use href="#DejaVuSans-30" transform="translate(156.0116 0)"/>
</g>
</g>
</g>
<g id="xtick_83">
<g id="line2d_156">
<g>
<use href="#me9cd61fec0" x="613.44" y="999.54" style="stroke: #000000; stroke-width: 0.8"/>
</g>
</g>
<g id="text_52">
<g transform="translate(604.6750 1038.7529) rotate(-45) scale(0.15 -0.15)">
<use href="#DejaVuSans-30"/>
<use href="#DejaVuSans-2e" transform="translate(62.4142 0)"/>
<use href="#DejaVuSans-35" transform="translate(93.5974 0)"/>
<use href="#DejaVuSans-32" transform="translate(156.0116 0)"/>
</g>
</g>
</g>
<g id="xtick_84">
<g id="line2d_157">
<g>
<use href="#me9cd61fec0" x="647.64" y="999.54" style="stroke: #000000; stroke-width: 0.8"/>
</g>
</g>
<g id="text_53">
<g transform="translate(638.8750 1038.7529) rotate(-45) scale(0.15 -0.15)">
<use href="#DejaVuSans-30"/>
<use href="#DejaVuSans-2e" transform="translate(62.4142 0)"/>
<use href="#DejaVuSans-35" transform="translate(93.5974 0)"/>
<use href="#DejaVuSans-34" transform="translate(156.0116 0)"/>
</g>
</g>
</g>
<g id="xtick_85">
<g id="line2d_158">
<g>
<use href="#me9cd61fec0" x="681.84" y="999.54" style="stroke: #000000; stroke-width: 0.8"/>
</g>
</g>
<g id="text_54">
<g transform="translate(673.0750 1038.7529) rotate(-45) scale(0.15 -0.15)">
<use href="#DejaVuSans-30"/>
<use href="#DejaVuSans-2e" transform="translate(62.4142 0)"/>
<use href="#DejaVuSans-35" transform="translate(93.5974 0)"/>
<use href="#DejaVuSans-36" transform="translate(156.0116 0)"/>
</g>
</g>
</g>
<g id="text_55">
<g transform="translate(629.339766 1057.593656) scale(0.15 -0.15)">
<use href="#DejaVuSans-66"/>
</g>
</g>
</g>
<g id="matplotlib.axis_38">
<g id="ytick_59">
<g id="line2d_159">
<g>
<use href="#m2ecc1fbad5" x="554.22" y="993.6" style="stroke: #000000; stroke-width: 0.8"/>
</g>
</g>
</g>
<g id="ytick_60">
<g id="line2d_160">
<g>
<use href="#m2ecc1fbad5" x="554.22" y="957.96" style="stroke: #000000; stroke-width: 0.8"/>
</g>
</g>
</g>
<g id="ytick_61">
<g id="line2d_161">
<g>
<use href="#m2ecc1fbad5" x="554.22" y="922.68" style="stroke: #000000; stroke-width: 0.8"/>
</g>
</g>
</g>
<g id="ytick_62">
<g id="line2d_162">
<g>
<use href="#m2ecc1fbad5" x="554.22" y="887.04" style="stroke: #000000; stroke-width: 0.8"/>
</g>
</g>
</g>
<g id="ytick_63">
<g id="line2d_163">
<g>
<use href="#m2ecc1fbad5" x="554.22" y="851.4" style="stroke: #000000; stroke-width: 0.8"/>
</g>
</g>
</g>
</g>
<g id="patch_154">
<path d="M 554.22 999.54 
L 554.22 844.02 
" style="fill: none; stroke: #000000; stroke-width: 0.5; stroke-linejoin: miter; stroke-linecap: square"/>
</g>
<g id="patch_155">
<path d="M 709.74 999.54 
L 709.74 844.02 
" style="fill: none; stroke: #000000; stroke-width: 0.5; stroke-linejoin: miter; stroke-linecap: square"/>
</g>
<g id="patch_156">
<path d="M 554.22 999.54 
L 709.74 999.54 
" style="fill: none; stroke: #000000; stroke-width: 0.5; stroke-linejoin: miter; stroke-linecap: square"/>
</g>
<g id="patch_157">
<path d="M 554.22 844.02 
L 709.74 844.02 
" style="fill: none; stroke: #000000; stroke-width: 0.5; stroke-linejoin: miter; stroke-linecap: square"/>
</g>
</g>
<g id="axes_20">
<g id="patch_158">
<path d="M 717.3 999.54 
L 872.82 999.54 
L 872.82 844.02 
L 717.3 844.02 
z
" style="fill: #ffffff"/>
</g>
<g id="patch_159">
<path d="M 793.781152 887.220942 
C 794.459686 887.258639 795.175916 887.522513 795.816754 887.899476 
C 796.457592 888.27644 797.098429 888.954974 797.626178 889.482723 
C 798.153927 890.010471 798.380105 890.575916 798.983246 891.065969 
C 799.586387 891.556021 800.491099 891.970681 801.245026 892.423037 
C 801.998953 892.875393 802.828272 893.252356 803.506806 893.780105 
C 804.18534 894.307853 804.750785 894.910995 805.31623 895.589529 
C 805.881675 896.268063 806.371728 897.210471 806.899476 897.851309 
C 807.427225 898.492147 807.917277 899.095288 808.482723 899.434555 
C 809.048168 899.773822 809.53822 899.849215 810.292147 899.886911 
C 811.046073 899.924607 812.21466 899.58534 813.006283 899.660733 
C 813.797906 899.736126 814.438743 899.924607 815.041885 900.339267 
C 815.645026 900.753927 816.135079 901.357068 816.625131 902.148691 
C 817.115183 902.940314 817.529843 904.184293 817.982199 905.089005 
C 818.434555 905.993717 818.811518 906.913508 819.339267 907.576963 
C 819.867016 908.240419 820.54555 908.692775 821.148691 909.069738 
C 821.751832 909.446702 822.543455 909.446702 822.958115 909.838743 
C 823.372775 910.230785 823.561257 910.630366 823.636649 911.42199 
C 823.712042 912.213613 823.52356 913.532984 823.410471 914.588482 
C 823.297382 915.643979 823.108901 916.774869 822.958115 917.754974 
C 822.80733 918.735079 822.468063 919.564398 822.505759 920.46911 
C 822.543455 921.373822 822.958115 922.353927 823.184293 923.183246 
C 823.410471 924.012565 823.825131 924.615707 823.862827 925.445026 
C 823.900524 926.274346 823.598953 927.179058 823.410471 928.159162 
C 823.22199 929.139267 822.958115 930.34555 822.731937 931.325654 
C 822.505759 932.305759 822.430366 933.172775 822.053403 934.039791 
C 821.67644 934.906806 821.148691 935.811518 820.470157 936.527749 
C 819.791623 937.243979 818.773822 937.937592 817.982199 938.337173 
C 817.190576 938.736754 816.474346 938.887539 815.720419 938.925236 
C 814.966492 938.962932 814.212565 938.736754 813.458639 938.563351 
C 812.704712 938.389948 811.837696 937.884817 811.196859 937.884817 
C 810.556021 937.884817 810.065969 937.997906 809.613613 938.563351 
C 809.161257 939.128796 808.82199 940.297382 808.482723 941.277487 
C 808.143455 942.257592 807.954974 943.313089 807.57801 944.443979 
C 807.201047 945.574869 806.748691 946.856545 806.220942 948.062827 
C 805.693194 949.26911 805.090052 950.626178 804.411518 951.681675 
C 803.732984 952.737173 802.979058 953.641885 802.149738 954.395812 
C 801.320419 955.149738 800.340314 955.715183 799.435602 956.205236 
C 798.53089 956.695288 797.626178 956.959162 796.721466 957.336126 
C 795.816754 957.713089 794.912042 958.353927 794.00733 958.467016 
C 793.102618 958.580105 792.122513 958.31623 791.293194 958.01466 
C 790.463874 957.713089 789.709948 957.260733 789.031414 956.657592 
C 788.35288 956.05445 787.749738 955.225131 787.22199 954.395812 
C 786.694241 953.566492 786.317277 952.586387 785.864921 951.681675 
C 785.412565 950.776963 785.110995 949.834555 784.507853 948.967539 
C 783.904712 948.100524 783.075393 947.308901 782.246073 946.479581 
C 781.416754 945.650262 780.361257 944.858639 779.531937 943.991623 
C 778.702618 943.124607 777.948691 942.182199 777.270157 941.277487 
C 776.591623 940.372775 775.875393 939.543455 775.460733 938.563351 
C 775.046073 937.583246 775.008377 936.452356 774.782199 935.396859 
C 774.556021 934.341361 774.442932 933.285864 774.103665 932.230366 
C 773.764398 931.174869 773.12356 930.119372 772.746597 929.063874 
C 772.369634 928.008377 772.030366 927.028272 771.841885 925.897382 
C 771.653403 924.766492 771.540314 923.484817 771.615707 922.278534 
C 771.691099 921.072251 771.99267 919.865969 772.294241 918.659686 
C 772.595812 917.453403 773.048168 916.24712 773.425131 915.040838 
C 773.802094 913.834555 774.141361 912.55288 774.556021 911.42199 
C 774.970681 910.291099 775.423037 909.235602 775.913089 908.255497 
C 776.403141 907.275393 776.893194 906.295288 777.496335 905.541361 
C 778.099476 904.787435 778.815707 904.335079 779.531937 903.731937 
C 780.248168 903.128796 781.115183 902.751832 781.793717 901.922513 
C 782.472251 901.093194 783 899.811518 783.603141 898.756021 
C 784.206283 897.700524 784.84712 896.569634 785.412565 895.589529 
C 785.97801 894.609424 786.543455 893.742408 786.995812 892.875393 
C 787.448168 892.008377 787.636649 891.103665 788.126702 890.387435 
C 788.616754 889.671204 789.332984 889.030366 789.936126 888.57801 
C 790.539267 888.125654 791.104712 887.899476 791.74555 887.673298 
C 792.386387 887.44712 793.102618 887.183246 793.781152 887.220942 
z
" clip-path="url(#p6b451f561b)" style="fill: #cccccc; stroke: #000000; stroke-width: 0.8"/>
</g>
<g id="patch_160">
<path d="M 792.650262 895.815707 
C 793.366492 895.853403 794.459686 896.230366 795.364398 896.494241 
C 796.26911 896.758115 797.173822 897.097382 798.078534 897.398953 
C 798.983246 897.700524 800.038743 897.813613 800.79267 898.303665 
C 801.546597 898.793717 802.074346 899.58534 802.602094 900.339267 
C 803.129843 901.093194 803.46911 901.960209 803.959162 902.827225 
C 804.449215 903.694241 805.090052 904.636649 805.542408 905.541361 
C 805.994764 906.446073 806.424503 907.275393 806.673298 908.255497 
C 806.922094 909.235602 806.959791 910.366492 807.035183 911.42199 
C 807.110576 912.477487 807.07288 913.457592 807.125654 914.588482 
C 807.178429 915.719372 807.201047 917.07644 807.351832 918.20733 
C 807.502618 919.33822 807.766492 920.393717 808.030366 921.373822 
C 808.294241 922.353927 808.746597 923.183246 808.935079 924.087958 
C 809.12356 924.99267 809.274346 925.897382 809.161257 926.802094 
C 809.048168 927.706806 808.633508 928.573822 808.256545 929.51623 
C 807.879581 930.458639 807.351832 931.401047 806.899476 932.456545 
C 806.44712 933.512042 805.957068 934.680628 805.542408 935.849215 
C 805.127749 937.017801 804.750785 938.26178 804.411518 939.468063 
C 804.072251 940.674346 803.88377 941.956021 803.506806 943.086911 
C 803.129843 944.217801 802.75288 945.348691 802.149738 946.253403 
C 801.546597 947.158115 800.717277 947.912042 799.887958 948.515183 
C 799.058639 949.118325 798.078534 949.457592 797.173822 949.872251 
C 796.26911 950.286911 795.289005 950.761885 794.459686 951.003141 
C 793.630366 951.244398 792.951832 951.43288 792.197906 951.319791 
C 791.443979 951.206702 790.690052 950.867435 789.936126 950.324607 
C 789.182199 949.78178 788.428272 948.967539 787.674346 948.062827 
C 786.920419 947.158115 786.015707 945.951832 785.412565 944.896335 
C 784.809424 943.840838 784.470157 942.860733 784.055497 941.729843 
C 783.640838 940.598953 783.339267 939.317277 782.924607 938.110995 
C 782.509948 936.904712 782.057592 935.623037 781.567539 934.492147 
C 781.077487 933.361257 780.549738 932.305759 779.984293 931.325654 
C 779.418848 930.34555 778.702618 929.440838 778.174869 928.611518 
C 777.64712 927.782199 777.081675 927.103665 776.817801 926.349738 
C 776.553927 925.595812 776.440838 924.766492 776.591623 924.087958 
C 776.742408 923.409424 777.232461 922.881675 777.722513 922.278534 
C 778.212565 921.675393 779.079581 921.147644 779.531937 920.46911 
C 779.984293 919.790576 780.210471 919.036649 780.436649 918.20733 
C 780.662827 917.37801 780.625131 916.548691 780.889005 915.493194 
C 781.15288 914.437696 781.567539 912.929843 782.019895 911.874346 
C 782.472251 910.818848 783.075393 910.027225 783.603141 909.160209 
C 784.13089 908.293194 784.734031 907.576963 785.186387 906.672251 
C 785.638743 905.767539 785.902618 904.749738 786.317277 903.731937 
C 786.731937 902.714136 787.146597 901.54555 787.674346 900.565445 
C 788.202094 899.58534 788.918325 898.567539 789.48377 897.851309 
C 790.049215 897.135079 790.539267 896.60733 791.067016 896.268063 
C 791.594764 895.928796 791.934031 895.77801 792.650262 895.815707 
z
" clip-path="url(#p6b451f561b)" style="fill: #999999; stroke: #000000; stroke-width: 0.8"/>
</g>
<g id="patch_161">
<path d="M 792.650262 905.089005 
C 793.17801 905.14178 793.781152 905.390576 794.459686 905.767539 
C 795.13822 906.144503 795.967539 906.860733 796.721466 907.350785 
C 797.475393 907.840838 798.304712 908.255497 798.983246 908.707853 
C 799.66178 909.160209 800.264921 909.46178 800.79267 910.064921 
C 801.320419 910.668063 801.848168 911.497382 802.149738 912.326702 
C 802.451309 913.156021 802.511623 913.98534 802.602094 915.040838 
C 802.692565 916.096335 802.654869 917.453403 802.692565 918.659686 
C 802.730262 919.865969 802.805654 921.072251 802.828272 922.278534 
C 802.85089 923.484817 802.903665 924.691099 802.828272 925.897382 
C 802.75288 927.103665 802.639791 928.423037 802.375916 929.51623 
C 802.112042 930.609424 801.735079 931.589529 801.245026 932.456545 
C 800.754974 933.32356 800.114136 933.926702 799.435602 934.718325 
C 798.757068 935.509948 797.852356 936.41466 797.173822 937.206283 
C 796.495288 937.997906 795.929843 938.789529 795.364398 939.468063 
C 794.798953 940.146597 794.271204 940.825131 793.781152 941.277487 
C 793.291099 941.729843 792.914136 942.031414 792.424084 942.182199 
C 791.934031 942.332984 791.33089 942.446073 790.840838 942.182199 
C 790.350785 941.918325 789.860733 941.277487 789.48377 940.598953 
C 789.106806 939.920419 788.842932 939.053403 788.579058 938.110995 
C 788.315183 937.168586 788.164398 936.075393 787.900524 934.944503 
C 787.636649 933.813613 787.274764 932.531937 786.995812 931.325654 
C 786.716859 930.119372 786.400209 928.913089 786.226806 927.706806 
C 786.053403 926.500524 785.940314 925.294241 785.955393 924.087958 
C 785.970471 922.881675 786.181571 921.675393 786.317277 920.46911 
C 786.452984 919.262827 786.581152 918.056545 786.769634 916.850262 
C 786.958115 915.643979 787.146597 914.437696 787.448168 913.231414 
C 787.749738 912.025131 788.164398 910.668063 788.579058 909.612565 
C 788.993717 908.557068 789.48377 907.592042 789.936126 906.898429 
C 790.388482 906.204817 790.840838 905.752461 791.293194 905.45089 
C 791.74555 905.149319 792.122513 905.03623 792.650262 905.089005 
z
" clip-path="url(#p6b451f561b)" style="fill: #666666; stroke: #000000; stroke-width: 0.8"/>
</g>
<g id="patch_162">
<path d="M 792.650262 913.005236 
C 793.140314 913.042932 793.59267 913.947644 794.00733 914.588482 
C 794.42199 915.229319 794.798953 916.096335 795.13822 916.850262 
C 795.477487 917.604188 795.85445 918.20733 796.042932 919.112042 
C 796.231414 920.016754 796.26911 921.223037 796.26911 922.278534 
C 796.26911 923.334031 796.156021 924.389529 796.042932 925.445026 
C 795.929843 926.500524 795.779058 927.631414 795.590576 928.611518 
C 795.402094 929.591623 795.213613 930.571728 794.912042 931.325654 
C 794.610471 932.079581 794.158115 932.697801 793.781152 933.135079 
C 793.404188 933.572356 793.064921 933.987016 792.650262 933.949319 
C 792.235602 933.911623 791.707853 933.496963 791.293194 932.908901 
C 790.878534 932.320838 790.501571 931.287958 790.162304 930.420942 
C 789.823037 929.553927 789.461152 928.686911 789.257592 927.706806 
C 789.054031 926.726702 788.96356 925.595812 788.940942 924.540314 
C 788.918325 923.484817 788.993717 922.353927 789.121885 921.373822 
C 789.250052 920.393717 789.498848 919.489005 789.709948 918.659686 
C 789.921047 917.830366 790.162304 917.114136 790.388482 916.397906 
C 790.61466 915.681675 790.690052 914.927749 791.067016 914.362304 
C 791.443979 913.796859 792.160209 912.967539 792.650262 913.005236 
z
" clip-path="url(#p6b451f561b)" style="stroke: #000000; stroke-width: 0.8"/>
</g>
<g id="matplotlib.axis_39">
<g id="xtick_86">
<g id="line2d_164">
<g>
<use href="#me9cd61fec0" x="745.92" y="999.54" style="stroke: #000000; stroke-width: 0.8"/>
</g>
</g>
<g id="text_56">
<g transform="translate(737.1550 1038.7529) rotate(-45) scale(0.15 -0.15)">
<use href="#DejaVuSans-39"/>
<use href="#DejaVuSans-2e" transform="translate(62.4142 0)"/>
<use href="#DejaVuSans-36" transform="translate(93.5974 0)"/>
<use href="#DejaVuSans-30" transform="translate(156.0116 0)"/>
</g>
</g>
</g>
<g id="xtick_87">
<g id="line2d_165">
<g>
<use href="#me9cd61fec0" x="780.48" y="999.54" style="stroke: #000000; stroke-width: 0.8"/>
</g>
</g>
<g id="text_57">
<g transform="translate(771.7150 1038.7529) rotate(-45) scale(0.15 -0.15)">
<use href="#DejaVuSans-39"/>
<use href="#DejaVuSans-2e" transform="translate(62.4142 0)"/>
<use href="#DejaVuSans-37" transform="translate(93.5974 0)"/>
<use href="#DejaVuSans-35" transform="translate(156.0116 0)"/>
</g>
</g>
</g>
<g id="xtick_88">
<g id="line2d_166">
<g>
<use href="#me9cd61fec0" x="815.04" y="999.54" style="stroke: #000000; stroke-width: 0.8"/>
</g>
</g>
<g id="text_58">
<g transform="translate(806.2750 1038.7529) rotate(-45) scale(0.15 -0.15)">
<use href="#DejaVuSans-39"/>
<use href="#DejaVuSans-2e" transform="translate(62.4142 0)"/>
<use href="#DejaVuSans-39" transform="translate(93.5974 0)"/>
<use href="#DejaVuSans-30" transform="translate(156.0116 0)"/>
</g>
</g>
</g>
<g id="xtick_89">
<g id="line2d_167">
<g>
<use href="#me9cd61fec0" x="849.24" y="999.54" style="stroke: #000000; stroke-width: 0.8"/>
</g>
</g>
<g id="text_59">
<g transform="translate(837.1649 1045.3731) rotate(-45) scale(0.15 -0.15)">
<use href="#DejaVuSans-31"/>
<use href="#DejaVuSans-30" transform="translate(62.4142 0)"/>
<use href="#DejaVuSans-2e" transform="translate(124.8284 0)"/>
<use href="#DejaVuSans-30" transform="translate(156.0116 0)"/>
<use href="#DejaVuSans-35" transform="translate(218.4258 0)"/>
</g>
</g>
</g>
<g id="text_60">
<g transform="translate(786.36 1057.563187) scale(0.15 -0.15)">
<use href="#DejaVuSans-Oblique-3bc" transform="translate(0 0.3125)"/>
<use href="#DejaVuSans-Oblique-43" transform="translate(63.623047 -14.453125) scale(0.7)"/>
</g>
</g>
</g>
<g id="matplotlib.axis_40">
<g id="ytick_64">
<g id="line2d_168">
<g>
<use href="#m2ecc1fbad5" x="717.3" y="993.6" style="stroke: #000000; stroke-width: 0.8"/>
</g>
</g>
</g>
<g id="ytick_65">
<g id="line2d_169">
<g>
<use href="#m2ecc1fbad5" x="717.3" y="957.96" style="stroke: #000000; stroke-width: 0.8"/>
</g>
</g>
</g>
<g id="ytick_66">
<g id="line2d_170">
<g>
<use href="#m2ecc1fbad5" x="717.3" y="922.68" style="stroke: #000000; stroke-width: 0.8"/>
</g>
</g>
</g>
<g id="ytick_67">
<g id="line2d_171">
<g>
<use href="#m2ecc1fbad5" x="717.3" y="887.04" style="stroke: #000000; stroke-width: 0.8"/>
</g>
</g>
</g>
<g id="ytick_68">
<g id="line2d_172">
<g>
<use href="#m2ecc1fbad5" x="717.3" y="851.4" style="stroke: #000000; stroke-width: 0.8"/>
</g>
</g>
</g>
</g>
<g id="patch_163">
<path d="M 717.3 999.54 
L 717.3 844.02 
" style="fill: none; stroke: #000000; stroke-width: 0.5; stroke-linejoin: miter; stroke-linecap: square"/>
</g>
<g id="patch_164">
<path d="M 872.82 999.54 
L 872.82 844.02 
" style="fill: none; stroke: #000000; stroke-width: 0.5; stroke-linejoin: miter; stroke-linecap: square"/>
</g>
<g id="patch_165">
<path d="M 717.3 999.54 
L 872.82 999.54 
" style="fill: none; stroke: #000000; stroke-width: 0.5; stroke-linejoin: miter; stroke-linecap: square"/>
</g>
<g id="patch_166">
<path d="M 717.3 844.02 
L 872.82 844.02 
" style="fill: none; stroke: #000000; stroke-width: 0.5; stroke-linejoin: miter; stroke-linecap: square"/>
</g>
</g>
<g id="axes_21">
<g id="patch_167">
<path d="M 880.74 999.54 
L 1035.9 999.54 
L 1035.9 844.02 
L 880.74 844.02 
z
" style="fill: #ffffff"/>
</g>
<g id="patch_168">
<path d="M 882.077277 999.54 
L 882.077277 999.141361 
L 897.005026 998.726702 
L 907.786178 998.146178 
L 910.274136 997.316859 
L 912.762094 995.824084 
L 915.250052 993.750785 
L 917.323351 991.677487 
L 919.396649 988.774869 
L 921.055288 985.457592 
L 922.299267 982.554974 
L 923.543246 979.237696 
L 924.787225 975.920419 
L 926.031204 973.017801 
L 927.275183 970.529843 
L 928.519162 967.212565 
L 929.763141 963.065969 
L 930.758325 958.504712 
L 931.587644 953.943455 
L 932.665759 948.55288 
L 933.495079 942.747644 
L 934.490262 936.942408 
L 935.568377 931.137173 
L 936.646492 925.331937 
L 937.807539 919.526702 
L 938.885654 913.721466 
L 939.96377 907.91623 
L 941.124817 902.110995 
L 942.202932 896.305759 
L 943.446911 890.500524 
L 944.69089 883.865969 
L 945.934869 877.231414 
L 947.178848 870.596859 
L 948.422827 864.791623 
L 949.41801 859.815707 
L 950.66199 856.08377 
L 951.905969 852.766492 
L 953.813403 850.94199 
L 955.886702 851.937173 
L 957.54534 854.839791 
L 959.203979 858.157068 
L 960.862618 861.889005 
L 962.521257 865.206283 
L 964.179895 869.767539 
L 965.838534 874.743455 
L 967.497173 880.548691 
L 969.155812 887.183246 
L 970.399791 893.817801 
L 971.477906 900.452356 
L 972.473089 907.086911 
L 973.468272 913.721466 
L 974.546387 920.356021 
L 975.541571 926.161257 
L 976.619686 932.795812 
L 977.863665 939.430366 
L 979.107644 945.235602 
L 980.351623 951.040838 
L 981.595602 956.846073 
L 982.839581 961.82199 
L 984.08356 966.797906 
L 985.742199 972.603141 
L 987.400838 976.749738 
L 989.059476 980.481675 
L 991.132775 984.628272 
L 993.206073 988.360209 
L 995.694031 991.677487 
L 998.596649 994.165445 
L 1002.328586 996.07288 
L 1006.475183 997.482723 
L 1011.451099 998.560838 
L 1019.744293 999.141361 
L 1019.744293 999.54 
z
" clip-path="url(#p8574c73498)" style="fill: #666666"/>
</g>
<g id="matplotlib.axis_41">
<g id="xtick_90">
<g id="line2d_173">
<g>
<use href="#me9cd61fec0" x="885.96" y="999.54" style="stroke: #000000; stroke-width: 0.8"/>
</g>
</g>
<g id="text_61">
<g transform="translate(873.8849 1045.3731) rotate(-45) scale(0.15 -0.15)">
<use href="#DejaVuSans-30"/>
<use href="#DejaVuSans-2e" transform="translate(62.4142 0)"/>
<use href="#DejaVuSans-34" transform="translate(93.5974 0)"/>
<use href="#DejaVuSans-35" transform="translate(156.0116 0)"/>
<use href="#DejaVuSans-30" transform="translate(218.4258 0)"/>
</g>
</g>
</g>
<g id="xtick_91">
<g id="line2d_174">
<g>
<use href="#me9cd61fec0" x="921.6" y="999.54" style="stroke: #000000; stroke-width: 0.8"/>
</g>
</g>
<g id="text_62">
<g transform="translate(909.5249 1045.3731) rotate(-45) scale(0.15 -0.15)">
<use href="#DejaVuSans-30"/>
<use href="#DejaVuSans-2e" transform="translate(62.4142 0)"/>
<use href="#DejaVuSans-34" transform="translate(93.5974 0)"/>
<use href="#DejaVuSans-35" transform="translate(156.0116 0)"/>
<use href="#DejaVuSans-36" transform="translate(218.4258 0)"/>
</g>
</g>
</g>
<g id="xtick_92">
<g id="line2d_175">
<g>
<use href="#me9cd61fec0" x="956.88" y="999.54" style="stroke: #000000; stroke-width: 0.8"/>
</g>
</g>
<g id="text_63">
<g transform="translate(944.8049 1045.3731) rotate(-45) scale(0.15 -0.15)">
<use href="#DejaVuSans-30"/>
<use href="#DejaVuSans-2e" transform="translate(62.4142 0)"/>
<use href="#DejaVuSans-34" transform="translate(93.5974 0)"/>
<use href="#DejaVuSans-36" transform="translate(156.0116 0)"/>
<use href="#DejaVuSans-32" transform="translate(218.4258 0)"/>
</g>
</g>
</g>
<g id="xtick_93">
<g id="line2d_176">
<g>
<use href="#me9cd61fec0" x="992.52" y="999.54" style="stroke: #000000; stroke-width: 0.8"/>
</g>
</g>
<g id="text_64">
<g transform="translate(980.4449 1045.3731) rotate(-45) scale(0.15 -0.15)">
<use href="#DejaVuSans-30"/>
<use href="#DejaVuSans-2e" transform="translate(62.4142 0)"/>
<use href="#DejaVuSans-34" transform="translate(93.5974 0)"/>
<use href="#DejaVuSans-36" transform="translate(156.0116 0)"/>
<use href="#DejaVuSans-38" transform="translate(218.4258 0)"/>
</g>
</g>
</g>
<g id="xtick_94">
<g id="line2d_177">
<g>
<use href="#me9cd61fec0" x="1028.16" y="999.54" style="stroke: #000000; stroke-width: 0.8"/>
</g>
</g>
<g id="text_65">
<g transform="translate(1016.0849 1045.3731) rotate(-45) scale(0.15 -0.15)">
<use href="#DejaVuSans-30"/>
<use href="#DejaVuSans-2e" transform="translate(62.4142 0)"/>
<use href="#DejaVuSans-34" transform="translate(93.5974 0)"/>
<use href="#DejaVuSans-37" transform="translate(156.0116 0)"/>
<use href="#DejaVuSans-34" transform="translate(218.4258 0)"/>
</g>
</g>
</g>
<g id="text_66">
<g transform="translate(952.709063 1057.593656) scale(0.15 -0.15)">
<use href="#DejaVuSans-4e"/>
</g>
</g>
</g>
<g id="matplotlib.axis_42"/>
<g id="line2d_178">
<path d="M 925.74 999.54 
L 925.74 844.02 
" clip-path="url(#p8574c73498)" style="fill: none; stroke-dasharray: 3.7,1.6; stroke-dashoffset: 0; stroke: #000000"/>
</g>
<g id="line2d_179">
<path d="M 956.34 999.54 
L 956.34 844.02 
" clip-path="url(#p8574c73498)" style="fill: none; stroke-dasharray: 3.7,1.6; stroke-dashoffset: 0; stroke: #000000"/>
</g>
<g id="line2d_180">
<path d="M 989.1 999.54 
L 989.1 844.02 
" clip-path="url(#p8574c73498)" style="fill: none; stroke-dasharray: 3.7,1.6; stroke-dashoffset: 0; stroke: #000000"/>
</g>
<g id="patch_169">
<path d="M 880.74 999.54 
L 880.74 844.02 
" style="fill: none; stroke: #000000; stroke-width: 0.5; stroke-linejoin: miter; stroke-linecap: square"/>
</g>
<g id="patch_170">
<path d="M 1035.9 999.54 
L 1035.9 844.02 
" style="fill: none; stroke: #000000; stroke-width: 0.5; stroke-linejoin: miter; stroke-linecap: square"/>
</g>
<g id="patch_171">
<path d="M 880.74 999.54 
L 1035.9 999.54 
" style="fill: none; stroke: #000000; stroke-width: 0.5; stroke-linejoin: miter; stroke-linecap: square"/>
</g>
<g id="patch_172">
<path d="M 880.74 844.02 
L 1035.9 844.02 
" style="fill: none; stroke: #000000; stroke-width: 0.5; stroke-linejoin: miter; stroke-linecap: square"/>
</g>
<g id="text_67">
<g transform="translate(899.1648 836.22) scale(0.18 -0.18)">
<use href="#DejaVuSans-4e" transform="translate(0 0.765625)"/>
<use href="#DejaVuSans-20" transform="translate(74.804688 0.765625)"/>
<use href="#DejaVuSans-3d" transform="translate(106.591797 0.765625)"/>
<use href="#DejaVuSans-20" transform="translate(190.380859 0.765625)"/>
<use href="#DejaVuSans-30" transform="translate(222.167969 0.765625)"/>
<use href="#DejaVuSans-2e" transform="translate(285.791016 0.765625)"/>
<use href="#DejaVuSans-34" transform="translate(317.578125 0.765625)"/>
<use href="#DejaVuSans-36" transform="translate(381.201172 0.765625)"/>
<use href="#DejaVuSans-2b" transform="translate(445.78125 39.046875) scale(0.7)"/>
<use href="#DejaVuSans-30" transform="translate(504.433594 39.046875) scale(0.7)"/>
<use href="#DejaVuSans-2e" transform="translate(548.969727 39.046875) scale(0.7)"/>
<use href="#DejaVuSans-30" transform="translate(571.220703 39.046875) scale(0.7)"/>
<use href="#DejaVuSans-31" transform="translate(615.756836 39.046875) scale(0.7)"/>
<use href="#DejaVuSans-2212" transform="translate(445.78125 -26.578125) scale(0.7)"/>
<use href="#DejaVuSans-30" transform="translate(504.433594 -26.578125) scale(0.7)"/>
<use href="#DejaVuSans-2e" transform="translate(548.969727 -26.578125) scale(0.7)"/>
<use href="#DejaVuSans-30" transform="translate(571.220703 -26.578125) scale(0.7)"/>
<use href="#DejaVuSans-31" transform="translate(615.756836 -26.578125) scale(0.7)"/>
</g>
</g>
</g>
</g>
<defs>
<clipPath id="p8bea83e322">
<rect x="64.62" y="28.26" width="155.52" height="155.16"/>
</clipPath>
<clipPath id="p93e1cdfbff">
<rect x="64.62" y="191.34" width="155.52" height="155.52"/>
</clipPath>
<clipPath id="p58d51e2e26">
<rect x="228.06" y="191.34" width="155.16" height="155.52"/>
</clipPath>
<clipPath id="p81c290a088">
<rect x="64.62" y="354.42" width="155.52" height="155.52"/>
</clipPath>
<clipPath id="p24df42d07b">
<rect x="228.06" y="354.42" width="155.16" height="155.52"/>
</clipPath>
<clipPath id="p8ffce338e2">
<rect x="391.14" y="354.42" width="155.52" height="155.52"/>
</clipPath>
<clipPath id="p4a394fea91">
<rect x="64.62" y="517.5" width="155.52" height="155.52"/>
</clipPath>
<clipPath id="pf3b33ba987">
<rect x="228.06" y="517.5" width="155.16" height="155.52"/>
</clipPath>
<clipPath id="p37af299f14">
<rect x="391.14" y="517.5" width="155.52" height="155.52"/>
</clipPath>
<clipPath id="p47b0021805">
<rect x="554.22" y="517.5" width="155.52" height="155.52"/>
</clipPath>
<clipPath id="p5c9a5f6ab5">
<rect x="64.62" y="680.94" width="155.52" height="155.16"/>
</clipPath>
<clipPath id="p75d287ee4d">
<rect x="228.06" y="680.94" width="155.16" height="155.16"/>
</clipPath>
<clipPath id="p4d2a3ec731">
<rect x="391.14" y="680.94" width="155.52" height="155.16"/>
</clipPath>
<clipPath id="p11b050dbea">
<rect x="554.22" y="680.94" width="155.52" height="155.16"/>
</clipPath>
<clipPath id="p4381dc3225">
<rect x="717.3" y="680.94" width="155.52" height="155.16"/>
</clipPath>
<clipPath id="pab45b6f2f8">
<rect x="64.62" y="844.02" width="155.52" height="155.52"/>
</clipPath>
<clipPath id="p811bba57eb">
<rect x="228.06" y="844.02" width="155.16" height="155.52"/>
</clipPath>
<clipPath id="p585a387f24">
<rect x="391.14" y="844.02" width="155.52" height="155.52"/>
</clipPath>
<clipPath id="p736b86f8f0">
<rect x="554.22" y="844.02" width="155.52" height="155.52"/>
</clipPath>
<clipPath id="p6b451f561b">
<rect x="717.3" y="844.02" width="155.52" height="155.52"/>
</clipPath>
<clipPath id="p8574c73498">
<rect x="880.74" y="844.02" width="155.16" height="155.52"/>
</clipPath>
</defs>
</svg>

</body></html>
